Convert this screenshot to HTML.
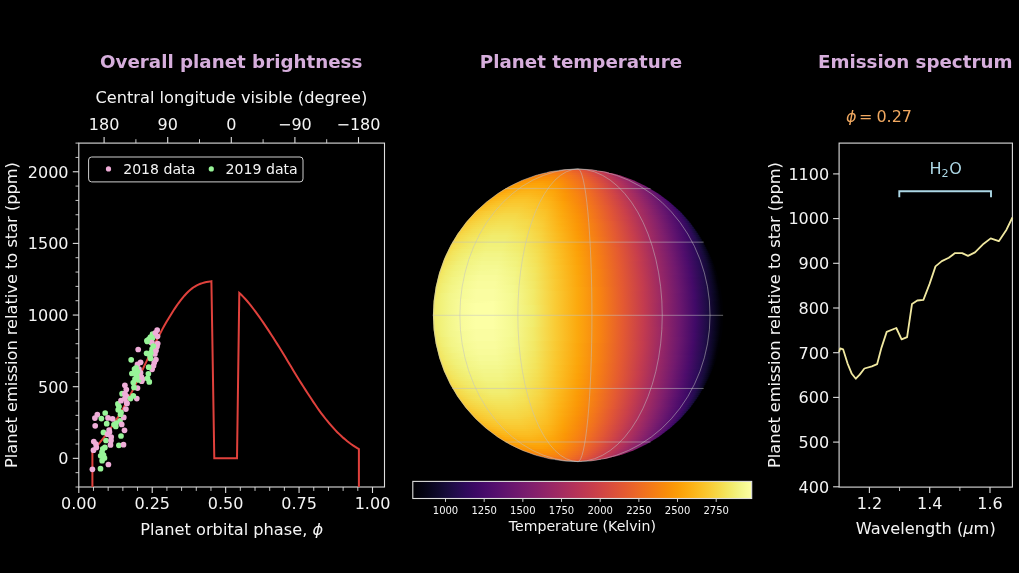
<!DOCTYPE html>
<html lang="en"><head><meta charset="utf-8"><title>Planet phase curve</title><style>html,body{margin:0;padding:0;background:#000;overflow:hidden}svg{display:block}</style></head><body><svg width="1019" height="573" viewBox="0 0 1019 573" font-family='"DejaVu Sans","Liberation Sans",sans-serif'>
<rect width="1019" height="573" fill="#000"/>
<text x="231.2" y="68.4" font-size="18.25" text-anchor="middle" fill="#d6aedc" font-weight="bold">Overall planet brightness</text>
<text x="581" y="68.4" font-size="18.25" text-anchor="middle" fill="#d6aedc" font-weight="bold">Planet temperature</text>
<text x="915.2" y="68.4" font-size="18.25" text-anchor="middle" fill="#d6aedc" font-weight="bold">Emission spectrum</text>
<rect x="78.8" y="143.1" width="305.7" height="343.9" fill="none" stroke="#dedede" stroke-width="1.1"/>
<line x1="78.8" y1="487" x2="78.8" y2="493" stroke="#dedede" stroke-width="1.1"/>
<text x="78.8" y="508.9" font-size="16.0" text-anchor="middle" fill="#f4f4f4">0.00</text>
<line x1="93.48" y1="487" x2="93.48" y2="490.9" stroke="#dedede" stroke-width="0.9"/>
<line x1="108.17" y1="487" x2="108.17" y2="490.9" stroke="#dedede" stroke-width="0.9"/>
<line x1="122.86" y1="487" x2="122.86" y2="490.9" stroke="#dedede" stroke-width="0.9"/>
<line x1="137.54" y1="487" x2="137.54" y2="490.9" stroke="#dedede" stroke-width="0.9"/>
<line x1="152.22" y1="487" x2="152.22" y2="493" stroke="#dedede" stroke-width="1.1"/>
<text x="152.22" y="508.9" font-size="16.0" text-anchor="middle" fill="#f4f4f4">0.25</text>
<line x1="166.91" y1="487" x2="166.91" y2="490.9" stroke="#dedede" stroke-width="0.9"/>
<line x1="181.59" y1="487" x2="181.59" y2="490.9" stroke="#dedede" stroke-width="0.9"/>
<line x1="196.28" y1="487" x2="196.28" y2="490.9" stroke="#dedede" stroke-width="0.9"/>
<line x1="210.96" y1="487" x2="210.96" y2="490.9" stroke="#dedede" stroke-width="0.9"/>
<line x1="225.65" y1="487" x2="225.65" y2="493" stroke="#dedede" stroke-width="1.1"/>
<text x="225.65" y="508.9" font-size="16.0" text-anchor="middle" fill="#f4f4f4">0.50</text>
<line x1="240.33" y1="487" x2="240.33" y2="490.9" stroke="#dedede" stroke-width="0.9"/>
<line x1="255.02" y1="487" x2="255.02" y2="490.9" stroke="#dedede" stroke-width="0.9"/>
<line x1="269.7" y1="487" x2="269.7" y2="490.9" stroke="#dedede" stroke-width="0.9"/>
<line x1="284.39" y1="487" x2="284.39" y2="490.9" stroke="#dedede" stroke-width="0.9"/>
<line x1="299.07" y1="487" x2="299.07" y2="493" stroke="#dedede" stroke-width="1.1"/>
<text x="299.07" y="508.9" font-size="16.0" text-anchor="middle" fill="#f4f4f4">0.75</text>
<line x1="313.76" y1="487" x2="313.76" y2="490.9" stroke="#dedede" stroke-width="0.9"/>
<line x1="328.44" y1="487" x2="328.44" y2="490.9" stroke="#dedede" stroke-width="0.9"/>
<line x1="343.13" y1="487" x2="343.13" y2="490.9" stroke="#dedede" stroke-width="0.9"/>
<line x1="357.81" y1="487" x2="357.81" y2="490.9" stroke="#dedede" stroke-width="0.9"/>
<line x1="372.5" y1="487" x2="372.5" y2="493" stroke="#dedede" stroke-width="1.1"/>
<text x="372.5" y="508.9" font-size="16.0" text-anchor="middle" fill="#f4f4f4">1.00</text>
<line x1="104.1" y1="143.1" x2="104.1" y2="137.1" stroke="#dedede" stroke-width="1.1"/>
<text x="104.1" y="130.3" font-size="16.0" text-anchor="middle" fill="#f4f4f4">180</text>
<line x1="135.9" y1="143.1" x2="135.9" y2="139.2" stroke="#dedede" stroke-width="0.9"/>
<line x1="167.7" y1="143.1" x2="167.7" y2="137.1" stroke="#dedede" stroke-width="1.1"/>
<text x="167.7" y="130.3" font-size="16.0" text-anchor="middle" fill="#f4f4f4">90</text>
<line x1="199.5" y1="143.1" x2="199.5" y2="139.2" stroke="#dedede" stroke-width="0.9"/>
<line x1="231.3" y1="143.1" x2="231.3" y2="137.1" stroke="#dedede" stroke-width="1.1"/>
<text x="231.3" y="130.3" font-size="16.0" text-anchor="middle" fill="#f4f4f4">0</text>
<line x1="263.1" y1="143.1" x2="263.1" y2="139.2" stroke="#dedede" stroke-width="0.9"/>
<line x1="294.9" y1="143.1" x2="294.9" y2="137.1" stroke="#dedede" stroke-width="1.1"/>
<text x="294.9" y="130.3" font-size="16.0" text-anchor="middle" fill="#f4f4f4">−90</text>
<line x1="326.7" y1="143.1" x2="326.7" y2="139.2" stroke="#dedede" stroke-width="0.9"/>
<line x1="358.5" y1="143.1" x2="358.5" y2="137.1" stroke="#dedede" stroke-width="1.1"/>
<text x="358.5" y="130.3" font-size="16.0" text-anchor="middle" fill="#f4f4f4">−180</text>
<line x1="78.8" y1="487" x2="75.5" y2="487" stroke="#dedede" stroke-width="0.9"/>
<line x1="78.8" y1="472.67" x2="75.5" y2="472.67" stroke="#dedede" stroke-width="0.9"/>
<line x1="78.8" y1="458.34" x2="72.8" y2="458.34" stroke="#dedede" stroke-width="1.1"/>
<text x="68.5" y="464.19" font-size="16.0" text-anchor="end" fill="#f4f4f4">0</text>
<line x1="78.8" y1="444.01" x2="75.5" y2="444.01" stroke="#dedede" stroke-width="0.9"/>
<line x1="78.8" y1="429.68" x2="75.5" y2="429.68" stroke="#dedede" stroke-width="0.9"/>
<line x1="78.8" y1="415.35" x2="75.5" y2="415.35" stroke="#dedede" stroke-width="0.9"/>
<line x1="78.8" y1="401.02" x2="75.5" y2="401.02" stroke="#dedede" stroke-width="0.9"/>
<line x1="78.8" y1="386.7" x2="72.8" y2="386.7" stroke="#dedede" stroke-width="1.1"/>
<text x="68.5" y="392.55" font-size="16.0" text-anchor="end" fill="#f4f4f4">500</text>
<line x1="78.8" y1="372.37" x2="75.5" y2="372.37" stroke="#dedede" stroke-width="0.9"/>
<line x1="78.8" y1="358.04" x2="75.5" y2="358.04" stroke="#dedede" stroke-width="0.9"/>
<line x1="78.8" y1="343.71" x2="75.5" y2="343.71" stroke="#dedede" stroke-width="0.9"/>
<line x1="78.8" y1="329.38" x2="75.5" y2="329.38" stroke="#dedede" stroke-width="0.9"/>
<line x1="78.8" y1="315.05" x2="72.8" y2="315.05" stroke="#dedede" stroke-width="1.1"/>
<text x="68.5" y="320.9" font-size="16.0" text-anchor="end" fill="#f4f4f4">1000</text>
<line x1="78.8" y1="300.72" x2="75.5" y2="300.72" stroke="#dedede" stroke-width="0.9"/>
<line x1="78.8" y1="286.39" x2="75.5" y2="286.39" stroke="#dedede" stroke-width="0.9"/>
<line x1="78.8" y1="272.06" x2="75.5" y2="272.06" stroke="#dedede" stroke-width="0.9"/>
<line x1="78.8" y1="257.73" x2="75.5" y2="257.73" stroke="#dedede" stroke-width="0.9"/>
<line x1="78.8" y1="243.4" x2="72.8" y2="243.4" stroke="#dedede" stroke-width="1.1"/>
<text x="68.5" y="249.25" font-size="16.0" text-anchor="end" fill="#f4f4f4">1500</text>
<line x1="78.8" y1="229.07" x2="75.5" y2="229.07" stroke="#dedede" stroke-width="0.9"/>
<line x1="78.8" y1="214.75" x2="75.5" y2="214.75" stroke="#dedede" stroke-width="0.9"/>
<line x1="78.8" y1="200.42" x2="75.5" y2="200.42" stroke="#dedede" stroke-width="0.9"/>
<line x1="78.8" y1="186.09" x2="75.5" y2="186.09" stroke="#dedede" stroke-width="0.9"/>
<line x1="78.8" y1="171.76" x2="72.8" y2="171.76" stroke="#dedede" stroke-width="1.1"/>
<text x="68.5" y="177.61" font-size="16.0" text-anchor="end" fill="#f4f4f4">2000</text>
<line x1="78.8" y1="157.43" x2="75.5" y2="157.43" stroke="#dedede" stroke-width="0.9"/>
<line x1="78.8" y1="143.1" x2="75.5" y2="143.1" stroke="#dedede" stroke-width="0.9"/>
<text x="231.35" y="102.8" font-size="16.2" text-anchor="middle" fill="#f4f4f4">Central longitude visible (degree)</text>
<text x="231.65" y="534.7" font-size="16.2" text-anchor="middle" fill="#f4f4f4">Planet orbital phase, <tspan font-style="italic">ϕ</tspan></text>
<text transform="translate(16.9 315.05) rotate(-90)" font-size="16.2" text-anchor="middle" fill="#f4f4f4">Planet emission relative to star (ppm)</text>
<polyline fill="none" stroke="#e0413c" stroke-width="2" stroke-linejoin="miter" points="92.4,487 92.4,452.05 94.4,449.45 96.4,446.91 98.4,444.39 100.4,441.88 102.4,439.34 104.4,436.77 106.4,434.13 108.4,431.42 110.4,428.63 112.4,425.74 114.4,422.74 116.4,419.64 118.4,416.43 120.4,413.1 122.4,409.66 124.4,406.1 126.4,402.44 128.4,398.67 130.4,394.8 132.4,390.84 134.4,386.8 136.4,382.68 138.4,378.5 140.4,374.27 142.4,370.03 144.4,365.8 146.4,361.59 148.4,357.38 150.4,353.18 152.4,349 154.4,344.87 156.4,340.81 158.4,336.82 160.4,332.93 162.4,329.14 164.4,325.52 166.4,322.06 168.4,318.71 170.4,315.44 172.4,312.2 174.4,309.07 176.4,306.1 178.4,303.28 180.4,300.64 182.4,298.13 184.4,295.72 186.4,293.48 188.4,291.46 190.4,289.69 192.4,288.14 194.4,286.77 196.4,285.6 198.4,284.6 200.4,283.77 202.4,283.08 204.4,282.52 206.4,282.06 208.4,281.68 210.4,281.37 211.4,281.22 214.3,458.3 237,458.3 239.3,292.99 241.3,294.84 243.3,296.85 245.3,298.99 247.3,301.26 249.3,303.66 251.3,306.17 253.3,308.74 255.3,311.39 257.3,314.11 259.3,316.91 261.3,319.78 263.3,322.68 265.3,325.62 267.3,328.59 269.3,331.61 271.3,334.69 273.3,337.82 275.3,340.97 277.3,344.14 279.3,347.33 281.3,350.55 283.3,353.8 285.3,357.1 287.3,360.43 289.3,363.78 291.3,367.11 293.3,370.41 295.3,373.7 297.3,376.95 299.3,380.17 301.3,383.35 303.3,386.5 305.3,389.59 307.3,392.67 309.3,395.75 311.3,398.81 313.3,401.83 315.3,404.81 317.3,407.72 319.3,410.55 321.3,413.29 323.3,415.94 325.3,418.5 327.3,420.98 329.3,423.39 331.3,425.71 333.3,427.95 335.3,430.11 337.3,432.18 339.3,434.16 341.3,436.06 343.3,437.88 345.3,439.6 347.3,441.25 349.3,442.8 351.3,444.27 353.3,445.65 355.3,446.95 357.3,448.16 358.9,449.07 358.9,487"/>
<circle cx="152.1" cy="349.1" r="2.85" fill="#98f598"/>
<circle cx="115.8" cy="426.5" r="2.85" fill="#98f598"/>
<circle cx="97.3" cy="414.7" r="2.85" fill="#efadd8"/>
<circle cx="157.7" cy="343.5" r="2.85" fill="#efadd8"/>
<circle cx="157.2" cy="330" r="2.85" fill="#efadd8"/>
<circle cx="142.5" cy="379" r="2.85" fill="#efadd8"/>
<circle cx="154.3" cy="362.5" r="2.85" fill="#efadd8"/>
<circle cx="147.5" cy="378.4" r="2.85" fill="#98f598"/>
<circle cx="122.1" cy="393.7" r="2.85" fill="#98f598"/>
<circle cx="139" cy="369" r="2.85" fill="#efadd8"/>
<circle cx="151.9" cy="342.6" r="2.85" fill="#efadd8"/>
<circle cx="118.9" cy="445.3" r="2.85" fill="#98f598"/>
<circle cx="95.9" cy="444" r="2.85" fill="#efadd8"/>
<circle cx="154.9" cy="354" r="2.85" fill="#efadd8"/>
<circle cx="93.8" cy="441.6" r="2.85" fill="#efadd8"/>
<circle cx="141.7" cy="381.2" r="2.85" fill="#efadd8"/>
<circle cx="140.6" cy="372.8" r="2.85" fill="#efadd8"/>
<circle cx="120" cy="420.9" r="2.85" fill="#98f598"/>
<circle cx="149.3" cy="381.9" r="2.85" fill="#98f598"/>
<circle cx="133.3" cy="382.6" r="2.85" fill="#98f598"/>
<circle cx="117.9" cy="403.9" r="2.85" fill="#98f598"/>
<circle cx="102" cy="452" r="2.85" fill="#98f598"/>
<circle cx="121.7" cy="424.4" r="2.85" fill="#efadd8"/>
<circle cx="124.9" cy="398.6" r="2.85" fill="#efadd8"/>
<circle cx="134.5" cy="372.6" r="2.85" fill="#98f598"/>
<circle cx="134.5" cy="369" r="2.85" fill="#98f598"/>
<circle cx="151" cy="352.5" r="2.85" fill="#98f598"/>
<circle cx="152.5" cy="338" r="2.85" fill="#98f598"/>
<circle cx="116.1" cy="423" r="2.85" fill="#98f598"/>
<circle cx="155.9" cy="359.5" r="2.85" fill="#efadd8"/>
<circle cx="152.6" cy="334.2" r="2.85" fill="#98f598"/>
<circle cx="138.2" cy="349.5" r="2.85" fill="#efadd8"/>
<circle cx="136.5" cy="375.5" r="2.85" fill="#98f598"/>
<circle cx="135" cy="379" r="2.85" fill="#98f598"/>
<circle cx="149" cy="339" r="2.85" fill="#98f598"/>
<circle cx="93.5" cy="450.2" r="2.85" fill="#efadd8"/>
<circle cx="121" cy="400.7" r="2.85" fill="#efadd8"/>
<circle cx="140.6" cy="362.3" r="2.85" fill="#efadd8"/>
<circle cx="96.3" cy="447.4" r="2.85" fill="#efadd8"/>
<circle cx="114" cy="424.5" r="2.85" fill="#98f598"/>
<circle cx="137.5" cy="388.1" r="2.85" fill="#efadd8"/>
<circle cx="126.3" cy="396" r="2.85" fill="#efadd8"/>
<circle cx="148.4" cy="373.8" r="2.85" fill="#98f598"/>
<circle cx="100.7" cy="455.8" r="2.85" fill="#98f598"/>
<circle cx="157" cy="346.5" r="2.85" fill="#efadd8"/>
<circle cx="147" cy="340.5" r="2.85" fill="#98f598"/>
<circle cx="104.5" cy="458" r="2.85" fill="#98f598"/>
<circle cx="126.6" cy="402.8" r="2.85" fill="#efadd8"/>
<circle cx="94.9" cy="418.1" r="2.85" fill="#efadd8"/>
<circle cx="153.5" cy="365.8" r="2.85" fill="#efadd8"/>
<circle cx="121" cy="412.3" r="2.85" fill="#98f598"/>
<circle cx="106.7" cy="423.7" r="2.85" fill="#98f598"/>
<circle cx="109.5" cy="432" r="2.85" fill="#efadd8"/>
<circle cx="152.1" cy="369.3" r="2.85" fill="#efadd8"/>
<circle cx="150" cy="356" r="2.85" fill="#98f598"/>
<circle cx="150.5" cy="358.5" r="2.85" fill="#98f598"/>
<circle cx="124.9" cy="385.3" r="2.85" fill="#efadd8"/>
<circle cx="124.5" cy="430.3" r="2.85" fill="#efadd8"/>
<circle cx="105.2" cy="413" r="2.85" fill="#98f598"/>
<circle cx="106" cy="440.5" r="2.85" fill="#98f598"/>
<circle cx="119" cy="406.5" r="2.85" fill="#98f598"/>
<circle cx="126.3" cy="389.5" r="2.85" fill="#efadd8"/>
<circle cx="123.8" cy="417.4" r="2.85" fill="#efadd8"/>
<circle cx="102.1" cy="460.7" r="2.85" fill="#98f598"/>
<circle cx="131.2" cy="359.8" r="2.85" fill="#98f598"/>
<circle cx="146.6" cy="353.3" r="2.85" fill="#98f598"/>
<circle cx="110.5" cy="444.9" r="2.85" fill="#efadd8"/>
<circle cx="155.4" cy="332.8" r="2.85" fill="#efadd8"/>
<circle cx="108.4" cy="464.5" r="2.85" fill="#efadd8"/>
<circle cx="150.5" cy="337" r="2.85" fill="#98f598"/>
<circle cx="125.9" cy="409.1" r="2.85" fill="#efadd8"/>
<circle cx="101.4" cy="418.6" r="2.85" fill="#98f598"/>
<circle cx="108" cy="417.9" r="2.85" fill="#efadd8"/>
<circle cx="109.1" cy="430" r="2.85" fill="#efadd8"/>
<circle cx="95.2" cy="425.8" r="2.85" fill="#efadd8"/>
<circle cx="120.5" cy="414.5" r="2.85" fill="#98f598"/>
<circle cx="151.4" cy="342.5" r="2.85" fill="#efadd8"/>
<circle cx="130.5" cy="398.6" r="2.85" fill="#98f598"/>
<circle cx="136.8" cy="398.6" r="2.85" fill="#efadd8"/>
<circle cx="111" cy="440.5" r="2.85" fill="#efadd8"/>
<circle cx="104.9" cy="447.4" r="2.85" fill="#98f598"/>
<circle cx="148.7" cy="367.2" r="2.85" fill="#98f598"/>
<circle cx="133.3" cy="395.8" r="2.85" fill="#98f598"/>
<circle cx="138.5" cy="380" r="2.85" fill="#98f598"/>
<circle cx="100.5" cy="468.7" r="2.85" fill="#98f598"/>
<circle cx="103.5" cy="432.4" r="2.85" fill="#98f598"/>
<circle cx="92.4" cy="469.3" r="2.85" fill="#efadd8"/>
<circle cx="141.4" cy="377" r="2.85" fill="#efadd8"/>
<circle cx="131.9" cy="373.5" r="2.85" fill="#98f598"/>
<circle cx="102.8" cy="448.8" r="2.85" fill="#98f598"/>
<circle cx="137.5" cy="371.5" r="2.85" fill="#98f598"/>
<circle cx="147.3" cy="341.4" r="2.85" fill="#98f598"/>
<circle cx="124.9" cy="393.7" r="2.85" fill="#efadd8"/>
<circle cx="127" cy="403.5" r="2.85" fill="#efadd8"/>
<circle cx="156" cy="350.5" r="2.85" fill="#efadd8"/>
<circle cx="123.5" cy="444.7" r="2.85" fill="#efadd8"/>
<circle cx="112.6" cy="418.8" r="2.85" fill="#efadd8"/>
<circle cx="136.8" cy="377" r="2.85" fill="#98f598"/>
<circle cx="137.5" cy="364.4" r="2.85" fill="#efadd8"/>
<circle cx="121" cy="436" r="2.85" fill="#98f598"/>
<circle cx="153.3" cy="346" r="2.85" fill="#98f598"/>
<circle cx="134" cy="387.4" r="2.85" fill="#98f598"/>
<circle cx="136.1" cy="367.9" r="2.85" fill="#98f598"/>
<circle cx="111.2" cy="437" r="2.85" fill="#efadd8"/>
<circle cx="157.5" cy="336.3" r="2.85" fill="#efadd8"/>
<circle cx="107.7" cy="434.2" r="2.85" fill="#efadd8"/>
<circle cx="103.5" cy="455.1" r="2.85" fill="#98f598"/>
<circle cx="118.2" cy="409.8" r="2.85" fill="#98f598"/>
<rect x="88.6" y="157" width="214.4" height="24.9" rx="3" fill="#000" stroke="#cfcfcf" stroke-width="1"/>
<circle cx="108.5" cy="168.9" r="2.6" fill="#efadd8"/>
<text x="123.2" y="174.3" font-size="14.1" text-anchor="start" fill="#f4f4f4">2018 data</text>
<circle cx="211.3" cy="168.9" r="2.6" fill="#98f598"/>
<text x="225.6" y="174.3" font-size="14.1" text-anchor="start" fill="#f4f4f4">2019 data</text>
<defs><clipPath id="disk"><ellipse cx="578.0" cy="315.3" rx="145.1" ry="146.3"/></clipPath></defs>
<defs><linearGradient id="g0" gradientUnits="userSpaceOnUse" x1="432.9" x2="723.1" y1="0" y2="0"><stop offset="0.4416" stop-color="#e9612b"/><stop offset="0.4424" stop-color="#e9612b"/><stop offset="0.4445" stop-color="#ea632a"/><stop offset="0.4480" stop-color="#ea632a"/><stop offset="0.4528" stop-color="#eb6429"/><stop offset="0.4587" stop-color="#eb6429"/><stop offset="0.4657" stop-color="#eb6429"/><stop offset="0.4735" stop-color="#eb6429"/><stop offset="0.4820" stop-color="#e9612b"/><stop offset="0.4909" stop-color="#e65d2f"/><stop offset="0.5000" stop-color="#e45a31"/><stop offset="0.5091" stop-color="#e05536"/><stop offset="0.5180" stop-color="#db503b"/><stop offset="0.5265" stop-color="#d84c3e"/><stop offset="0.5343" stop-color="#d34743"/><stop offset="0.5413" stop-color="#cf4446"/><stop offset="0.5472" stop-color="#cb4149"/><stop offset="0.5520" stop-color="#c73e4c"/><stop offset="0.5555" stop-color="#c43c4e"/><stop offset="0.5576" stop-color="#c13a50"/><stop offset="0.5584" stop-color="#c03a51"/></linearGradient><linearGradient id="g1" gradientUnits="userSpaceOnUse" x1="432.9" x2="723.1" y1="0" y2="0"><stop offset="0.3993" stop-color="#ef6e21"/><stop offset="0.4005" stop-color="#f06f20"/><stop offset="0.4042" stop-color="#f1711f"/><stop offset="0.4102" stop-color="#f1731d"/><stop offset="0.4185" stop-color="#f2741c"/><stop offset="0.4288" stop-color="#f2741c"/><stop offset="0.4408" stop-color="#f2741c"/><stop offset="0.4543" stop-color="#f1731d"/><stop offset="0.4689" stop-color="#f06f20"/><stop offset="0.4842" stop-color="#ec6726"/><stop offset="0.5000" stop-color="#e9612b"/><stop offset="0.5158" stop-color="#e35933"/><stop offset="0.5311" stop-color="#dd513a"/><stop offset="0.5457" stop-color="#d54a41"/><stop offset="0.5592" stop-color="#ce4347"/><stop offset="0.5712" stop-color="#c63d4d"/><stop offset="0.5815" stop-color="#bf3952"/><stop offset="0.5898" stop-color="#b93556"/><stop offset="0.5958" stop-color="#b43359"/><stop offset="0.5995" stop-color="#ae305c"/><stop offset="0.6007" stop-color="#a92e5e"/></linearGradient><linearGradient id="g2" gradientUnits="userSpaceOnUse" x1="432.9" x2="723.1" y1="0" y2="0"><stop offset="0.3704" stop-color="#f3761b"/><stop offset="0.3720" stop-color="#f37819"/><stop offset="0.3767" stop-color="#f47918"/><stop offset="0.3845" stop-color="#f57d15"/><stop offset="0.3952" stop-color="#f67e14"/><stop offset="0.4084" stop-color="#f68013"/><stop offset="0.4238" stop-color="#f68013"/><stop offset="0.4412" stop-color="#f57d15"/><stop offset="0.4600" stop-color="#f37819"/><stop offset="0.4797" stop-color="#f06f20"/><stop offset="0.5000" stop-color="#eb6628"/><stop offset="0.5203" stop-color="#e55c30"/><stop offset="0.5400" stop-color="#de5238"/><stop offset="0.5588" stop-color="#d44842"/><stop offset="0.5762" stop-color="#ca404a"/><stop offset="0.5916" stop-color="#c03a51"/><stop offset="0.6048" stop-color="#b63458"/><stop offset="0.6155" stop-color="#ae305c"/><stop offset="0.6233" stop-color="#a82e5f"/><stop offset="0.6280" stop-color="#a02a63"/><stop offset="0.6296" stop-color="#9a2865"/></linearGradient><linearGradient id="g3" gradientUnits="userSpaceOnUse" x1="432.9" x2="723.1" y1="0" y2="0"><stop offset="0.3472" stop-color="#f57d15"/><stop offset="0.3491" stop-color="#f68013"/><stop offset="0.3547" stop-color="#f78212"/><stop offset="0.3638" stop-color="#f78410"/><stop offset="0.3764" stop-color="#f8870e"/><stop offset="0.3919" stop-color="#f8890c"/><stop offset="0.4102" stop-color="#f8890c"/><stop offset="0.4306" stop-color="#f8850f"/><stop offset="0.4528" stop-color="#f67e14"/><stop offset="0.4761" stop-color="#f3761b"/><stop offset="0.5000" stop-color="#ee6a24"/><stop offset="0.5239" stop-color="#e75e2e"/><stop offset="0.5472" stop-color="#de5238"/><stop offset="0.5694" stop-color="#d34743"/><stop offset="0.5898" stop-color="#c73e4c"/><stop offset="0.6081" stop-color="#bc3754"/><stop offset="0.6236" stop-color="#b0315b"/><stop offset="0.6362" stop-color="#a62d60"/><stop offset="0.6453" stop-color="#9d2964"/><stop offset="0.6509" stop-color="#952667"/><stop offset="0.6528" stop-color="#8d2369"/></linearGradient><linearGradient id="g4" gradientUnits="userSpaceOnUse" x1="432.9" x2="723.1" y1="0" y2="0"><stop offset="0.3273" stop-color="#f78410"/><stop offset="0.3295" stop-color="#f8850f"/><stop offset="0.3358" stop-color="#f8890c"/><stop offset="0.3462" stop-color="#f98b0b"/><stop offset="0.3603" stop-color="#f98e09"/><stop offset="0.3779" stop-color="#fa9008"/><stop offset="0.3985" stop-color="#fa9008"/><stop offset="0.4216" stop-color="#f98c0a"/><stop offset="0.4466" stop-color="#f8850f"/><stop offset="0.4730" stop-color="#f47918"/><stop offset="0.5000" stop-color="#ef6e21"/><stop offset="0.5270" stop-color="#e9612b"/><stop offset="0.5534" stop-color="#df5337"/><stop offset="0.5784" stop-color="#d34743"/><stop offset="0.6015" stop-color="#c43c4e"/><stop offset="0.6221" stop-color="#b73557"/><stop offset="0.6397" stop-color="#a92e5e"/><stop offset="0.6538" stop-color="#9f2a63"/><stop offset="0.6642" stop-color="#952667"/><stop offset="0.6705" stop-color="#8c2369"/><stop offset="0.6727" stop-color="#82206c"/></linearGradient><linearGradient id="g5" gradientUnits="userSpaceOnUse" x1="432.9" x2="723.1" y1="0" y2="0"><stop offset="0.3098" stop-color="#f8890c"/><stop offset="0.3121" stop-color="#f98b0b"/><stop offset="0.3191" stop-color="#f98e09"/><stop offset="0.3305" stop-color="#fa9207"/><stop offset="0.3461" stop-color="#fa9407"/><stop offset="0.3655" stop-color="#fb9606"/><stop offset="0.3882" stop-color="#fb9606"/><stop offset="0.4136" stop-color="#fa9207"/><stop offset="0.4412" stop-color="#f98b0b"/><stop offset="0.4702" stop-color="#f67e14"/><stop offset="0.5000" stop-color="#f1711f"/><stop offset="0.5298" stop-color="#ea632a"/><stop offset="0.5588" stop-color="#df5337"/><stop offset="0.5864" stop-color="#d24644"/><stop offset="0.6118" stop-color="#c33b4f"/><stop offset="0.6345" stop-color="#b3325a"/><stop offset="0.6539" stop-color="#a32c61"/><stop offset="0.6695" stop-color="#972766"/><stop offset="0.6809" stop-color="#8d2369"/><stop offset="0.6879" stop-color="#84206b"/><stop offset="0.6902" stop-color="#781c6d"/></linearGradient><linearGradient id="g6" gradientUnits="userSpaceOnUse" x1="432.9" x2="723.1" y1="0" y2="0"><stop offset="0.2940" stop-color="#f98e09"/><stop offset="0.2965" stop-color="#fa9008"/><stop offset="0.3040" stop-color="#fa9407"/><stop offset="0.3164" stop-color="#fb9706"/><stop offset="0.3333" stop-color="#fb9906"/><stop offset="0.3543" stop-color="#fb9d07"/><stop offset="0.3789" stop-color="#fb9d07"/><stop offset="0.4065" stop-color="#fb9906"/><stop offset="0.4363" stop-color="#fa9008"/><stop offset="0.4678" stop-color="#f78212"/><stop offset="0.5000" stop-color="#f2741c"/><stop offset="0.5322" stop-color="#eb6429"/><stop offset="0.5637" stop-color="#df5337"/><stop offset="0.5935" stop-color="#d04545"/><stop offset="0.6211" stop-color="#c03a51"/><stop offset="0.6457" stop-color="#b0315b"/><stop offset="0.6667" stop-color="#9f2a63"/><stop offset="0.6836" stop-color="#922568"/><stop offset="0.6960" stop-color="#87216b"/><stop offset="0.7035" stop-color="#7c1d6d"/><stop offset="0.7060" stop-color="#71196e"/></linearGradient><linearGradient id="g7" gradientUnits="userSpaceOnUse" x1="432.9" x2="723.1" y1="0" y2="0"><stop offset="0.2795" stop-color="#fa9207"/><stop offset="0.2822" stop-color="#fb9606"/><stop offset="0.2903" stop-color="#fb9706"/><stop offset="0.3035" stop-color="#fb9b06"/><stop offset="0.3216" stop-color="#fc9f07"/><stop offset="0.3441" stop-color="#fca309"/><stop offset="0.3704" stop-color="#fca309"/><stop offset="0.3999" stop-color="#fb9d07"/><stop offset="0.4319" stop-color="#fb9606"/><stop offset="0.4655" stop-color="#f8850f"/><stop offset="0.5000" stop-color="#f3761b"/><stop offset="0.5345" stop-color="#eb6628"/><stop offset="0.5681" stop-color="#e05536"/><stop offset="0.6001" stop-color="#d04545"/><stop offset="0.6296" stop-color="#bf3952"/><stop offset="0.6559" stop-color="#ab2f5e"/><stop offset="0.6784" stop-color="#9a2865"/><stop offset="0.6965" stop-color="#8c2369"/><stop offset="0.7097" stop-color="#801f6c"/><stop offset="0.7178" stop-color="#741a6e"/><stop offset="0.7205" stop-color="#69166e"/></linearGradient><linearGradient id="g8" gradientUnits="userSpaceOnUse" x1="432.9" x2="723.1" y1="0" y2="0"><stop offset="0.2661" stop-color="#fb9606"/><stop offset="0.2689" stop-color="#fb9906"/><stop offset="0.2775" stop-color="#fb9d07"/><stop offset="0.2916" stop-color="#fca108"/><stop offset="0.3107" stop-color="#fca50a"/><stop offset="0.3346" stop-color="#fca60c"/><stop offset="0.3625" stop-color="#fca60c"/><stop offset="0.3938" stop-color="#fca309"/><stop offset="0.4277" stop-color="#fb9906"/><stop offset="0.4634" stop-color="#f8890c"/><stop offset="0.5000" stop-color="#f47918"/><stop offset="0.5366" stop-color="#ec6726"/><stop offset="0.5723" stop-color="#e05536"/><stop offset="0.6062" stop-color="#cf4446"/><stop offset="0.6375" stop-color="#bc3754"/><stop offset="0.6654" stop-color="#a82e5f"/><stop offset="0.6893" stop-color="#952667"/><stop offset="0.7084" stop-color="#87216b"/><stop offset="0.7225" stop-color="#7a1d6d"/><stop offset="0.7311" stop-color="#6d186e"/><stop offset="0.7339" stop-color="#61136e"/></linearGradient><linearGradient id="g9" gradientUnits="userSpaceOnUse" x1="432.9" x2="723.1" y1="0" y2="0"><stop offset="0.2536" stop-color="#fb9906"/><stop offset="0.2566" stop-color="#fb9d07"/><stop offset="0.2656" stop-color="#fca108"/><stop offset="0.2804" stop-color="#fca50a"/><stop offset="0.3006" stop-color="#fca80d"/><stop offset="0.3258" stop-color="#fcac11"/><stop offset="0.3552" stop-color="#fcac11"/><stop offset="0.3881" stop-color="#fca60c"/><stop offset="0.4239" stop-color="#fb9d07"/><stop offset="0.4615" stop-color="#f98c0a"/><stop offset="0.5000" stop-color="#f57b17"/><stop offset="0.5385" stop-color="#ec6726"/><stop offset="0.5761" stop-color="#e05536"/><stop offset="0.6119" stop-color="#cf4446"/><stop offset="0.6448" stop-color="#ba3655"/><stop offset="0.6742" stop-color="#a62d60"/><stop offset="0.6994" stop-color="#922568"/><stop offset="0.7196" stop-color="#82206c"/><stop offset="0.7344" stop-color="#751b6e"/><stop offset="0.7434" stop-color="#67166e"/><stop offset="0.7464" stop-color="#5a116e"/></linearGradient><linearGradient id="g10" gradientUnits="userSpaceOnUse" x1="432.9" x2="723.1" y1="0" y2="0"><stop offset="0.2419" stop-color="#fb9d07"/><stop offset="0.2451" stop-color="#fca108"/><stop offset="0.2545" stop-color="#fca50a"/><stop offset="0.2700" stop-color="#fca80d"/><stop offset="0.2912" stop-color="#fcac11"/><stop offset="0.3175" stop-color="#fcb014"/><stop offset="0.3483" stop-color="#fcb014"/><stop offset="0.3828" stop-color="#fcaa0f"/><stop offset="0.4202" stop-color="#fca108"/><stop offset="0.4596" stop-color="#fa9008"/><stop offset="0.5000" stop-color="#f57d15"/><stop offset="0.5404" stop-color="#ed6925"/><stop offset="0.5798" stop-color="#e05536"/><stop offset="0.6172" stop-color="#cf4446"/><stop offset="0.6517" stop-color="#b93556"/><stop offset="0.6825" stop-color="#a32c61"/><stop offset="0.7088" stop-color="#8f2469"/><stop offset="0.7300" stop-color="#7d1e6d"/><stop offset="0.7455" stop-color="#6f196e"/><stop offset="0.7549" stop-color="#62146e"/><stop offset="0.7581" stop-color="#540f6d"/></linearGradient><linearGradient id="g11" gradientUnits="userSpaceOnUse" x1="432.9" x2="723.1" y1="0" y2="0"><stop offset="0.2309" stop-color="#fca108"/><stop offset="0.2342" stop-color="#fca50a"/><stop offset="0.2440" stop-color="#fca80d"/><stop offset="0.2602" stop-color="#fcac11"/><stop offset="0.2823" stop-color="#fcb014"/><stop offset="0.3097" stop-color="#fcb418"/><stop offset="0.3418" stop-color="#fcb418"/><stop offset="0.3778" stop-color="#fcb014"/><stop offset="0.4168" stop-color="#fca50a"/><stop offset="0.4579" stop-color="#fa9207"/><stop offset="0.5000" stop-color="#f68013"/><stop offset="0.5421" stop-color="#ee6a24"/><stop offset="0.5832" stop-color="#e05536"/><stop offset="0.6222" stop-color="#ce4347"/><stop offset="0.6582" stop-color="#b73557"/><stop offset="0.6903" stop-color="#a02a63"/><stop offset="0.7177" stop-color="#8a226a"/><stop offset="0.7398" stop-color="#781c6d"/><stop offset="0.7560" stop-color="#6a176e"/><stop offset="0.7658" stop-color="#5c126e"/><stop offset="0.7691" stop-color="#4d0d6c"/></linearGradient><linearGradient id="g12" gradientUnits="userSpaceOnUse" x1="432.9" x2="723.1" y1="0" y2="0"><stop offset="0.2205" stop-color="#fca50a"/><stop offset="0.2239" stop-color="#fca80d"/><stop offset="0.2341" stop-color="#fcac11"/><stop offset="0.2509" stop-color="#fcb014"/><stop offset="0.2739" stop-color="#fcb418"/><stop offset="0.3023" stop-color="#fbb81d"/><stop offset="0.3357" stop-color="#fbb81d"/><stop offset="0.3731" stop-color="#fcb216"/><stop offset="0.4136" stop-color="#fca80d"/><stop offset="0.4563" stop-color="#fb9606"/><stop offset="0.5000" stop-color="#f78212"/><stop offset="0.5437" stop-color="#ef6c23"/><stop offset="0.5864" stop-color="#e15635"/><stop offset="0.6269" stop-color="#ce4347"/><stop offset="0.6643" stop-color="#b63458"/><stop offset="0.6977" stop-color="#9f2a63"/><stop offset="0.7261" stop-color="#87216b"/><stop offset="0.7491" stop-color="#751b6e"/><stop offset="0.7659" stop-color="#67166e"/><stop offset="0.7761" stop-color="#57106e"/><stop offset="0.7795" stop-color="#490b6a"/></linearGradient><linearGradient id="g13" gradientUnits="userSpaceOnUse" x1="432.9" x2="723.1" y1="0" y2="0"><stop offset="0.2106" stop-color="#fca60c"/><stop offset="0.2141" stop-color="#fcaa0f"/><stop offset="0.2247" stop-color="#fcb014"/><stop offset="0.2421" stop-color="#fcb418"/><stop offset="0.2659" stop-color="#fbb81d"/><stop offset="0.2954" stop-color="#fbbc21"/><stop offset="0.3299" stop-color="#fbbc21"/><stop offset="0.3686" stop-color="#fbb61a"/><stop offset="0.4106" stop-color="#fcaa0f"/><stop offset="0.4547" stop-color="#fb9706"/><stop offset="0.5000" stop-color="#f78410"/><stop offset="0.5453" stop-color="#ef6c23"/><stop offset="0.5894" stop-color="#e15635"/><stop offset="0.6314" stop-color="#ce4347"/><stop offset="0.6701" stop-color="#b43359"/><stop offset="0.7046" stop-color="#9b2964"/><stop offset="0.7341" stop-color="#84206b"/><stop offset="0.7579" stop-color="#71196e"/><stop offset="0.7753" stop-color="#62146e"/><stop offset="0.7859" stop-color="#520e6d"/><stop offset="0.7894" stop-color="#420a68"/></linearGradient><linearGradient id="g14" gradientUnits="userSpaceOnUse" x1="432.9" x2="723.1" y1="0" y2="0"><stop offset="0.2012" stop-color="#fcaa0f"/><stop offset="0.2049" stop-color="#fcae12"/><stop offset="0.2158" stop-color="#fcb216"/><stop offset="0.2338" stop-color="#fbb81d"/><stop offset="0.2583" stop-color="#fbbc21"/><stop offset="0.2887" stop-color="#fac026"/><stop offset="0.3244" stop-color="#fac026"/><stop offset="0.3643" stop-color="#fbba1f"/><stop offset="0.4077" stop-color="#fcae12"/><stop offset="0.4533" stop-color="#fb9906"/><stop offset="0.5000" stop-color="#f8850f"/><stop offset="0.5467" stop-color="#ef6e21"/><stop offset="0.5923" stop-color="#e15635"/><stop offset="0.6357" stop-color="#cc4248"/><stop offset="0.6756" stop-color="#b3325a"/><stop offset="0.7113" stop-color="#9a2865"/><stop offset="0.7417" stop-color="#801f6c"/><stop offset="0.7662" stop-color="#6d186e"/><stop offset="0.7842" stop-color="#5d126e"/><stop offset="0.7951" stop-color="#4d0d6c"/><stop offset="0.7988" stop-color="#3d0965"/></linearGradient><linearGradient id="g15" gradientUnits="userSpaceOnUse" x1="432.9" x2="723.1" y1="0" y2="0"><stop offset="0.1922" stop-color="#fcac11"/><stop offset="0.1960" stop-color="#fcb014"/><stop offset="0.2073" stop-color="#fbb61a"/><stop offset="0.2258" stop-color="#fbba1f"/><stop offset="0.2510" stop-color="#fac026"/><stop offset="0.2824" stop-color="#fac42a"/><stop offset="0.3191" stop-color="#fac42a"/><stop offset="0.3603" stop-color="#fbbe23"/><stop offset="0.4049" stop-color="#fcb014"/><stop offset="0.4519" stop-color="#fb9b06"/><stop offset="0.5000" stop-color="#f8870e"/><stop offset="0.5481" stop-color="#ef6e21"/><stop offset="0.5951" stop-color="#e15635"/><stop offset="0.6397" stop-color="#cc4248"/><stop offset="0.6809" stop-color="#b1325a"/><stop offset="0.7176" stop-color="#972766"/><stop offset="0.7490" stop-color="#7f1e6c"/><stop offset="0.7742" stop-color="#6a176e"/><stop offset="0.7927" stop-color="#5a116e"/><stop offset="0.8040" stop-color="#490b6a"/><stop offset="0.8078" stop-color="#380962"/></linearGradient><linearGradient id="g16" gradientUnits="userSpaceOnUse" x1="432.9" x2="723.1" y1="0" y2="0"><stop offset="0.1837" stop-color="#fcb014"/><stop offset="0.1876" stop-color="#fcb418"/><stop offset="0.1992" stop-color="#fbb81d"/><stop offset="0.2182" stop-color="#fbbe23"/><stop offset="0.2441" stop-color="#fac228"/><stop offset="0.2763" stop-color="#fac62d"/><stop offset="0.3141" stop-color="#fac62d"/><stop offset="0.3564" stop-color="#fac026"/><stop offset="0.4022" stop-color="#fcb418"/><stop offset="0.4505" stop-color="#fc9f07"/><stop offset="0.5000" stop-color="#f8870e"/><stop offset="0.5495" stop-color="#f06f20"/><stop offset="0.5978" stop-color="#e15635"/><stop offset="0.6436" stop-color="#cc4248"/><stop offset="0.6859" stop-color="#b1325a"/><stop offset="0.7237" stop-color="#952667"/><stop offset="0.7559" stop-color="#7c1d6d"/><stop offset="0.7818" stop-color="#67166e"/><stop offset="0.8008" stop-color="#550f6d"/><stop offset="0.8124" stop-color="#450a69"/><stop offset="0.8163" stop-color="#320a5e"/></linearGradient><linearGradient id="g17" gradientUnits="userSpaceOnUse" x1="432.9" x2="723.1" y1="0" y2="0"><stop offset="0.1755" stop-color="#fcb216"/><stop offset="0.1795" stop-color="#fbb61a"/><stop offset="0.1914" stop-color="#fbbc21"/><stop offset="0.2109" stop-color="#fac026"/><stop offset="0.2375" stop-color="#fac62d"/><stop offset="0.2705" stop-color="#f9c932"/><stop offset="0.3093" stop-color="#f9c932"/><stop offset="0.3527" stop-color="#fac42a"/><stop offset="0.3997" stop-color="#fbb61a"/><stop offset="0.4492" stop-color="#fca108"/><stop offset="0.5000" stop-color="#f8890c"/><stop offset="0.5508" stop-color="#f06f20"/><stop offset="0.6003" stop-color="#e15635"/><stop offset="0.6473" stop-color="#cb4149"/><stop offset="0.6907" stop-color="#b0315b"/><stop offset="0.7295" stop-color="#932667"/><stop offset="0.7625" stop-color="#781c6d"/><stop offset="0.7891" stop-color="#64156e"/><stop offset="0.8086" stop-color="#520e6d"/><stop offset="0.8205" stop-color="#400a67"/><stop offset="0.8245" stop-color="#2d0b59"/></linearGradient><linearGradient id="g18" gradientUnits="userSpaceOnUse" x1="432.9" x2="723.1" y1="0" y2="0"><stop offset="0.1676" stop-color="#fcb418"/><stop offset="0.1717" stop-color="#fbb81d"/><stop offset="0.1839" stop-color="#fbbe23"/><stop offset="0.2039" stop-color="#fac42a"/><stop offset="0.2311" stop-color="#f9c72f"/><stop offset="0.2650" stop-color="#f9cb35"/><stop offset="0.3046" stop-color="#f9cb35"/><stop offset="0.3491" stop-color="#fac62d"/><stop offset="0.3973" stop-color="#fbb81d"/><stop offset="0.4480" stop-color="#fca309"/><stop offset="0.5000" stop-color="#f98b0b"/><stop offset="0.5520" stop-color="#f1711f"/><stop offset="0.6027" stop-color="#e25734"/><stop offset="0.6509" stop-color="#cb4149"/><stop offset="0.6954" stop-color="#ae305c"/><stop offset="0.7350" stop-color="#922568"/><stop offset="0.7689" stop-color="#771c6d"/><stop offset="0.7961" stop-color="#61136e"/><stop offset="0.8161" stop-color="#4f0d6c"/><stop offset="0.8283" stop-color="#3d0965"/><stop offset="0.8324" stop-color="#290b55"/></linearGradient><linearGradient id="g19" gradientUnits="userSpaceOnUse" x1="432.9" x2="723.1" y1="0" y2="0"><stop offset="0.1601" stop-color="#fbb61a"/><stop offset="0.1643" stop-color="#fbbc21"/><stop offset="0.1767" stop-color="#fac026"/><stop offset="0.1972" stop-color="#fac62d"/><stop offset="0.2250" stop-color="#f9cb35"/><stop offset="0.2597" stop-color="#f8cf3a"/><stop offset="0.3002" stop-color="#f8cf3a"/><stop offset="0.3457" stop-color="#f9c72f"/><stop offset="0.3950" stop-color="#fbba1f"/><stop offset="0.4468" stop-color="#fca50a"/><stop offset="0.5000" stop-color="#f98c0a"/><stop offset="0.5532" stop-color="#f1711f"/><stop offset="0.6050" stop-color="#e25734"/><stop offset="0.6543" stop-color="#cb4149"/><stop offset="0.6998" stop-color="#ad305d"/><stop offset="0.7403" stop-color="#902568"/><stop offset="0.7750" stop-color="#741a6e"/><stop offset="0.8028" stop-color="#5d126e"/><stop offset="0.8233" stop-color="#4c0c6b"/><stop offset="0.8357" stop-color="#380962"/><stop offset="0.8399" stop-color="#240c4f"/></linearGradient><linearGradient id="g20" gradientUnits="userSpaceOnUse" x1="432.9" x2="723.1" y1="0" y2="0"><stop offset="0.1529" stop-color="#fbb81d"/><stop offset="0.1572" stop-color="#fbbe23"/><stop offset="0.1699" stop-color="#fac228"/><stop offset="0.1907" stop-color="#f9c72f"/><stop offset="0.2192" stop-color="#f8cd37"/><stop offset="0.2546" stop-color="#f7d13d"/><stop offset="0.2960" stop-color="#f7d13d"/><stop offset="0.3424" stop-color="#f9cb35"/><stop offset="0.3927" stop-color="#fbbe23"/><stop offset="0.4457" stop-color="#fca60c"/><stop offset="0.5000" stop-color="#f98e09"/><stop offset="0.5543" stop-color="#f1731d"/><stop offset="0.6073" stop-color="#e25734"/><stop offset="0.6576" stop-color="#cb4149"/><stop offset="0.7040" stop-color="#ad305d"/><stop offset="0.7454" stop-color="#8f2469"/><stop offset="0.7808" stop-color="#721a6e"/><stop offset="0.8093" stop-color="#5a116e"/><stop offset="0.8301" stop-color="#490b6a"/><stop offset="0.8428" stop-color="#340a5f"/><stop offset="0.8471" stop-color="#1f0c48"/></linearGradient><linearGradient id="g21" gradientUnits="userSpaceOnUse" x1="432.9" x2="723.1" y1="0" y2="0"><stop offset="0.1459" stop-color="#fbba1f"/><stop offset="0.1503" stop-color="#fac026"/><stop offset="0.1633" stop-color="#fac62d"/><stop offset="0.1845" stop-color="#f9cb35"/><stop offset="0.2136" stop-color="#f8cf3a"/><stop offset="0.2496" stop-color="#f7d340"/><stop offset="0.2919" stop-color="#f7d340"/><stop offset="0.3393" stop-color="#f8cd37"/><stop offset="0.3906" stop-color="#fac026"/><stop offset="0.4446" stop-color="#fca80d"/><stop offset="0.5000" stop-color="#f98e09"/><stop offset="0.5554" stop-color="#f1731d"/><stop offset="0.6094" stop-color="#e25734"/><stop offset="0.6607" stop-color="#ca404a"/><stop offset="0.7081" stop-color="#ab2f5e"/><stop offset="0.7504" stop-color="#8c2369"/><stop offset="0.7864" stop-color="#6f196e"/><stop offset="0.8155" stop-color="#59106e"/><stop offset="0.8367" stop-color="#450a69"/><stop offset="0.8497" stop-color="#310a5c"/><stop offset="0.8541" stop-color="#1c0c43"/></linearGradient><linearGradient id="g22" gradientUnits="userSpaceOnUse" x1="432.9" x2="723.1" y1="0" y2="0"><stop offset="0.1392" stop-color="#fbbc21"/><stop offset="0.1437" stop-color="#fac228"/><stop offset="0.1569" stop-color="#f9c72f"/><stop offset="0.1786" stop-color="#f8cd37"/><stop offset="0.2081" stop-color="#f7d13d"/><stop offset="0.2449" stop-color="#f6d746"/><stop offset="0.2880" stop-color="#f6d746"/><stop offset="0.3362" stop-color="#f8cf3a"/><stop offset="0.3885" stop-color="#fac228"/><stop offset="0.4436" stop-color="#fcaa0f"/><stop offset="0.5000" stop-color="#fa9008"/><stop offset="0.5564" stop-color="#f2741c"/><stop offset="0.6115" stop-color="#e25734"/><stop offset="0.6638" stop-color="#ca404a"/><stop offset="0.7120" stop-color="#a92e5e"/><stop offset="0.7551" stop-color="#8a226a"/><stop offset="0.7919" stop-color="#6d186e"/><stop offset="0.8214" stop-color="#550f6d"/><stop offset="0.8431" stop-color="#420a68"/><stop offset="0.8563" stop-color="#2d0b59"/><stop offset="0.8608" stop-color="#190c3e"/></linearGradient><linearGradient id="g23" gradientUnits="userSpaceOnUse" x1="432.9" x2="723.1" y1="0" y2="0"><stop offset="0.1328" stop-color="#fbbe23"/><stop offset="0.1373" stop-color="#fac42a"/><stop offset="0.1508" stop-color="#f9c932"/><stop offset="0.1728" stop-color="#f8cf3a"/><stop offset="0.2029" stop-color="#f6d543"/><stop offset="0.2404" stop-color="#f5d949"/><stop offset="0.2842" stop-color="#f5d949"/><stop offset="0.3333" stop-color="#f7d13d"/><stop offset="0.3865" stop-color="#fac42a"/><stop offset="0.4426" stop-color="#fcaa0f"/><stop offset="0.5000" stop-color="#fa9207"/><stop offset="0.5574" stop-color="#f2741c"/><stop offset="0.6135" stop-color="#e25734"/><stop offset="0.6667" stop-color="#ca404a"/><stop offset="0.7158" stop-color="#a92e5e"/><stop offset="0.7596" stop-color="#8a226a"/><stop offset="0.7971" stop-color="#6c186e"/><stop offset="0.8272" stop-color="#540f6d"/><stop offset="0.8492" stop-color="#3e0966"/><stop offset="0.8627" stop-color="#290b55"/><stop offset="0.8672" stop-color="#160b39"/></linearGradient><linearGradient id="g24" gradientUnits="userSpaceOnUse" x1="432.9" x2="723.1" y1="0" y2="0"><stop offset="0.1266" stop-color="#fac026"/><stop offset="0.1312" stop-color="#fac62d"/><stop offset="0.1449" stop-color="#f9cb35"/><stop offset="0.1673" stop-color="#f7d13d"/><stop offset="0.1979" stop-color="#f6d746"/><stop offset="0.2360" stop-color="#f5db4c"/><stop offset="0.2805" stop-color="#f5db4c"/><stop offset="0.3305" stop-color="#f7d340"/><stop offset="0.3846" stop-color="#fac62d"/><stop offset="0.4416" stop-color="#fcac11"/><stop offset="0.5000" stop-color="#fa9207"/><stop offset="0.5584" stop-color="#f2741c"/><stop offset="0.6154" stop-color="#e25734"/><stop offset="0.6695" stop-color="#ca404a"/><stop offset="0.7195" stop-color="#a82e5f"/><stop offset="0.7640" stop-color="#88226a"/><stop offset="0.8021" stop-color="#69166e"/><stop offset="0.8327" stop-color="#510e6c"/><stop offset="0.8551" stop-color="#3d0965"/><stop offset="0.8688" stop-color="#260c51"/><stop offset="0.8734" stop-color="#120a32"/></linearGradient><linearGradient id="g25" gradientUnits="userSpaceOnUse" x1="432.9" x2="723.1" y1="0" y2="0"><stop offset="0.1206" stop-color="#fac228"/><stop offset="0.1253" stop-color="#f9c72f"/><stop offset="0.1392" stop-color="#f8cd37"/><stop offset="0.1620" stop-color="#f7d340"/><stop offset="0.1931" stop-color="#f5d949"/><stop offset="0.2317" stop-color="#f4dd4f"/><stop offset="0.2770" stop-color="#f4dd4f"/><stop offset="0.3278" stop-color="#f6d746"/><stop offset="0.3828" stop-color="#f9c72f"/><stop offset="0.4407" stop-color="#fcae12"/><stop offset="0.5000" stop-color="#fa9407"/><stop offset="0.5593" stop-color="#f3761b"/><stop offset="0.6172" stop-color="#e25734"/><stop offset="0.6722" stop-color="#c83f4b"/><stop offset="0.7230" stop-color="#a82e5f"/><stop offset="0.7683" stop-color="#87216b"/><stop offset="0.8069" stop-color="#67166e"/><stop offset="0.8380" stop-color="#4f0d6c"/><stop offset="0.8608" stop-color="#390963"/><stop offset="0.8747" stop-color="#230c4c"/><stop offset="0.8794" stop-color="#10092d"/></linearGradient><linearGradient id="g26" gradientUnits="userSpaceOnUse" x1="432.9" x2="723.1" y1="0" y2="0"><stop offset="0.1149" stop-color="#fac42a"/><stop offset="0.1196" stop-color="#f9c932"/><stop offset="0.1337" stop-color="#f8cf3a"/><stop offset="0.1568" stop-color="#f6d543"/><stop offset="0.1884" stop-color="#f5db4c"/><stop offset="0.2277" stop-color="#f4df53"/><stop offset="0.2736" stop-color="#f4df53"/><stop offset="0.3252" stop-color="#f5d949"/><stop offset="0.3810" stop-color="#f9c932"/><stop offset="0.4398" stop-color="#fcb014"/><stop offset="0.5000" stop-color="#fa9407"/><stop offset="0.5602" stop-color="#f3761b"/><stop offset="0.6190" stop-color="#e35933"/><stop offset="0.6748" stop-color="#c83f4b"/><stop offset="0.7264" stop-color="#a62d60"/><stop offset="0.7723" stop-color="#85216b"/><stop offset="0.8116" stop-color="#65156e"/><stop offset="0.8432" stop-color="#4c0c6b"/><stop offset="0.8663" stop-color="#360961"/><stop offset="0.8804" stop-color="#1f0c48"/><stop offset="0.8851" stop-color="#0d0829"/></linearGradient><linearGradient id="g27" gradientUnits="userSpaceOnUse" x1="432.9" x2="723.1" y1="0" y2="0"><stop offset="0.1093" stop-color="#fac62d"/><stop offset="0.1141" stop-color="#f9cb35"/><stop offset="0.1284" stop-color="#f7d13d"/><stop offset="0.1519" stop-color="#f6d746"/><stop offset="0.1839" stop-color="#f4dd4f"/><stop offset="0.2237" stop-color="#f4e156"/><stop offset="0.2704" stop-color="#f4e156"/><stop offset="0.3226" stop-color="#f5db4c"/><stop offset="0.3793" stop-color="#f9cb35"/><stop offset="0.4389" stop-color="#fcb014"/><stop offset="0.5000" stop-color="#fb9606"/><stop offset="0.5611" stop-color="#f37819"/><stop offset="0.6207" stop-color="#e35933"/><stop offset="0.6774" stop-color="#c83f4b"/><stop offset="0.7296" stop-color="#a62d60"/><stop offset="0.7763" stop-color="#84206b"/><stop offset="0.8161" stop-color="#64156e"/><stop offset="0.8481" stop-color="#4a0c6b"/><stop offset="0.8716" stop-color="#340a5f"/><stop offset="0.8859" stop-color="#1e0c45"/><stop offset="0.8907" stop-color="#0c0826"/></linearGradient><linearGradient id="g28" gradientUnits="userSpaceOnUse" x1="432.9" x2="723.1" y1="0" y2="0"><stop offset="0.1039" stop-color="#f9c72f"/><stop offset="0.1088" stop-color="#f8cd37"/><stop offset="0.1233" stop-color="#f7d340"/><stop offset="0.1471" stop-color="#f5d949"/><stop offset="0.1796" stop-color="#f4df53"/><stop offset="0.2199" stop-color="#f3e35a"/><stop offset="0.2672" stop-color="#f3e35a"/><stop offset="0.3202" stop-color="#f5db4c"/><stop offset="0.3776" stop-color="#f8cd37"/><stop offset="0.4380" stop-color="#fcb216"/><stop offset="0.5000" stop-color="#fb9606"/><stop offset="0.5620" stop-color="#f37819"/><stop offset="0.6224" stop-color="#e35933"/><stop offset="0.6798" stop-color="#c83f4b"/><stop offset="0.7328" stop-color="#a52c60"/><stop offset="0.7801" stop-color="#82206c"/><stop offset="0.8204" stop-color="#62146e"/><stop offset="0.8529" stop-color="#490b6a"/><stop offset="0.8767" stop-color="#310a5c"/><stop offset="0.8912" stop-color="#1b0c41"/><stop offset="0.8961" stop-color="#0a0722"/></linearGradient><linearGradient id="g29" gradientUnits="userSpaceOnUse" x1="432.9" x2="723.1" y1="0" y2="0"><stop offset="0.0988" stop-color="#f9c932"/><stop offset="0.1037" stop-color="#f8cf3a"/><stop offset="0.1184" stop-color="#f7d340"/><stop offset="0.1425" stop-color="#f5db4c"/><stop offset="0.1754" stop-color="#f4e156"/><stop offset="0.2163" stop-color="#f3e55d"/><stop offset="0.2642" stop-color="#f3e55d"/><stop offset="0.3178" stop-color="#f4dd4f"/><stop offset="0.3760" stop-color="#f8cd37"/><stop offset="0.4372" stop-color="#fcb418"/><stop offset="0.5000" stop-color="#fb9706"/><stop offset="0.5628" stop-color="#f37819"/><stop offset="0.6240" stop-color="#e35933"/><stop offset="0.6822" stop-color="#c83f4b"/><stop offset="0.7358" stop-color="#a52c60"/><stop offset="0.7837" stop-color="#801f6c"/><stop offset="0.8246" stop-color="#61136e"/><stop offset="0.8575" stop-color="#450a69"/><stop offset="0.8816" stop-color="#2f0a5b"/><stop offset="0.8963" stop-color="#180c3c"/><stop offset="0.9012" stop-color="#08051d"/></linearGradient><linearGradient id="g30" gradientUnits="userSpaceOnUse" x1="432.9" x2="723.1" y1="0" y2="0"><stop offset="0.0938" stop-color="#f9c932"/><stop offset="0.0988" stop-color="#f8cf3a"/><stop offset="0.1137" stop-color="#f6d543"/><stop offset="0.1381" stop-color="#f4dd4f"/><stop offset="0.1714" stop-color="#f3e35a"/><stop offset="0.2128" stop-color="#f2e661"/><stop offset="0.2612" stop-color="#f2e661"/><stop offset="0.3156" stop-color="#f4df53"/><stop offset="0.3745" stop-color="#f8cf3a"/><stop offset="0.4365" stop-color="#fcb418"/><stop offset="0.5000" stop-color="#fb9706"/><stop offset="0.5635" stop-color="#f37819"/><stop offset="0.6255" stop-color="#e35933"/><stop offset="0.6844" stop-color="#c73e4c"/><stop offset="0.7388" stop-color="#a32c61"/><stop offset="0.7872" stop-color="#801f6c"/><stop offset="0.8286" stop-color="#5f136e"/><stop offset="0.8619" stop-color="#440a68"/><stop offset="0.8863" stop-color="#2d0b59"/><stop offset="0.9012" stop-color="#160b39"/><stop offset="0.9062" stop-color="#060419"/></linearGradient><linearGradient id="g31" gradientUnits="userSpaceOnUse" x1="432.9" x2="723.1" y1="0" y2="0"><stop offset="0.0890" stop-color="#f9cb35"/><stop offset="0.0940" stop-color="#f7d13d"/><stop offset="0.1091" stop-color="#f6d746"/><stop offset="0.1338" stop-color="#f4dd4f"/><stop offset="0.1675" stop-color="#f3e35a"/><stop offset="0.2094" stop-color="#f2e865"/><stop offset="0.2584" stop-color="#f2e865"/><stop offset="0.3134" stop-color="#f4e156"/><stop offset="0.3730" stop-color="#f7d13d"/><stop offset="0.4357" stop-color="#fbb61a"/><stop offset="0.5000" stop-color="#fb9906"/><stop offset="0.5643" stop-color="#f47918"/><stop offset="0.6270" stop-color="#e35933"/><stop offset="0.6866" stop-color="#c73e4c"/><stop offset="0.7416" stop-color="#a32c61"/><stop offset="0.7906" stop-color="#7f1e6c"/><stop offset="0.8325" stop-color="#5d126e"/><stop offset="0.8662" stop-color="#420a68"/><stop offset="0.8909" stop-color="#290b55"/><stop offset="0.9060" stop-color="#140b34"/><stop offset="0.9110" stop-color="#050417"/></linearGradient><linearGradient id="g32" gradientUnits="userSpaceOnUse" x1="432.9" x2="723.1" y1="0" y2="0"><stop offset="0.0843" stop-color="#f8cd37"/><stop offset="0.0894" stop-color="#f7d340"/><stop offset="0.1047" stop-color="#f5d949"/><stop offset="0.1296" stop-color="#f4df53"/><stop offset="0.1637" stop-color="#f3e55d"/><stop offset="0.2061" stop-color="#f2ea69"/><stop offset="0.2557" stop-color="#f2ea69"/><stop offset="0.3113" stop-color="#f3e35a"/><stop offset="0.3715" stop-color="#f7d340"/><stop offset="0.4350" stop-color="#fbb81d"/><stop offset="0.5000" stop-color="#fb9906"/><stop offset="0.5650" stop-color="#f47918"/><stop offset="0.6285" stop-color="#e35933"/><stop offset="0.6887" stop-color="#c73e4c"/><stop offset="0.7443" stop-color="#a22b62"/><stop offset="0.7939" stop-color="#7d1e6d"/><stop offset="0.8363" stop-color="#5c126e"/><stop offset="0.8704" stop-color="#400a67"/><stop offset="0.8953" stop-color="#280b53"/><stop offset="0.9106" stop-color="#120a32"/><stop offset="0.9157" stop-color="#040312"/></linearGradient><linearGradient id="g33" gradientUnits="userSpaceOnUse" x1="432.9" x2="723.1" y1="0" y2="0"><stop offset="0.0798" stop-color="#f8cf3a"/><stop offset="0.0850" stop-color="#f6d543"/><stop offset="0.1004" stop-color="#f5db4c"/><stop offset="0.1256" stop-color="#f4e156"/><stop offset="0.1601" stop-color="#f2e661"/><stop offset="0.2029" stop-color="#f1ec6d"/><stop offset="0.2530" stop-color="#f1ec6d"/><stop offset="0.3092" stop-color="#f3e55d"/><stop offset="0.3702" stop-color="#f7d340"/><stop offset="0.4343" stop-color="#fbb81d"/><stop offset="0.5000" stop-color="#fb9b06"/><stop offset="0.5657" stop-color="#f47918"/><stop offset="0.6298" stop-color="#e35933"/><stop offset="0.6908" stop-color="#c73e4c"/><stop offset="0.7470" stop-color="#a22b62"/><stop offset="0.7971" stop-color="#7d1e6d"/><stop offset="0.8399" stop-color="#5a116e"/><stop offset="0.8744" stop-color="#3e0966"/><stop offset="0.8996" stop-color="#260c51"/><stop offset="0.9150" stop-color="#110a30"/><stop offset="0.9202" stop-color="#02020e"/></linearGradient><linearGradient id="g34" gradientUnits="userSpaceOnUse" x1="432.9" x2="723.1" y1="0" y2="0"><stop offset="0.0755" stop-color="#f8cf3a"/><stop offset="0.0807" stop-color="#f6d543"/><stop offset="0.0963" stop-color="#f5db4c"/><stop offset="0.1218" stop-color="#f3e35a"/><stop offset="0.1566" stop-color="#f2e865"/><stop offset="0.1998" stop-color="#f1ec6d"/><stop offset="0.2505" stop-color="#f1ec6d"/><stop offset="0.3073" stop-color="#f3e55d"/><stop offset="0.3688" stop-color="#f6d543"/><stop offset="0.4336" stop-color="#fbba1f"/><stop offset="0.5000" stop-color="#fb9b06"/><stop offset="0.5664" stop-color="#f57b17"/><stop offset="0.6312" stop-color="#e35933"/><stop offset="0.6927" stop-color="#c73e4c"/><stop offset="0.7495" stop-color="#a02a63"/><stop offset="0.8002" stop-color="#7c1d6d"/><stop offset="0.8434" stop-color="#59106e"/><stop offset="0.8782" stop-color="#3d0965"/><stop offset="0.9037" stop-color="#240c4f"/><stop offset="0.9193" stop-color="#0e092b"/><stop offset="0.9245" stop-color="#02020c"/></linearGradient><linearGradient id="g35" gradientUnits="userSpaceOnUse" x1="432.9" x2="723.1" y1="0" y2="0"><stop offset="0.0713" stop-color="#f7d13d"/><stop offset="0.0766" stop-color="#f6d746"/><stop offset="0.0923" stop-color="#f4dd4f"/><stop offset="0.1180" stop-color="#f3e35a"/><stop offset="0.1532" stop-color="#f2ea69"/><stop offset="0.1969" stop-color="#f1ed71"/><stop offset="0.2480" stop-color="#f1ed71"/><stop offset="0.3054" stop-color="#f2e661"/><stop offset="0.3675" stop-color="#f6d746"/><stop offset="0.4329" stop-color="#fbba1f"/><stop offset="0.5000" stop-color="#fb9d07"/><stop offset="0.5671" stop-color="#f57b17"/><stop offset="0.6325" stop-color="#e35933"/><stop offset="0.6946" stop-color="#c73e4c"/><stop offset="0.7520" stop-color="#a02a63"/><stop offset="0.8031" stop-color="#7a1d6d"/><stop offset="0.8468" stop-color="#57106e"/><stop offset="0.8820" stop-color="#3b0964"/><stop offset="0.9077" stop-color="#210c4a"/><stop offset="0.9234" stop-color="#0d0829"/><stop offset="0.9287" stop-color="#010108"/></linearGradient><linearGradient id="g36" gradientUnits="userSpaceOnUse" x1="432.9" x2="723.1" y1="0" y2="0"><stop offset="0.0673" stop-color="#f7d340"/><stop offset="0.0726" stop-color="#f6d746"/><stop offset="0.0885" stop-color="#f4df53"/><stop offset="0.1144" stop-color="#f3e55d"/><stop offset="0.1499" stop-color="#f2ea69"/><stop offset="0.1940" stop-color="#f1ef75"/><stop offset="0.2457" stop-color="#f1ef75"/><stop offset="0.3036" stop-color="#f2e865"/><stop offset="0.3663" stop-color="#f6d746"/><stop offset="0.4323" stop-color="#fbbc21"/><stop offset="0.5000" stop-color="#fb9d07"/><stop offset="0.5677" stop-color="#f57b17"/><stop offset="0.6337" stop-color="#e35933"/><stop offset="0.6964" stop-color="#c73e4c"/><stop offset="0.7543" stop-color="#a02a63"/><stop offset="0.8060" stop-color="#7a1d6d"/><stop offset="0.8501" stop-color="#550f6d"/><stop offset="0.8856" stop-color="#390963"/><stop offset="0.9115" stop-color="#1f0c48"/><stop offset="0.9274" stop-color="#0c0826"/><stop offset="0.9327" stop-color="#010106"/></linearGradient><linearGradient id="g37" gradientUnits="userSpaceOnUse" x1="432.9" x2="723.1" y1="0" y2="0"><stop offset="0.0634" stop-color="#f7d340"/><stop offset="0.0688" stop-color="#f5d949"/><stop offset="0.0848" stop-color="#f4df53"/><stop offset="0.1110" stop-color="#f2e661"/><stop offset="0.1468" stop-color="#f1ec6d"/><stop offset="0.1913" stop-color="#f1f179"/><stop offset="0.2434" stop-color="#f1f179"/><stop offset="0.3018" stop-color="#f2ea69"/><stop offset="0.3651" stop-color="#f5d949"/><stop offset="0.4317" stop-color="#fbbc21"/><stop offset="0.5000" stop-color="#fb9d07"/><stop offset="0.5683" stop-color="#f57b17"/><stop offset="0.6349" stop-color="#e35933"/><stop offset="0.6982" stop-color="#c63d4d"/><stop offset="0.7566" stop-color="#9f2a63"/><stop offset="0.8087" stop-color="#781c6d"/><stop offset="0.8532" stop-color="#550f6d"/><stop offset="0.8890" stop-color="#380962"/><stop offset="0.9152" stop-color="#1e0c45"/><stop offset="0.9312" stop-color="#0a0722"/><stop offset="0.9366" stop-color="#010005"/></linearGradient><linearGradient id="g38" gradientUnits="userSpaceOnUse" x1="432.9" x2="723.1" y1="0" y2="0"><stop offset="0.0597" stop-color="#f6d543"/><stop offset="0.0651" stop-color="#f5db4c"/><stop offset="0.0812" stop-color="#f4e156"/><stop offset="0.1076" stop-color="#f2e661"/><stop offset="0.1438" stop-color="#f1ed71"/><stop offset="0.1886" stop-color="#f1f179"/><stop offset="0.2412" stop-color="#f1f179"/><stop offset="0.3001" stop-color="#f2ea69"/><stop offset="0.3639" stop-color="#f5d949"/><stop offset="0.4311" stop-color="#fbbe23"/><stop offset="0.5000" stop-color="#fc9f07"/><stop offset="0.5689" stop-color="#f57d15"/><stop offset="0.6361" stop-color="#e35933"/><stop offset="0.6999" stop-color="#c63d4d"/><stop offset="0.7588" stop-color="#9f2a63"/><stop offset="0.8114" stop-color="#781c6d"/><stop offset="0.8562" stop-color="#540f6d"/><stop offset="0.8924" stop-color="#360961"/><stop offset="0.9188" stop-color="#1c0c43"/><stop offset="0.9349" stop-color="#09061f"/><stop offset="0.9403" stop-color="#000004"/></linearGradient><linearGradient id="g39" gradientUnits="userSpaceOnUse" x1="432.9" x2="723.1" y1="0" y2="0"><stop offset="0.0560" stop-color="#f6d543"/><stop offset="0.0615" stop-color="#f5db4c"/><stop offset="0.0778" stop-color="#f4e156"/><stop offset="0.1044" stop-color="#f2e865"/><stop offset="0.1408" stop-color="#f1ed71"/><stop offset="0.1861" stop-color="#f2f27d"/><stop offset="0.2390" stop-color="#f2f27d"/><stop offset="0.2984" stop-color="#f1ec6d"/><stop offset="0.3628" stop-color="#f5db4c"/><stop offset="0.4305" stop-color="#fbbe23"/><stop offset="0.5000" stop-color="#fc9f07"/><stop offset="0.5695" stop-color="#f57d15"/><stop offset="0.6372" stop-color="#e45a31"/><stop offset="0.7016" stop-color="#c63d4d"/><stop offset="0.7610" stop-color="#9f2a63"/><stop offset="0.8139" stop-color="#771c6d"/><stop offset="0.8592" stop-color="#520e6d"/><stop offset="0.8956" stop-color="#340a5f"/><stop offset="0.9222" stop-color="#1b0c41"/><stop offset="0.9385" stop-color="#08051d"/><stop offset="0.9440" stop-color="#000004"/></linearGradient><linearGradient id="g40" gradientUnits="userSpaceOnUse" x1="432.9" x2="723.1" y1="0" y2="0"><stop offset="0.0526" stop-color="#f6d746"/><stop offset="0.0581" stop-color="#f4dd4f"/><stop offset="0.0745" stop-color="#f3e35a"/><stop offset="0.1013" stop-color="#f2ea69"/><stop offset="0.1380" stop-color="#f1ef75"/><stop offset="0.1836" stop-color="#f2f27d"/><stop offset="0.2370" stop-color="#f2f27d"/><stop offset="0.2969" stop-color="#f1ec6d"/><stop offset="0.3617" stop-color="#f4dd4f"/><stop offset="0.4300" stop-color="#fac026"/><stop offset="0.5000" stop-color="#fc9f07"/><stop offset="0.5700" stop-color="#f57d15"/><stop offset="0.6383" stop-color="#e45a31"/><stop offset="0.7031" stop-color="#c63d4d"/><stop offset="0.7630" stop-color="#9d2964"/><stop offset="0.8164" stop-color="#751b6e"/><stop offset="0.8620" stop-color="#510e6c"/><stop offset="0.8987" stop-color="#320a5e"/><stop offset="0.9255" stop-color="#190c3e"/><stop offset="0.9419" stop-color="#07051b"/><stop offset="0.9474" stop-color="#000004"/></linearGradient><linearGradient id="g41" gradientUnits="userSpaceOnUse" x1="432.9" x2="723.1" y1="0" y2="0"><stop offset="0.0492" stop-color="#f6d746"/><stop offset="0.0548" stop-color="#f4dd4f"/><stop offset="0.0713" stop-color="#f3e55d"/><stop offset="0.0984" stop-color="#f2ea69"/><stop offset="0.1353" stop-color="#f1ef75"/><stop offset="0.1813" stop-color="#f2f482"/><stop offset="0.2350" stop-color="#f2f482"/><stop offset="0.2954" stop-color="#f1ed71"/><stop offset="0.3607" stop-color="#f4dd4f"/><stop offset="0.4295" stop-color="#fac026"/><stop offset="0.5000" stop-color="#fca108"/><stop offset="0.5705" stop-color="#f57d15"/><stop offset="0.6393" stop-color="#e45a31"/><stop offset="0.7046" stop-color="#c63d4d"/><stop offset="0.7650" stop-color="#9d2964"/><stop offset="0.8187" stop-color="#751b6e"/><stop offset="0.8647" stop-color="#510e6c"/><stop offset="0.9016" stop-color="#310a5c"/><stop offset="0.9287" stop-color="#180c3c"/><stop offset="0.9452" stop-color="#060419"/><stop offset="0.9508" stop-color="#000004"/></linearGradient><linearGradient id="g42" gradientUnits="userSpaceOnUse" x1="432.9" x2="723.1" y1="0" y2="0"><stop offset="0.0460" stop-color="#f5d949"/><stop offset="0.0516" stop-color="#f4df53"/><stop offset="0.0682" stop-color="#f3e55d"/><stop offset="0.0955" stop-color="#f1ec6d"/><stop offset="0.1327" stop-color="#f1f179"/><stop offset="0.1790" stop-color="#f3f586"/><stop offset="0.2331" stop-color="#f3f586"/><stop offset="0.2939" stop-color="#f1ef75"/><stop offset="0.3597" stop-color="#f4df53"/><stop offset="0.4290" stop-color="#fac228"/><stop offset="0.5000" stop-color="#fca108"/><stop offset="0.5710" stop-color="#f57d15"/><stop offset="0.6403" stop-color="#e45a31"/><stop offset="0.7061" stop-color="#c63d4d"/><stop offset="0.7669" stop-color="#9d2964"/><stop offset="0.8210" stop-color="#751b6e"/><stop offset="0.8673" stop-color="#4f0d6c"/><stop offset="0.9045" stop-color="#310a5c"/><stop offset="0.9318" stop-color="#160b39"/><stop offset="0.9484" stop-color="#050417"/><stop offset="0.9540" stop-color="#000004"/></linearGradient><linearGradient id="g43" gradientUnits="userSpaceOnUse" x1="432.9" x2="723.1" y1="0" y2="0"><stop offset="0.0429" stop-color="#f5d949"/><stop offset="0.0485" stop-color="#f4df53"/><stop offset="0.0653" stop-color="#f2e661"/><stop offset="0.0927" stop-color="#f1ec6d"/><stop offset="0.1302" stop-color="#f2f27d"/><stop offset="0.1768" stop-color="#f3f586"/><stop offset="0.2313" stop-color="#f3f586"/><stop offset="0.2925" stop-color="#f1ef75"/><stop offset="0.3588" stop-color="#f4df53"/><stop offset="0.4285" stop-color="#fac228"/><stop offset="0.5000" stop-color="#fca108"/><stop offset="0.5715" stop-color="#f67e14"/><stop offset="0.6412" stop-color="#e45a31"/><stop offset="0.7075" stop-color="#c63d4d"/><stop offset="0.7687" stop-color="#9b2964"/><stop offset="0.8232" stop-color="#741a6e"/><stop offset="0.8698" stop-color="#4d0d6c"/><stop offset="0.9073" stop-color="#2f0a5b"/><stop offset="0.9347" stop-color="#160b39"/><stop offset="0.9515" stop-color="#040314"/><stop offset="0.9571" stop-color="#000004"/></linearGradient><linearGradient id="g44" gradientUnits="userSpaceOnUse" x1="432.9" x2="723.1" y1="0" y2="0"><stop offset="0.0399" stop-color="#f5db4c"/><stop offset="0.0456" stop-color="#f4e156"/><stop offset="0.0625" stop-color="#f2e661"/><stop offset="0.0901" stop-color="#f1ed71"/><stop offset="0.1278" stop-color="#f2f27d"/><stop offset="0.1747" stop-color="#f3f68a"/><stop offset="0.2296" stop-color="#f3f68a"/><stop offset="0.2911" stop-color="#f1f179"/><stop offset="0.3578" stop-color="#f4e156"/><stop offset="0.4280" stop-color="#fac228"/><stop offset="0.5000" stop-color="#fca309"/><stop offset="0.5720" stop-color="#f67e14"/><stop offset="0.6422" stop-color="#e45a31"/><stop offset="0.7089" stop-color="#c63d4d"/><stop offset="0.7704" stop-color="#9b2964"/><stop offset="0.8253" stop-color="#741a6e"/><stop offset="0.8722" stop-color="#4d0d6c"/><stop offset="0.9099" stop-color="#2d0b59"/><stop offset="0.9375" stop-color="#150b37"/><stop offset="0.9544" stop-color="#040312"/><stop offset="0.9601" stop-color="#000004"/></linearGradient><linearGradient id="g45" gradientUnits="userSpaceOnUse" x1="432.9" x2="723.1" y1="0" y2="0"><stop offset="0.0371" stop-color="#f5db4c"/><stop offset="0.0428" stop-color="#f4e156"/><stop offset="0.0598" stop-color="#f2e661"/><stop offset="0.0875" stop-color="#f1ed71"/><stop offset="0.1255" stop-color="#f2f482"/><stop offset="0.1727" stop-color="#f3f68a"/><stop offset="0.2279" stop-color="#f3f68a"/><stop offset="0.2898" stop-color="#f1f179"/><stop offset="0.3570" stop-color="#f4e156"/><stop offset="0.4276" stop-color="#fac42a"/><stop offset="0.5000" stop-color="#fca309"/><stop offset="0.5724" stop-color="#f67e14"/><stop offset="0.6430" stop-color="#e45a31"/><stop offset="0.7102" stop-color="#c63d4d"/><stop offset="0.7721" stop-color="#9b2964"/><stop offset="0.8273" stop-color="#721a6e"/><stop offset="0.8745" stop-color="#4c0c6b"/><stop offset="0.9125" stop-color="#2b0b57"/><stop offset="0.9402" stop-color="#140b34"/><stop offset="0.9572" stop-color="#030210"/><stop offset="0.9629" stop-color="#000004"/></linearGradient><linearGradient id="g46" gradientUnits="userSpaceOnUse" x1="432.9" x2="723.1" y1="0" y2="0"><stop offset="0.0344" stop-color="#f5db4c"/><stop offset="0.0401" stop-color="#f3e35a"/><stop offset="0.0572" stop-color="#f2e865"/><stop offset="0.0851" stop-color="#f1ef75"/><stop offset="0.1233" stop-color="#f2f482"/><stop offset="0.1707" stop-color="#f4f88e"/><stop offset="0.2263" stop-color="#f4f88e"/><stop offset="0.2886" stop-color="#f2f27d"/><stop offset="0.3561" stop-color="#f4e156"/><stop offset="0.4272" stop-color="#fac42a"/><stop offset="0.5000" stop-color="#fca309"/><stop offset="0.5728" stop-color="#f67e14"/><stop offset="0.6439" stop-color="#e45a31"/><stop offset="0.7114" stop-color="#c43c4e"/><stop offset="0.7737" stop-color="#9b2964"/><stop offset="0.8293" stop-color="#721a6e"/><stop offset="0.8767" stop-color="#4c0c6b"/><stop offset="0.9149" stop-color="#2b0b57"/><stop offset="0.9428" stop-color="#120a32"/><stop offset="0.9599" stop-color="#02020e"/><stop offset="0.9656" stop-color="#000004"/></linearGradient><linearGradient id="g47" gradientUnits="userSpaceOnUse" x1="432.9" x2="723.1" y1="0" y2="0"><stop offset="0.0317" stop-color="#f4dd4f"/><stop offset="0.0375" stop-color="#f3e35a"/><stop offset="0.0547" stop-color="#f2e865"/><stop offset="0.0828" stop-color="#f1ef75"/><stop offset="0.1212" stop-color="#f2f482"/><stop offset="0.1689" stop-color="#f4f88e"/><stop offset="0.2248" stop-color="#f4f88e"/><stop offset="0.2874" stop-color="#f2f27d"/><stop offset="0.3553" stop-color="#f3e35a"/><stop offset="0.4267" stop-color="#fac42a"/><stop offset="0.5000" stop-color="#fca309"/><stop offset="0.5733" stop-color="#f67e14"/><stop offset="0.6447" stop-color="#e45a31"/><stop offset="0.7126" stop-color="#c43c4e"/><stop offset="0.7752" stop-color="#9a2865"/><stop offset="0.8311" stop-color="#71196e"/><stop offset="0.8788" stop-color="#4a0c6b"/><stop offset="0.9172" stop-color="#290b55"/><stop offset="0.9453" stop-color="#120a32"/><stop offset="0.9625" stop-color="#02020e"/><stop offset="0.9683" stop-color="#000004"/></linearGradient><linearGradient id="g48" gradientUnits="userSpaceOnUse" x1="432.9" x2="723.1" y1="0" y2="0"><stop offset="0.0292" stop-color="#f4dd4f"/><stop offset="0.0350" stop-color="#f3e35a"/><stop offset="0.0523" stop-color="#f2ea69"/><stop offset="0.0806" stop-color="#f1f179"/><stop offset="0.1192" stop-color="#f3f586"/><stop offset="0.1671" stop-color="#f5f992"/><stop offset="0.2233" stop-color="#f5f992"/><stop offset="0.2863" stop-color="#f2f27d"/><stop offset="0.3545" stop-color="#f3e35a"/><stop offset="0.4264" stop-color="#fac62d"/><stop offset="0.5000" stop-color="#fca50a"/><stop offset="0.5736" stop-color="#f67e14"/><stop offset="0.6455" stop-color="#e45a31"/><stop offset="0.7137" stop-color="#c43c4e"/><stop offset="0.7767" stop-color="#9a2865"/><stop offset="0.8329" stop-color="#71196e"/><stop offset="0.8808" stop-color="#4a0c6b"/><stop offset="0.9194" stop-color="#290b55"/><stop offset="0.9477" stop-color="#110a30"/><stop offset="0.9650" stop-color="#02020c"/><stop offset="0.9708" stop-color="#000004"/></linearGradient><linearGradient id="g49" gradientUnits="userSpaceOnUse" x1="432.9" x2="723.1" y1="0" y2="0"><stop offset="0.0269" stop-color="#f4df53"/><stop offset="0.0327" stop-color="#f3e55d"/><stop offset="0.0500" stop-color="#f2ea69"/><stop offset="0.0784" stop-color="#f1f179"/><stop offset="0.1172" stop-color="#f3f586"/><stop offset="0.1654" stop-color="#f5f992"/><stop offset="0.2219" stop-color="#f5f992"/><stop offset="0.2852" stop-color="#f2f482"/><stop offset="0.3538" stop-color="#f3e55d"/><stop offset="0.4260" stop-color="#fac62d"/><stop offset="0.5000" stop-color="#fca50a"/><stop offset="0.5740" stop-color="#f67e14"/><stop offset="0.6462" stop-color="#e45a31"/><stop offset="0.7148" stop-color="#c43c4e"/><stop offset="0.7781" stop-color="#9a2865"/><stop offset="0.8346" stop-color="#71196e"/><stop offset="0.8828" stop-color="#490b6a"/><stop offset="0.9216" stop-color="#280b53"/><stop offset="0.9500" stop-color="#10092d"/><stop offset="0.9673" stop-color="#02010a"/><stop offset="0.9731" stop-color="#000004"/></linearGradient><linearGradient id="g50" gradientUnits="userSpaceOnUse" x1="432.9" x2="723.1" y1="0" y2="0"><stop offset="0.0246" stop-color="#f4df53"/><stop offset="0.0304" stop-color="#f3e55d"/><stop offset="0.0478" stop-color="#f1ec6d"/><stop offset="0.0764" stop-color="#f1f179"/><stop offset="0.1154" stop-color="#f3f68a"/><stop offset="0.1638" stop-color="#f5f992"/><stop offset="0.2206" stop-color="#f6fa96"/><stop offset="0.2842" stop-color="#f2f482"/><stop offset="0.3531" stop-color="#f3e55d"/><stop offset="0.4256" stop-color="#fac62d"/><stop offset="0.5000" stop-color="#fca50a"/><stop offset="0.5744" stop-color="#f68013"/><stop offset="0.6469" stop-color="#e45a31"/><stop offset="0.7158" stop-color="#c43c4e"/><stop offset="0.7794" stop-color="#9a2865"/><stop offset="0.8362" stop-color="#6f196e"/><stop offset="0.8846" stop-color="#490b6a"/><stop offset="0.9236" stop-color="#260c51"/><stop offset="0.9522" stop-color="#10092d"/><stop offset="0.9696" stop-color="#010108"/><stop offset="0.9754" stop-color="#000004"/></linearGradient><linearGradient id="g51" gradientUnits="userSpaceOnUse" x1="432.9" x2="723.1" y1="0" y2="0"><stop offset="0.0224" stop-color="#f4df53"/><stop offset="0.0283" stop-color="#f3e55d"/><stop offset="0.0458" stop-color="#f1ec6d"/><stop offset="0.0745" stop-color="#f2f27d"/><stop offset="0.1136" stop-color="#f3f68a"/><stop offset="0.1623" stop-color="#f6fa96"/><stop offset="0.2193" stop-color="#f6fa96"/><stop offset="0.2832" stop-color="#f3f586"/><stop offset="0.3524" stop-color="#f3e55d"/><stop offset="0.4253" stop-color="#f9c72f"/><stop offset="0.5000" stop-color="#fca50a"/><stop offset="0.5747" stop-color="#f68013"/><stop offset="0.6476" stop-color="#e45a31"/><stop offset="0.7168" stop-color="#c43c4e"/><stop offset="0.7807" stop-color="#982766"/><stop offset="0.8377" stop-color="#6f196e"/><stop offset="0.8864" stop-color="#470b6a"/><stop offset="0.9255" stop-color="#260c51"/><stop offset="0.9542" stop-color="#0e092b"/><stop offset="0.9717" stop-color="#010108"/><stop offset="0.9776" stop-color="#000004"/></linearGradient><linearGradient id="g52" gradientUnits="userSpaceOnUse" x1="432.9" x2="723.1" y1="0" y2="0"><stop offset="0.0203" stop-color="#f4e156"/><stop offset="0.0262" stop-color="#f2e661"/><stop offset="0.0438" stop-color="#f1ec6d"/><stop offset="0.0726" stop-color="#f2f27d"/><stop offset="0.1119" stop-color="#f3f68a"/><stop offset="0.1608" stop-color="#f6fa96"/><stop offset="0.2181" stop-color="#f6fa96"/><stop offset="0.2822" stop-color="#f3f586"/><stop offset="0.3518" stop-color="#f2e661"/><stop offset="0.4250" stop-color="#f9c72f"/><stop offset="0.5000" stop-color="#fca50a"/><stop offset="0.5750" stop-color="#f68013"/><stop offset="0.6482" stop-color="#e45a31"/><stop offset="0.7178" stop-color="#c43c4e"/><stop offset="0.7819" stop-color="#982766"/><stop offset="0.8392" stop-color="#6f196e"/><stop offset="0.8881" stop-color="#470b6a"/><stop offset="0.9274" stop-color="#240c4f"/><stop offset="0.9562" stop-color="#0d0829"/><stop offset="0.9738" stop-color="#010106"/><stop offset="0.9797" stop-color="#000004"/></linearGradient><linearGradient id="g53" gradientUnits="userSpaceOnUse" x1="432.9" x2="723.1" y1="0" y2="0"><stop offset="0.0184" stop-color="#f4e156"/><stop offset="0.0243" stop-color="#f2e661"/><stop offset="0.0420" stop-color="#f1ed71"/><stop offset="0.0709" stop-color="#f2f27d"/><stop offset="0.1104" stop-color="#f4f88e"/><stop offset="0.1594" stop-color="#f8fb9a"/><stop offset="0.2169" stop-color="#f8fb9a"/><stop offset="0.2813" stop-color="#f3f586"/><stop offset="0.3512" stop-color="#f2e661"/><stop offset="0.4247" stop-color="#f9c72f"/><stop offset="0.5000" stop-color="#fca60c"/><stop offset="0.5753" stop-color="#f68013"/><stop offset="0.6488" stop-color="#e45a31"/><stop offset="0.7187" stop-color="#c43c4e"/><stop offset="0.7831" stop-color="#982766"/><stop offset="0.8406" stop-color="#6d186e"/><stop offset="0.8896" stop-color="#470b6a"/><stop offset="0.9291" stop-color="#240c4f"/><stop offset="0.9580" stop-color="#0d0829"/><stop offset="0.9757" stop-color="#010106"/><stop offset="0.9816" stop-color="#000004"/></linearGradient><linearGradient id="g54" gradientUnits="userSpaceOnUse" x1="432.9" x2="723.1" y1="0" y2="0"><stop offset="0.0165" stop-color="#f4e156"/><stop offset="0.0225" stop-color="#f2e661"/><stop offset="0.0402" stop-color="#f1ed71"/><stop offset="0.0692" stop-color="#f2f482"/><stop offset="0.1089" stop-color="#f4f88e"/><stop offset="0.1581" stop-color="#f8fb9a"/><stop offset="0.2158" stop-color="#f8fb9a"/><stop offset="0.2805" stop-color="#f3f68a"/><stop offset="0.3506" stop-color="#f2e661"/><stop offset="0.4244" stop-color="#f9c72f"/><stop offset="0.5000" stop-color="#fca60c"/><stop offset="0.5756" stop-color="#f68013"/><stop offset="0.6494" stop-color="#e45a31"/><stop offset="0.7195" stop-color="#c43c4e"/><stop offset="0.7842" stop-color="#982766"/><stop offset="0.8419" stop-color="#6d186e"/><stop offset="0.8911" stop-color="#450a69"/><stop offset="0.9308" stop-color="#230c4c"/><stop offset="0.9598" stop-color="#0c0826"/><stop offset="0.9775" stop-color="#010005"/><stop offset="0.9835" stop-color="#000004"/></linearGradient><linearGradient id="g55" gradientUnits="userSpaceOnUse" x1="432.9" x2="723.1" y1="0" y2="0"><stop offset="0.0148" stop-color="#f4e156"/><stop offset="0.0207" stop-color="#f2e865"/><stop offset="0.0385" stop-color="#f1ed71"/><stop offset="0.0677" stop-color="#f2f482"/><stop offset="0.1074" stop-color="#f4f88e"/><stop offset="0.1569" stop-color="#f8fb9a"/><stop offset="0.2148" stop-color="#f8fb9a"/><stop offset="0.2797" stop-color="#f3f68a"/><stop offset="0.3501" stop-color="#f2e661"/><stop offset="0.4241" stop-color="#f9c932"/><stop offset="0.5000" stop-color="#fca60c"/><stop offset="0.5759" stop-color="#f68013"/><stop offset="0.6499" stop-color="#e45a31"/><stop offset="0.7203" stop-color="#c43c4e"/><stop offset="0.7852" stop-color="#982766"/><stop offset="0.8431" stop-color="#6d186e"/><stop offset="0.8926" stop-color="#450a69"/><stop offset="0.9323" stop-color="#230c4c"/><stop offset="0.9615" stop-color="#0c0826"/><stop offset="0.9793" stop-color="#000004"/><stop offset="0.9852" stop-color="#000004"/></linearGradient><linearGradient id="g56" gradientUnits="userSpaceOnUse" x1="432.9" x2="723.1" y1="0" y2="0"><stop offset="0.0131" stop-color="#f3e35a"/><stop offset="0.0191" stop-color="#f2e865"/><stop offset="0.0370" stop-color="#f1ed71"/><stop offset="0.0662" stop-color="#f2f482"/><stop offset="0.1061" stop-color="#f5f992"/><stop offset="0.1557" stop-color="#f9fc9d"/><stop offset="0.2138" stop-color="#f9fc9d"/><stop offset="0.2790" stop-color="#f3f68a"/><stop offset="0.3495" stop-color="#f2e865"/><stop offset="0.4238" stop-color="#f9c932"/><stop offset="0.5000" stop-color="#fca60c"/><stop offset="0.5762" stop-color="#f68013"/><stop offset="0.6505" stop-color="#e45a31"/><stop offset="0.7210" stop-color="#c43c4e"/><stop offset="0.7862" stop-color="#982766"/><stop offset="0.8443" stop-color="#6d186e"/><stop offset="0.8939" stop-color="#440a68"/><stop offset="0.9338" stop-color="#230c4c"/><stop offset="0.9630" stop-color="#0b0724"/><stop offset="0.9809" stop-color="#000004"/><stop offset="0.9869" stop-color="#000004"/></linearGradient><linearGradient id="g57" gradientUnits="userSpaceOnUse" x1="432.9" x2="723.1" y1="0" y2="0"><stop offset="0.0116" stop-color="#f3e35a"/><stop offset="0.0176" stop-color="#f2e865"/><stop offset="0.0355" stop-color="#f1ef75"/><stop offset="0.0648" stop-color="#f2f482"/><stop offset="0.1049" stop-color="#f5f992"/><stop offset="0.1546" stop-color="#f9fc9d"/><stop offset="0.2129" stop-color="#f9fc9d"/><stop offset="0.2783" stop-color="#f3f68a"/><stop offset="0.3491" stop-color="#f2e865"/><stop offset="0.4236" stop-color="#f9c932"/><stop offset="0.5000" stop-color="#fca60c"/><stop offset="0.5764" stop-color="#f68013"/><stop offset="0.6509" stop-color="#e45a31"/><stop offset="0.7217" stop-color="#c43c4e"/><stop offset="0.7871" stop-color="#972766"/><stop offset="0.8454" stop-color="#6c186e"/><stop offset="0.8951" stop-color="#440a68"/><stop offset="0.9352" stop-color="#210c4a"/><stop offset="0.9645" stop-color="#0b0724"/><stop offset="0.9824" stop-color="#000004"/><stop offset="0.9884" stop-color="#000004"/></linearGradient><linearGradient id="g58" gradientUnits="userSpaceOnUse" x1="432.9" x2="723.1" y1="0" y2="0"><stop offset="0.0101" stop-color="#f3e35a"/><stop offset="0.0162" stop-color="#f2e865"/><stop offset="0.0341" stop-color="#f1ef75"/><stop offset="0.0635" stop-color="#f3f586"/><stop offset="0.1037" stop-color="#f5f992"/><stop offset="0.1536" stop-color="#f9fc9d"/><stop offset="0.2121" stop-color="#f9fc9d"/><stop offset="0.2776" stop-color="#f4f88e"/><stop offset="0.3486" stop-color="#f2e865"/><stop offset="0.4234" stop-color="#f9c932"/><stop offset="0.5000" stop-color="#fca60c"/><stop offset="0.5766" stop-color="#f68013"/><stop offset="0.6514" stop-color="#e45a31"/><stop offset="0.7224" stop-color="#c43c4e"/><stop offset="0.7879" stop-color="#972766"/><stop offset="0.8464" stop-color="#6c186e"/><stop offset="0.8963" stop-color="#440a68"/><stop offset="0.9365" stop-color="#210c4a"/><stop offset="0.9659" stop-color="#0b0724"/><stop offset="0.9838" stop-color="#000004"/><stop offset="0.9899" stop-color="#000004"/></linearGradient><linearGradient id="g59" gradientUnits="userSpaceOnUse" x1="432.9" x2="723.1" y1="0" y2="0"><stop offset="0.0088" stop-color="#f3e35a"/><stop offset="0.0148" stop-color="#f2ea69"/><stop offset="0.0328" stop-color="#f1ef75"/><stop offset="0.0623" stop-color="#f3f586"/><stop offset="0.1026" stop-color="#f5f992"/><stop offset="0.1527" stop-color="#f9fc9d"/><stop offset="0.2113" stop-color="#f9fc9d"/><stop offset="0.2770" stop-color="#f4f88e"/><stop offset="0.3482" stop-color="#f2e865"/><stop offset="0.4232" stop-color="#f9c932"/><stop offset="0.5000" stop-color="#fca80d"/><stop offset="0.5768" stop-color="#f78212"/><stop offset="0.6518" stop-color="#e45a31"/><stop offset="0.7230" stop-color="#c43c4e"/><stop offset="0.7887" stop-color="#972766"/><stop offset="0.8473" stop-color="#6c186e"/><stop offset="0.8974" stop-color="#440a68"/><stop offset="0.9377" stop-color="#210c4a"/><stop offset="0.9672" stop-color="#0a0722"/><stop offset="0.9852" stop-color="#000004"/><stop offset="0.9912" stop-color="#000004"/></linearGradient><linearGradient id="g60" gradientUnits="userSpaceOnUse" x1="432.9" x2="723.1" y1="0" y2="0"><stop offset="0.0075" stop-color="#f3e35a"/><stop offset="0.0136" stop-color="#f2ea69"/><stop offset="0.0316" stop-color="#f1ef75"/><stop offset="0.0612" stop-color="#f3f586"/><stop offset="0.1016" stop-color="#f6fa96"/><stop offset="0.1518" stop-color="#fafda1"/><stop offset="0.2105" stop-color="#fafda1"/><stop offset="0.2764" stop-color="#f4f88e"/><stop offset="0.3478" stop-color="#f2ea69"/><stop offset="0.4230" stop-color="#f9c932"/><stop offset="0.5000" stop-color="#fca80d"/><stop offset="0.5770" stop-color="#f78212"/><stop offset="0.6522" stop-color="#e45a31"/><stop offset="0.7236" stop-color="#c43c4e"/><stop offset="0.7895" stop-color="#972766"/><stop offset="0.8482" stop-color="#6c186e"/><stop offset="0.8984" stop-color="#420a68"/><stop offset="0.9388" stop-color="#1f0c48"/><stop offset="0.9684" stop-color="#0a0722"/><stop offset="0.9864" stop-color="#000004"/><stop offset="0.9925" stop-color="#000004"/></linearGradient><linearGradient id="g61" gradientUnits="userSpaceOnUse" x1="432.9" x2="723.1" y1="0" y2="0"><stop offset="0.0064" stop-color="#f3e55d"/><stop offset="0.0125" stop-color="#f2ea69"/><stop offset="0.0305" stop-color="#f1ef75"/><stop offset="0.0602" stop-color="#f3f586"/><stop offset="0.1007" stop-color="#f6fa96"/><stop offset="0.1510" stop-color="#fafda1"/><stop offset="0.2099" stop-color="#fafda1"/><stop offset="0.2759" stop-color="#f4f88e"/><stop offset="0.3475" stop-color="#f2ea69"/><stop offset="0.4228" stop-color="#f9cb35"/><stop offset="0.5000" stop-color="#fca80d"/><stop offset="0.5772" stop-color="#f78212"/><stop offset="0.6525" stop-color="#e45a31"/><stop offset="0.7241" stop-color="#c33b4f"/><stop offset="0.7901" stop-color="#972766"/><stop offset="0.8490" stop-color="#6c186e"/><stop offset="0.8993" stop-color="#420a68"/><stop offset="0.9398" stop-color="#1f0c48"/><stop offset="0.9695" stop-color="#0a0722"/><stop offset="0.9875" stop-color="#000004"/><stop offset="0.9936" stop-color="#000004"/></linearGradient><linearGradient id="g62" gradientUnits="userSpaceOnUse" x1="432.9" x2="723.1" y1="0" y2="0"><stop offset="0.0053" stop-color="#f3e55d"/><stop offset="0.0114" stop-color="#f2ea69"/><stop offset="0.0295" stop-color="#f1f179"/><stop offset="0.0592" stop-color="#f3f68a"/><stop offset="0.0998" stop-color="#f6fa96"/><stop offset="0.1502" stop-color="#fafda1"/><stop offset="0.2092" stop-color="#fafda1"/><stop offset="0.2754" stop-color="#f5f992"/><stop offset="0.3471" stop-color="#f2ea69"/><stop offset="0.4226" stop-color="#f9cb35"/><stop offset="0.5000" stop-color="#fca80d"/><stop offset="0.5774" stop-color="#f78212"/><stop offset="0.6529" stop-color="#e45a31"/><stop offset="0.7246" stop-color="#c33b4f"/><stop offset="0.7908" stop-color="#972766"/><stop offset="0.8498" stop-color="#6a176e"/><stop offset="0.9002" stop-color="#420a68"/><stop offset="0.9408" stop-color="#1f0c48"/><stop offset="0.9705" stop-color="#09061f"/><stop offset="0.9886" stop-color="#000004"/><stop offset="0.9947" stop-color="#000004"/></linearGradient><linearGradient id="g63" gradientUnits="userSpaceOnUse" x1="432.9" x2="723.1" y1="0" y2="0"><stop offset="0.0044" stop-color="#f3e55d"/><stop offset="0.0105" stop-color="#f2ea69"/><stop offset="0.0286" stop-color="#f1f179"/><stop offset="0.0584" stop-color="#f3f68a"/><stop offset="0.0990" stop-color="#f6fa96"/><stop offset="0.1495" stop-color="#fafda1"/><stop offset="0.2087" stop-color="#fafda1"/><stop offset="0.2750" stop-color="#f5f992"/><stop offset="0.3468" stop-color="#f2ea69"/><stop offset="0.4225" stop-color="#f9cb35"/><stop offset="0.5000" stop-color="#fca80d"/><stop offset="0.5775" stop-color="#f78212"/><stop offset="0.6532" stop-color="#e45a31"/><stop offset="0.7250" stop-color="#c33b4f"/><stop offset="0.7913" stop-color="#972766"/><stop offset="0.8505" stop-color="#6a176e"/><stop offset="0.9010" stop-color="#420a68"/><stop offset="0.9416" stop-color="#1f0c48"/><stop offset="0.9714" stop-color="#09061f"/><stop offset="0.9895" stop-color="#000004"/><stop offset="0.9956" stop-color="#000004"/></linearGradient><linearGradient id="g64" gradientUnits="userSpaceOnUse" x1="432.9" x2="723.1" y1="0" y2="0"><stop offset="0.0035" stop-color="#f3e55d"/><stop offset="0.0096" stop-color="#f2ea69"/><stop offset="0.0278" stop-color="#f1f179"/><stop offset="0.0576" stop-color="#f3f68a"/><stop offset="0.0983" stop-color="#f6fa96"/><stop offset="0.1489" stop-color="#fafda1"/><stop offset="0.2082" stop-color="#fafda1"/><stop offset="0.2746" stop-color="#f5f992"/><stop offset="0.3466" stop-color="#f2ea69"/><stop offset="0.4223" stop-color="#f9cb35"/><stop offset="0.5000" stop-color="#fca80d"/><stop offset="0.5777" stop-color="#f78212"/><stop offset="0.6534" stop-color="#e45a31"/><stop offset="0.7254" stop-color="#c33b4f"/><stop offset="0.7918" stop-color="#972766"/><stop offset="0.8511" stop-color="#6a176e"/><stop offset="0.9017" stop-color="#420a68"/><stop offset="0.9424" stop-color="#1e0c45"/><stop offset="0.9722" stop-color="#09061f"/><stop offset="0.9904" stop-color="#000004"/><stop offset="0.9965" stop-color="#000004"/></linearGradient><linearGradient id="g65" gradientUnits="userSpaceOnUse" x1="432.9" x2="723.1" y1="0" y2="0"><stop offset="0.0027" stop-color="#f3e55d"/><stop offset="0.0089" stop-color="#f1ec6d"/><stop offset="0.0271" stop-color="#f1f179"/><stop offset="0.0569" stop-color="#f3f68a"/><stop offset="0.0977" stop-color="#f8fb9a"/><stop offset="0.1484" stop-color="#fafda1"/><stop offset="0.2077" stop-color="#fafda1"/><stop offset="0.2742" stop-color="#f5f992"/><stop offset="0.3463" stop-color="#f2ea69"/><stop offset="0.4222" stop-color="#f9cb35"/><stop offset="0.5000" stop-color="#fca80d"/><stop offset="0.5778" stop-color="#f78212"/><stop offset="0.6537" stop-color="#e45a31"/><stop offset="0.7258" stop-color="#c33b4f"/><stop offset="0.7923" stop-color="#972766"/><stop offset="0.8516" stop-color="#6a176e"/><stop offset="0.9023" stop-color="#400a67"/><stop offset="0.9431" stop-color="#1e0c45"/><stop offset="0.9729" stop-color="#09061f"/><stop offset="0.9911" stop-color="#000004"/><stop offset="0.9973" stop-color="#000004"/></linearGradient><linearGradient id="g66" gradientUnits="userSpaceOnUse" x1="432.9" x2="723.1" y1="0" y2="0"><stop offset="0.0021" stop-color="#f3e55d"/><stop offset="0.0082" stop-color="#f1ec6d"/><stop offset="0.0264" stop-color="#f1f179"/><stop offset="0.0563" stop-color="#f3f68a"/><stop offset="0.0972" stop-color="#f8fb9a"/><stop offset="0.1479" stop-color="#fafda1"/><stop offset="0.2073" stop-color="#fcffa4"/><stop offset="0.2739" stop-color="#f5f992"/><stop offset="0.3461" stop-color="#f2ea69"/><stop offset="0.4221" stop-color="#f9cb35"/><stop offset="0.5000" stop-color="#fca80d"/><stop offset="0.5779" stop-color="#f78212"/><stop offset="0.6539" stop-color="#e45a31"/><stop offset="0.7261" stop-color="#c33b4f"/><stop offset="0.7927" stop-color="#972766"/><stop offset="0.8521" stop-color="#6a176e"/><stop offset="0.9028" stop-color="#400a67"/><stop offset="0.9437" stop-color="#1e0c45"/><stop offset="0.9736" stop-color="#08051d"/><stop offset="0.9918" stop-color="#000004"/><stop offset="0.9979" stop-color="#000004"/></linearGradient><linearGradient id="g67" gradientUnits="userSpaceOnUse" x1="432.9" x2="723.1" y1="0" y2="0"><stop offset="0.0015" stop-color="#f3e55d"/><stop offset="0.0076" stop-color="#f1ec6d"/><stop offset="0.0259" stop-color="#f1f179"/><stop offset="0.0558" stop-color="#f3f68a"/><stop offset="0.0967" stop-color="#f8fb9a"/><stop offset="0.1475" stop-color="#fcffa4"/><stop offset="0.2070" stop-color="#fcffa4"/><stop offset="0.2737" stop-color="#f5f992"/><stop offset="0.3460" stop-color="#f2ea69"/><stop offset="0.4220" stop-color="#f9cb35"/><stop offset="0.5000" stop-color="#fca80d"/><stop offset="0.5780" stop-color="#f78212"/><stop offset="0.6540" stop-color="#e45a31"/><stop offset="0.7263" stop-color="#c33b4f"/><stop offset="0.7930" stop-color="#952667"/><stop offset="0.8525" stop-color="#6a176e"/><stop offset="0.9033" stop-color="#400a67"/><stop offset="0.9442" stop-color="#1e0c45"/><stop offset="0.9741" stop-color="#08051d"/><stop offset="0.9924" stop-color="#000004"/><stop offset="0.9985" stop-color="#000004"/></linearGradient><linearGradient id="g68" gradientUnits="userSpaceOnUse" x1="432.9" x2="723.1" y1="0" y2="0"><stop offset="0.0010" stop-color="#f3e55d"/><stop offset="0.0072" stop-color="#f1ec6d"/><stop offset="0.0254" stop-color="#f1f179"/><stop offset="0.0554" stop-color="#f3f68a"/><stop offset="0.0963" stop-color="#f8fb9a"/><stop offset="0.1472" stop-color="#fcffa4"/><stop offset="0.2067" stop-color="#fcffa4"/><stop offset="0.2735" stop-color="#f5f992"/><stop offset="0.3458" stop-color="#f1ec6d"/><stop offset="0.4219" stop-color="#f9cb35"/><stop offset="0.5000" stop-color="#fca80d"/><stop offset="0.5781" stop-color="#f78212"/><stop offset="0.6542" stop-color="#e45a31"/><stop offset="0.7265" stop-color="#c33b4f"/><stop offset="0.7933" stop-color="#952667"/><stop offset="0.8528" stop-color="#6a176e"/><stop offset="0.9037" stop-color="#400a67"/><stop offset="0.9446" stop-color="#1e0c45"/><stop offset="0.9746" stop-color="#08051d"/><stop offset="0.9928" stop-color="#000004"/><stop offset="0.9990" stop-color="#000004"/></linearGradient><linearGradient id="g69" gradientUnits="userSpaceOnUse" x1="432.9" x2="723.1" y1="0" y2="0"><stop offset="0.0006" stop-color="#f3e55d"/><stop offset="0.0068" stop-color="#f1ec6d"/><stop offset="0.0251" stop-color="#f1f179"/><stop offset="0.0551" stop-color="#f3f68a"/><stop offset="0.0960" stop-color="#f8fb9a"/><stop offset="0.1469" stop-color="#fcffa4"/><stop offset="0.2065" stop-color="#fcffa4"/><stop offset="0.2733" stop-color="#f5f992"/><stop offset="0.3457" stop-color="#f1ec6d"/><stop offset="0.4219" stop-color="#f9cb35"/><stop offset="0.5000" stop-color="#fca80d"/><stop offset="0.5781" stop-color="#f78212"/><stop offset="0.6543" stop-color="#e45a31"/><stop offset="0.7267" stop-color="#c33b4f"/><stop offset="0.7935" stop-color="#952667"/><stop offset="0.8531" stop-color="#6a176e"/><stop offset="0.9040" stop-color="#400a67"/><stop offset="0.9449" stop-color="#1e0c45"/><stop offset="0.9749" stop-color="#08051d"/><stop offset="0.9932" stop-color="#000004"/><stop offset="0.9994" stop-color="#000004"/></linearGradient><linearGradient id="g70" gradientUnits="userSpaceOnUse" x1="432.9" x2="723.1" y1="0" y2="0"><stop offset="0.0003" stop-color="#f2e661"/><stop offset="0.0065" stop-color="#f1ec6d"/><stop offset="0.0248" stop-color="#f1f179"/><stop offset="0.0548" stop-color="#f3f68a"/><stop offset="0.0958" stop-color="#f8fb9a"/><stop offset="0.1467" stop-color="#fcffa4"/><stop offset="0.2063" stop-color="#fcffa4"/><stop offset="0.2732" stop-color="#f5f992"/><stop offset="0.3456" stop-color="#f1ec6d"/><stop offset="0.4218" stop-color="#f9cb35"/><stop offset="0.5000" stop-color="#fca80d"/><stop offset="0.5782" stop-color="#f78212"/><stop offset="0.6544" stop-color="#e45a31"/><stop offset="0.7268" stop-color="#c33b4f"/><stop offset="0.7937" stop-color="#952667"/><stop offset="0.8533" stop-color="#6a176e"/><stop offset="0.9042" stop-color="#400a67"/><stop offset="0.9452" stop-color="#1e0c45"/><stop offset="0.9752" stop-color="#08051d"/><stop offset="0.9935" stop-color="#000004"/><stop offset="0.9997" stop-color="#000004"/></linearGradient><linearGradient id="g71" gradientUnits="userSpaceOnUse" x1="432.9" x2="723.1" y1="0" y2="0"><stop offset="0.0001" stop-color="#f2e661"/><stop offset="0.0063" stop-color="#f1ec6d"/><stop offset="0.0246" stop-color="#f1f179"/><stop offset="0.0546" stop-color="#f3f68a"/><stop offset="0.0956" stop-color="#f8fb9a"/><stop offset="0.1465" stop-color="#fcffa4"/><stop offset="0.2062" stop-color="#fcffa4"/><stop offset="0.2731" stop-color="#f5f992"/><stop offset="0.3455" stop-color="#f1ec6d"/><stop offset="0.4218" stop-color="#f9cb35"/><stop offset="0.5000" stop-color="#fca80d"/><stop offset="0.5782" stop-color="#f78212"/><stop offset="0.6545" stop-color="#e45a31"/><stop offset="0.7269" stop-color="#c33b4f"/><stop offset="0.7938" stop-color="#952667"/><stop offset="0.8535" stop-color="#6a176e"/><stop offset="0.9044" stop-color="#400a67"/><stop offset="0.9454" stop-color="#1c0c43"/><stop offset="0.9754" stop-color="#08051d"/><stop offset="0.9937" stop-color="#000004"/><stop offset="0.9999" stop-color="#000004"/></linearGradient><linearGradient id="g72" gradientUnits="userSpaceOnUse" x1="432.9" x2="723.1" y1="0" y2="0"><stop offset="0.0000" stop-color="#f2e661"/><stop offset="0.0062" stop-color="#f1ec6d"/><stop offset="0.0245" stop-color="#f1f179"/><stop offset="0.0545" stop-color="#f3f68a"/><stop offset="0.0955" stop-color="#f8fb9a"/><stop offset="0.1465" stop-color="#fcffa4"/><stop offset="0.2061" stop-color="#fcffa4"/><stop offset="0.2730" stop-color="#f5f992"/><stop offset="0.3455" stop-color="#f1ec6d"/><stop offset="0.4218" stop-color="#f9cb35"/><stop offset="0.5000" stop-color="#fca80d"/><stop offset="0.5782" stop-color="#f78212"/><stop offset="0.6545" stop-color="#e45a31"/><stop offset="0.7270" stop-color="#c33b4f"/><stop offset="0.7939" stop-color="#952667"/><stop offset="0.8535" stop-color="#6a176e"/><stop offset="0.9045" stop-color="#400a67"/><stop offset="0.9455" stop-color="#1c0c43"/><stop offset="0.9755" stop-color="#08051d"/><stop offset="0.9938" stop-color="#000004"/><stop offset="1.0000" stop-color="#000004"/></linearGradient><linearGradient id="g73" gradientUnits="userSpaceOnUse" x1="432.9" x2="723.1" y1="0" y2="0"><stop offset="0.0000" stop-color="#f2e661"/><stop offset="0.0062" stop-color="#f1ec6d"/><stop offset="0.0245" stop-color="#f1f179"/><stop offset="0.0545" stop-color="#f3f68a"/><stop offset="0.0955" stop-color="#f8fb9a"/><stop offset="0.1465" stop-color="#fcffa4"/><stop offset="0.2061" stop-color="#fcffa4"/><stop offset="0.2730" stop-color="#f5f992"/><stop offset="0.3455" stop-color="#f1ec6d"/><stop offset="0.4218" stop-color="#f9cb35"/><stop offset="0.5000" stop-color="#fca80d"/><stop offset="0.5782" stop-color="#f78212"/><stop offset="0.6545" stop-color="#e45a31"/><stop offset="0.7270" stop-color="#c33b4f"/><stop offset="0.7939" stop-color="#952667"/><stop offset="0.8535" stop-color="#6a176e"/><stop offset="0.9045" stop-color="#400a67"/><stop offset="0.9455" stop-color="#1c0c43"/><stop offset="0.9755" stop-color="#08051d"/><stop offset="0.9938" stop-color="#000004"/><stop offset="1.0000" stop-color="#000004"/></linearGradient><linearGradient id="g74" gradientUnits="userSpaceOnUse" x1="432.9" x2="723.1" y1="0" y2="0"><stop offset="0.0001" stop-color="#f2e661"/><stop offset="0.0062" stop-color="#f1ec6d"/><stop offset="0.0246" stop-color="#f1f179"/><stop offset="0.0546" stop-color="#f3f68a"/><stop offset="0.0956" stop-color="#f8fb9a"/><stop offset="0.1465" stop-color="#fcffa4"/><stop offset="0.2062" stop-color="#fcffa4"/><stop offset="0.2730" stop-color="#f5f992"/><stop offset="0.3455" stop-color="#f1ec6d"/><stop offset="0.4218" stop-color="#f9cb35"/><stop offset="0.5000" stop-color="#fca80d"/><stop offset="0.5782" stop-color="#f78212"/><stop offset="0.6545" stop-color="#e45a31"/><stop offset="0.7270" stop-color="#c33b4f"/><stop offset="0.7938" stop-color="#952667"/><stop offset="0.8535" stop-color="#6a176e"/><stop offset="0.9044" stop-color="#400a67"/><stop offset="0.9454" stop-color="#1c0c43"/><stop offset="0.9754" stop-color="#08051d"/><stop offset="0.9938" stop-color="#000004"/><stop offset="0.9999" stop-color="#000004"/></linearGradient><linearGradient id="g75" gradientUnits="userSpaceOnUse" x1="432.9" x2="723.1" y1="0" y2="0"><stop offset="0.0003" stop-color="#f2e661"/><stop offset="0.0064" stop-color="#f1ec6d"/><stop offset="0.0247" stop-color="#f1f179"/><stop offset="0.0547" stop-color="#f3f68a"/><stop offset="0.0957" stop-color="#f8fb9a"/><stop offset="0.1466" stop-color="#fcffa4"/><stop offset="0.2063" stop-color="#fcffa4"/><stop offset="0.2731" stop-color="#f5f992"/><stop offset="0.3456" stop-color="#f1ec6d"/><stop offset="0.4218" stop-color="#f9cb35"/><stop offset="0.5000" stop-color="#fca80d"/><stop offset="0.5782" stop-color="#f78212"/><stop offset="0.6544" stop-color="#e45a31"/><stop offset="0.7269" stop-color="#c33b4f"/><stop offset="0.7937" stop-color="#952667"/><stop offset="0.8534" stop-color="#6a176e"/><stop offset="0.9043" stop-color="#400a67"/><stop offset="0.9453" stop-color="#1e0c45"/><stop offset="0.9753" stop-color="#08051d"/><stop offset="0.9936" stop-color="#000004"/><stop offset="0.9997" stop-color="#000004"/></linearGradient><linearGradient id="g76" gradientUnits="userSpaceOnUse" x1="432.9" x2="723.1" y1="0" y2="0"><stop offset="0.0005" stop-color="#f2e661"/><stop offset="0.0067" stop-color="#f1ec6d"/><stop offset="0.0250" stop-color="#f1f179"/><stop offset="0.0550" stop-color="#f3f68a"/><stop offset="0.0959" stop-color="#f8fb9a"/><stop offset="0.1468" stop-color="#fcffa4"/><stop offset="0.2064" stop-color="#fcffa4"/><stop offset="0.2732" stop-color="#f5f992"/><stop offset="0.3457" stop-color="#f1ec6d"/><stop offset="0.4219" stop-color="#f9cb35"/><stop offset="0.5000" stop-color="#fca80d"/><stop offset="0.5781" stop-color="#f78212"/><stop offset="0.6543" stop-color="#e45a31"/><stop offset="0.7268" stop-color="#c33b4f"/><stop offset="0.7936" stop-color="#952667"/><stop offset="0.8532" stop-color="#6a176e"/><stop offset="0.9041" stop-color="#400a67"/><stop offset="0.9450" stop-color="#1e0c45"/><stop offset="0.9750" stop-color="#08051d"/><stop offset="0.9933" stop-color="#000004"/><stop offset="0.9995" stop-color="#000004"/></linearGradient><linearGradient id="g77" gradientUnits="userSpaceOnUse" x1="432.9" x2="723.1" y1="0" y2="0"><stop offset="0.0009" stop-color="#f3e55d"/><stop offset="0.0070" stop-color="#f1ec6d"/><stop offset="0.0253" stop-color="#f1f179"/><stop offset="0.0553" stop-color="#f3f68a"/><stop offset="0.0962" stop-color="#f8fb9a"/><stop offset="0.1471" stop-color="#fcffa4"/><stop offset="0.2066" stop-color="#fcffa4"/><stop offset="0.2734" stop-color="#f5f992"/><stop offset="0.3458" stop-color="#f1ec6d"/><stop offset="0.4219" stop-color="#f9cb35"/><stop offset="0.5000" stop-color="#fca80d"/><stop offset="0.5781" stop-color="#f78212"/><stop offset="0.6542" stop-color="#e45a31"/><stop offset="0.7266" stop-color="#c33b4f"/><stop offset="0.7934" stop-color="#952667"/><stop offset="0.8529" stop-color="#6a176e"/><stop offset="0.9038" stop-color="#400a67"/><stop offset="0.9447" stop-color="#1e0c45"/><stop offset="0.9747" stop-color="#08051d"/><stop offset="0.9930" stop-color="#000004"/><stop offset="0.9991" stop-color="#000004"/></linearGradient><linearGradient id="g78" gradientUnits="userSpaceOnUse" x1="432.9" x2="723.1" y1="0" y2="0"><stop offset="0.0013" stop-color="#f3e55d"/><stop offset="0.0075" stop-color="#f1ec6d"/><stop offset="0.0257" stop-color="#f1f179"/><stop offset="0.0557" stop-color="#f3f68a"/><stop offset="0.0966" stop-color="#f8fb9a"/><stop offset="0.1474" stop-color="#fcffa4"/><stop offset="0.2069" stop-color="#fcffa4"/><stop offset="0.2736" stop-color="#f5f992"/><stop offset="0.3459" stop-color="#f1ec6d"/><stop offset="0.4220" stop-color="#f9cb35"/><stop offset="0.5000" stop-color="#fca80d"/><stop offset="0.5780" stop-color="#f78212"/><stop offset="0.6541" stop-color="#e45a31"/><stop offset="0.7264" stop-color="#c33b4f"/><stop offset="0.7931" stop-color="#952667"/><stop offset="0.8526" stop-color="#6a176e"/><stop offset="0.9034" stop-color="#400a67"/><stop offset="0.9443" stop-color="#1e0c45"/><stop offset="0.9743" stop-color="#08051d"/><stop offset="0.9925" stop-color="#000004"/><stop offset="0.9987" stop-color="#000004"/></linearGradient><linearGradient id="g79" gradientUnits="userSpaceOnUse" x1="432.9" x2="723.1" y1="0" y2="0"><stop offset="0.0019" stop-color="#f3e55d"/><stop offset="0.0080" stop-color="#f1ec6d"/><stop offset="0.0263" stop-color="#f1f179"/><stop offset="0.0562" stop-color="#f3f68a"/><stop offset="0.0970" stop-color="#f8fb9a"/><stop offset="0.1478" stop-color="#fcffa4"/><stop offset="0.2072" stop-color="#fcffa4"/><stop offset="0.2739" stop-color="#f5f992"/><stop offset="0.3461" stop-color="#f2ea69"/><stop offset="0.4221" stop-color="#f9cb35"/><stop offset="0.5000" stop-color="#fca80d"/><stop offset="0.5779" stop-color="#f78212"/><stop offset="0.6539" stop-color="#e45a31"/><stop offset="0.7261" stop-color="#c33b4f"/><stop offset="0.7928" stop-color="#972766"/><stop offset="0.8522" stop-color="#6a176e"/><stop offset="0.9030" stop-color="#400a67"/><stop offset="0.9438" stop-color="#1e0c45"/><stop offset="0.9737" stop-color="#08051d"/><stop offset="0.9920" stop-color="#000004"/><stop offset="0.9981" stop-color="#000004"/></linearGradient><linearGradient id="g80" gradientUnits="userSpaceOnUse" x1="432.9" x2="723.1" y1="0" y2="0"><stop offset="0.0025" stop-color="#f3e55d"/><stop offset="0.0087" stop-color="#f1ec6d"/><stop offset="0.0269" stop-color="#f1f179"/><stop offset="0.0568" stop-color="#f3f68a"/><stop offset="0.0975" stop-color="#f8fb9a"/><stop offset="0.1482" stop-color="#fafda1"/><stop offset="0.2076" stop-color="#fafda1"/><stop offset="0.2742" stop-color="#f5f992"/><stop offset="0.3463" stop-color="#f2ea69"/><stop offset="0.4222" stop-color="#f9cb35"/><stop offset="0.5000" stop-color="#fca80d"/><stop offset="0.5778" stop-color="#f78212"/><stop offset="0.6537" stop-color="#e45a31"/><stop offset="0.7258" stop-color="#c33b4f"/><stop offset="0.7924" stop-color="#972766"/><stop offset="0.8518" stop-color="#6a176e"/><stop offset="0.9025" stop-color="#400a67"/><stop offset="0.9432" stop-color="#1e0c45"/><stop offset="0.9731" stop-color="#08051d"/><stop offset="0.9913" stop-color="#000004"/><stop offset="0.9975" stop-color="#000004"/></linearGradient><linearGradient id="g81" gradientUnits="userSpaceOnUse" x1="432.9" x2="723.1" y1="0" y2="0"><stop offset="0.0033" stop-color="#f3e55d"/><stop offset="0.0094" stop-color="#f2ea69"/><stop offset="0.0276" stop-color="#f1f179"/><stop offset="0.0574" stop-color="#f3f68a"/><stop offset="0.0981" stop-color="#f6fa96"/><stop offset="0.1488" stop-color="#fafda1"/><stop offset="0.2080" stop-color="#fafda1"/><stop offset="0.2745" stop-color="#f5f992"/><stop offset="0.3465" stop-color="#f2ea69"/><stop offset="0.4223" stop-color="#f9cb35"/><stop offset="0.5000" stop-color="#fca80d"/><stop offset="0.5777" stop-color="#f78212"/><stop offset="0.6535" stop-color="#e45a31"/><stop offset="0.7255" stop-color="#c33b4f"/><stop offset="0.7920" stop-color="#972766"/><stop offset="0.8512" stop-color="#6a176e"/><stop offset="0.9019" stop-color="#400a67"/><stop offset="0.9426" stop-color="#1e0c45"/><stop offset="0.9724" stop-color="#09061f"/><stop offset="0.9906" stop-color="#000004"/><stop offset="0.9967" stop-color="#000004"/></linearGradient><linearGradient id="g82" gradientUnits="userSpaceOnUse" x1="432.9" x2="723.1" y1="0" y2="0"><stop offset="0.0041" stop-color="#f3e55d"/><stop offset="0.0102" stop-color="#f2ea69"/><stop offset="0.0284" stop-color="#f1f179"/><stop offset="0.0582" stop-color="#f3f68a"/><stop offset="0.0988" stop-color="#f6fa96"/><stop offset="0.1493" stop-color="#fafda1"/><stop offset="0.2085" stop-color="#fafda1"/><stop offset="0.2749" stop-color="#f5f992"/><stop offset="0.3468" stop-color="#f2ea69"/><stop offset="0.4224" stop-color="#f9cb35"/><stop offset="0.5000" stop-color="#fca80d"/><stop offset="0.5776" stop-color="#f78212"/><stop offset="0.6532" stop-color="#e45a31"/><stop offset="0.7251" stop-color="#c33b4f"/><stop offset="0.7915" stop-color="#972766"/><stop offset="0.8507" stop-color="#6a176e"/><stop offset="0.9012" stop-color="#420a68"/><stop offset="0.9418" stop-color="#1e0c45"/><stop offset="0.9716" stop-color="#09061f"/><stop offset="0.9898" stop-color="#000004"/><stop offset="0.9959" stop-color="#000004"/></linearGradient><linearGradient id="g83" gradientUnits="userSpaceOnUse" x1="432.9" x2="723.1" y1="0" y2="0"><stop offset="0.0050" stop-color="#f3e55d"/><stop offset="0.0111" stop-color="#f2ea69"/><stop offset="0.0293" stop-color="#f1f179"/><stop offset="0.0590" stop-color="#f3f68a"/><stop offset="0.0996" stop-color="#f6fa96"/><stop offset="0.1500" stop-color="#fafda1"/><stop offset="0.2091" stop-color="#fafda1"/><stop offset="0.2753" stop-color="#f5f992"/><stop offset="0.3470" stop-color="#f2ea69"/><stop offset="0.4226" stop-color="#f9cb35"/><stop offset="0.5000" stop-color="#fca80d"/><stop offset="0.5774" stop-color="#f78212"/><stop offset="0.6530" stop-color="#e45a31"/><stop offset="0.7247" stop-color="#c33b4f"/><stop offset="0.7909" stop-color="#972766"/><stop offset="0.8500" stop-color="#6a176e"/><stop offset="0.9004" stop-color="#420a68"/><stop offset="0.9410" stop-color="#1f0c48"/><stop offset="0.9707" stop-color="#09061f"/><stop offset="0.9889" stop-color="#000004"/><stop offset="0.9950" stop-color="#000004"/></linearGradient><linearGradient id="g84" gradientUnits="userSpaceOnUse" x1="432.9" x2="723.1" y1="0" y2="0"><stop offset="0.0061" stop-color="#f3e55d"/><stop offset="0.0121" stop-color="#f2ea69"/><stop offset="0.0302" stop-color="#f1ef75"/><stop offset="0.0599" stop-color="#f3f586"/><stop offset="0.1004" stop-color="#f6fa96"/><stop offset="0.1507" stop-color="#fafda1"/><stop offset="0.2097" stop-color="#fafda1"/><stop offset="0.2758" stop-color="#f4f88e"/><stop offset="0.3474" stop-color="#f2ea69"/><stop offset="0.4227" stop-color="#f9cb35"/><stop offset="0.5000" stop-color="#fca80d"/><stop offset="0.5773" stop-color="#f78212"/><stop offset="0.6526" stop-color="#e45a31"/><stop offset="0.7242" stop-color="#c33b4f"/><stop offset="0.7903" stop-color="#972766"/><stop offset="0.8493" stop-color="#6c186e"/><stop offset="0.8996" stop-color="#420a68"/><stop offset="0.9401" stop-color="#1f0c48"/><stop offset="0.9698" stop-color="#09061f"/><stop offset="0.9879" stop-color="#000004"/><stop offset="0.9939" stop-color="#000004"/></linearGradient><linearGradient id="g85" gradientUnits="userSpaceOnUse" x1="432.9" x2="723.1" y1="0" y2="0"><stop offset="0.0072" stop-color="#f3e55d"/><stop offset="0.0132" stop-color="#f2ea69"/><stop offset="0.0313" stop-color="#f1ef75"/><stop offset="0.0609" stop-color="#f3f586"/><stop offset="0.1013" stop-color="#f6fa96"/><stop offset="0.1515" stop-color="#fafda1"/><stop offset="0.2103" stop-color="#fafda1"/><stop offset="0.2763" stop-color="#f4f88e"/><stop offset="0.3477" stop-color="#f2ea69"/><stop offset="0.4229" stop-color="#f9cb35"/><stop offset="0.5000" stop-color="#fca80d"/><stop offset="0.5771" stop-color="#f78212"/><stop offset="0.6523" stop-color="#e45a31"/><stop offset="0.7237" stop-color="#c33b4f"/><stop offset="0.7897" stop-color="#972766"/><stop offset="0.8485" stop-color="#6c186e"/><stop offset="0.8987" stop-color="#420a68"/><stop offset="0.9391" stop-color="#1f0c48"/><stop offset="0.9687" stop-color="#0a0722"/><stop offset="0.9868" stop-color="#000004"/><stop offset="0.9928" stop-color="#000004"/></linearGradient><linearGradient id="g86" gradientUnits="userSpaceOnUse" x1="432.9" x2="723.1" y1="0" y2="0"><stop offset="0.0084" stop-color="#f3e35a"/><stop offset="0.0144" stop-color="#f2ea69"/><stop offset="0.0325" stop-color="#f1ef75"/><stop offset="0.0620" stop-color="#f3f586"/><stop offset="0.1023" stop-color="#f6fa96"/><stop offset="0.1524" stop-color="#f9fc9d"/><stop offset="0.2110" stop-color="#f9fc9d"/><stop offset="0.2768" stop-color="#f4f88e"/><stop offset="0.3481" stop-color="#f2e865"/><stop offset="0.4231" stop-color="#f9c932"/><stop offset="0.5000" stop-color="#fca80d"/><stop offset="0.5769" stop-color="#f78212"/><stop offset="0.6519" stop-color="#e45a31"/><stop offset="0.7232" stop-color="#c43c4e"/><stop offset="0.7890" stop-color="#972766"/><stop offset="0.8476" stop-color="#6c186e"/><stop offset="0.8977" stop-color="#440a68"/><stop offset="0.9380" stop-color="#1f0c48"/><stop offset="0.9675" stop-color="#0a0722"/><stop offset="0.9856" stop-color="#000004"/><stop offset="0.9916" stop-color="#000004"/></linearGradient><linearGradient id="g87" gradientUnits="userSpaceOnUse" x1="432.9" x2="723.1" y1="0" y2="0"><stop offset="0.0097" stop-color="#f3e35a"/><stop offset="0.0158" stop-color="#f2e865"/><stop offset="0.0337" stop-color="#f1ef75"/><stop offset="0.0632" stop-color="#f3f586"/><stop offset="0.1034" stop-color="#f5f992"/><stop offset="0.1533" stop-color="#f9fc9d"/><stop offset="0.2118" stop-color="#f9fc9d"/><stop offset="0.2774" stop-color="#f4f88e"/><stop offset="0.3485" stop-color="#f2e865"/><stop offset="0.4233" stop-color="#f9c932"/><stop offset="0.5000" stop-color="#fca60c"/><stop offset="0.5767" stop-color="#f68013"/><stop offset="0.6515" stop-color="#e45a31"/><stop offset="0.7226" stop-color="#c43c4e"/><stop offset="0.7882" stop-color="#972766"/><stop offset="0.8467" stop-color="#6c186e"/><stop offset="0.8966" stop-color="#440a68"/><stop offset="0.9368" stop-color="#210c4a"/><stop offset="0.9663" stop-color="#0a0722"/><stop offset="0.9842" stop-color="#000004"/><stop offset="0.9903" stop-color="#000004"/></linearGradient><linearGradient id="g88" gradientUnits="userSpaceOnUse" x1="432.9" x2="723.1" y1="0" y2="0"><stop offset="0.0111" stop-color="#f3e35a"/><stop offset="0.0172" stop-color="#f2e865"/><stop offset="0.0351" stop-color="#f1ef75"/><stop offset="0.0644" stop-color="#f3f586"/><stop offset="0.1045" stop-color="#f5f992"/><stop offset="0.1543" stop-color="#f9fc9d"/><stop offset="0.2127" stop-color="#f9fc9d"/><stop offset="0.2781" stop-color="#f4f88e"/><stop offset="0.3489" stop-color="#f2e865"/><stop offset="0.4235" stop-color="#f9c932"/><stop offset="0.5000" stop-color="#fca60c"/><stop offset="0.5765" stop-color="#f68013"/><stop offset="0.6511" stop-color="#e45a31"/><stop offset="0.7219" stop-color="#c43c4e"/><stop offset="0.7873" stop-color="#972766"/><stop offset="0.8457" stop-color="#6c186e"/><stop offset="0.8955" stop-color="#440a68"/><stop offset="0.9356" stop-color="#210c4a"/><stop offset="0.9649" stop-color="#0b0724"/><stop offset="0.9828" stop-color="#000004"/><stop offset="0.9889" stop-color="#000004"/></linearGradient><linearGradient id="g89" gradientUnits="userSpaceOnUse" x1="432.9" x2="723.1" y1="0" y2="0"><stop offset="0.0126" stop-color="#f3e35a"/><stop offset="0.0186" stop-color="#f2e865"/><stop offset="0.0365" stop-color="#f1ed71"/><stop offset="0.0658" stop-color="#f2f482"/><stop offset="0.1057" stop-color="#f5f992"/><stop offset="0.1554" stop-color="#f9fc9d"/><stop offset="0.2135" stop-color="#f9fc9d"/><stop offset="0.2787" stop-color="#f3f68a"/><stop offset="0.3494" stop-color="#f2e865"/><stop offset="0.4238" stop-color="#f9c932"/><stop offset="0.5000" stop-color="#fca60c"/><stop offset="0.5762" stop-color="#f68013"/><stop offset="0.6506" stop-color="#e45a31"/><stop offset="0.7213" stop-color="#c43c4e"/><stop offset="0.7865" stop-color="#982766"/><stop offset="0.8446" stop-color="#6d186e"/><stop offset="0.8943" stop-color="#440a68"/><stop offset="0.9342" stop-color="#230c4c"/><stop offset="0.9635" stop-color="#0b0724"/><stop offset="0.9814" stop-color="#000004"/><stop offset="0.9874" stop-color="#000004"/></linearGradient><linearGradient id="g90" gradientUnits="userSpaceOnUse" x1="432.9" x2="723.1" y1="0" y2="0"><stop offset="0.0143" stop-color="#f4e156"/><stop offset="0.0202" stop-color="#f2e865"/><stop offset="0.0380" stop-color="#f1ed71"/><stop offset="0.0672" stop-color="#f2f482"/><stop offset="0.1070" stop-color="#f5f992"/><stop offset="0.1565" stop-color="#f8fb9a"/><stop offset="0.2145" stop-color="#f8fb9a"/><stop offset="0.2795" stop-color="#f3f68a"/><stop offset="0.3499" stop-color="#f2e865"/><stop offset="0.4240" stop-color="#f9c932"/><stop offset="0.5000" stop-color="#fca60c"/><stop offset="0.5760" stop-color="#f68013"/><stop offset="0.6501" stop-color="#e45a31"/><stop offset="0.7205" stop-color="#c43c4e"/><stop offset="0.7855" stop-color="#982766"/><stop offset="0.8435" stop-color="#6d186e"/><stop offset="0.8930" stop-color="#450a69"/><stop offset="0.9328" stop-color="#230c4c"/><stop offset="0.9620" stop-color="#0c0826"/><stop offset="0.9798" stop-color="#000004"/><stop offset="0.9857" stop-color="#000004"/></linearGradient><linearGradient id="g91" gradientUnits="userSpaceOnUse" x1="432.9" x2="723.1" y1="0" y2="0"><stop offset="0.0160" stop-color="#f4e156"/><stop offset="0.0219" stop-color="#f2e661"/><stop offset="0.0397" stop-color="#f1ed71"/><stop offset="0.0687" stop-color="#f2f482"/><stop offset="0.1084" stop-color="#f4f88e"/><stop offset="0.1578" stop-color="#f8fb9a"/><stop offset="0.2155" stop-color="#f8fb9a"/><stop offset="0.2803" stop-color="#f3f68a"/><stop offset="0.3504" stop-color="#f2e661"/><stop offset="0.4243" stop-color="#f9c72f"/><stop offset="0.5000" stop-color="#fca60c"/><stop offset="0.5757" stop-color="#f68013"/><stop offset="0.6496" stop-color="#e45a31"/><stop offset="0.7197" stop-color="#c43c4e"/><stop offset="0.7845" stop-color="#982766"/><stop offset="0.8422" stop-color="#6d186e"/><stop offset="0.8916" stop-color="#450a69"/><stop offset="0.9313" stop-color="#230c4c"/><stop offset="0.9603" stop-color="#0c0826"/><stop offset="0.9781" stop-color="#010005"/><stop offset="0.9840" stop-color="#000004"/></linearGradient><linearGradient id="g92" gradientUnits="userSpaceOnUse" x1="432.9" x2="723.1" y1="0" y2="0"><stop offset="0.0178" stop-color="#f4e156"/><stop offset="0.0237" stop-color="#f2e661"/><stop offset="0.0414" stop-color="#f1ed71"/><stop offset="0.0704" stop-color="#f2f27d"/><stop offset="0.1099" stop-color="#f4f88e"/><stop offset="0.1590" stop-color="#f8fb9a"/><stop offset="0.2166" stop-color="#f8fb9a"/><stop offset="0.2811" stop-color="#f3f586"/><stop offset="0.3510" stop-color="#f2e661"/><stop offset="0.4246" stop-color="#f9c72f"/><stop offset="0.5000" stop-color="#fca60c"/><stop offset="0.5754" stop-color="#f68013"/><stop offset="0.6490" stop-color="#e45a31"/><stop offset="0.7189" stop-color="#c43c4e"/><stop offset="0.7834" stop-color="#982766"/><stop offset="0.8410" stop-color="#6d186e"/><stop offset="0.8901" stop-color="#450a69"/><stop offset="0.9296" stop-color="#240c4f"/><stop offset="0.9586" stop-color="#0d0829"/><stop offset="0.9763" stop-color="#010005"/><stop offset="0.9822" stop-color="#000004"/></linearGradient><linearGradient id="g93" gradientUnits="userSpaceOnUse" x1="432.9" x2="723.1" y1="0" y2="0"><stop offset="0.0197" stop-color="#f4e156"/><stop offset="0.0257" stop-color="#f2e661"/><stop offset="0.0432" stop-color="#f1ec6d"/><stop offset="0.0721" stop-color="#f2f27d"/><stop offset="0.1115" stop-color="#f4f88e"/><stop offset="0.1604" stop-color="#f6fa96"/><stop offset="0.2177" stop-color="#f6fa96"/><stop offset="0.2820" stop-color="#f3f586"/><stop offset="0.3516" stop-color="#f2e661"/><stop offset="0.4249" stop-color="#f9c72f"/><stop offset="0.5000" stop-color="#fca60c"/><stop offset="0.5751" stop-color="#f68013"/><stop offset="0.6484" stop-color="#e45a31"/><stop offset="0.7180" stop-color="#c43c4e"/><stop offset="0.7823" stop-color="#982766"/><stop offset="0.8396" stop-color="#6f196e"/><stop offset="0.8885" stop-color="#470b6a"/><stop offset="0.9279" stop-color="#240c4f"/><stop offset="0.9568" stop-color="#0d0829"/><stop offset="0.9743" stop-color="#010106"/><stop offset="0.9803" stop-color="#000004"/></linearGradient><linearGradient id="g94" gradientUnits="userSpaceOnUse" x1="432.9" x2="723.1" y1="0" y2="0"><stop offset="0.0218" stop-color="#f4df53"/><stop offset="0.0277" stop-color="#f2e661"/><stop offset="0.0452" stop-color="#f1ec6d"/><stop offset="0.0739" stop-color="#f2f27d"/><stop offset="0.1131" stop-color="#f3f68a"/><stop offset="0.1618" stop-color="#f6fa96"/><stop offset="0.2189" stop-color="#f6fa96"/><stop offset="0.2829" stop-color="#f3f586"/><stop offset="0.3522" stop-color="#f3e55d"/><stop offset="0.4252" stop-color="#f9c72f"/><stop offset="0.5000" stop-color="#fca50a"/><stop offset="0.5748" stop-color="#f68013"/><stop offset="0.6478" stop-color="#e45a31"/><stop offset="0.7171" stop-color="#c43c4e"/><stop offset="0.7811" stop-color="#982766"/><stop offset="0.8382" stop-color="#6f196e"/><stop offset="0.8869" stop-color="#470b6a"/><stop offset="0.9261" stop-color="#260c51"/><stop offset="0.9548" stop-color="#0e092b"/><stop offset="0.9723" stop-color="#010108"/><stop offset="0.9782" stop-color="#000004"/></linearGradient><linearGradient id="g95" gradientUnits="userSpaceOnUse" x1="432.9" x2="723.1" y1="0" y2="0"><stop offset="0.0239" stop-color="#f4df53"/><stop offset="0.0298" stop-color="#f3e55d"/><stop offset="0.0472" stop-color="#f1ec6d"/><stop offset="0.0758" stop-color="#f1f179"/><stop offset="0.1148" stop-color="#f3f68a"/><stop offset="0.1634" stop-color="#f6fa96"/><stop offset="0.2202" stop-color="#f6fa96"/><stop offset="0.2839" stop-color="#f2f482"/><stop offset="0.3529" stop-color="#f3e55d"/><stop offset="0.4255" stop-color="#fac62d"/><stop offset="0.5000" stop-color="#fca50a"/><stop offset="0.5745" stop-color="#f68013"/><stop offset="0.6471" stop-color="#e45a31"/><stop offset="0.7161" stop-color="#c43c4e"/><stop offset="0.7798" stop-color="#9a2865"/><stop offset="0.8366" stop-color="#6f196e"/><stop offset="0.8852" stop-color="#490b6a"/><stop offset="0.9242" stop-color="#260c51"/><stop offset="0.9528" stop-color="#0e092b"/><stop offset="0.9702" stop-color="#010108"/><stop offset="0.9761" stop-color="#000004"/></linearGradient><linearGradient id="g96" gradientUnits="userSpaceOnUse" x1="432.9" x2="723.1" y1="0" y2="0"><stop offset="0.0262" stop-color="#f4df53"/><stop offset="0.0320" stop-color="#f3e55d"/><stop offset="0.0493" stop-color="#f2ea69"/><stop offset="0.0778" stop-color="#f1f179"/><stop offset="0.1167" stop-color="#f3f586"/><stop offset="0.1649" stop-color="#f5f992"/><stop offset="0.2215" stop-color="#f5f992"/><stop offset="0.2849" stop-color="#f2f482"/><stop offset="0.3536" stop-color="#f3e55d"/><stop offset="0.4259" stop-color="#fac62d"/><stop offset="0.5000" stop-color="#fca50a"/><stop offset="0.5741" stop-color="#f68013"/><stop offset="0.6464" stop-color="#e45a31"/><stop offset="0.7151" stop-color="#c43c4e"/><stop offset="0.7785" stop-color="#9a2865"/><stop offset="0.8351" stop-color="#71196e"/><stop offset="0.8833" stop-color="#490b6a"/><stop offset="0.9222" stop-color="#280b53"/><stop offset="0.9507" stop-color="#10092d"/><stop offset="0.9680" stop-color="#02010a"/><stop offset="0.9738" stop-color="#000004"/></linearGradient><linearGradient id="g97" gradientUnits="userSpaceOnUse" x1="432.9" x2="723.1" y1="0" y2="0"><stop offset="0.0285" stop-color="#f4dd4f"/><stop offset="0.0343" stop-color="#f3e55d"/><stop offset="0.0516" stop-color="#f2ea69"/><stop offset="0.0799" stop-color="#f1f179"/><stop offset="0.1186" stop-color="#f3f586"/><stop offset="0.1666" stop-color="#f5f992"/><stop offset="0.2229" stop-color="#f5f992"/><stop offset="0.2860" stop-color="#f2f482"/><stop offset="0.3543" stop-color="#f3e35a"/><stop offset="0.4262" stop-color="#fac62d"/><stop offset="0.5000" stop-color="#fca50a"/><stop offset="0.5738" stop-color="#f67e14"/><stop offset="0.6457" stop-color="#e45a31"/><stop offset="0.7140" stop-color="#c43c4e"/><stop offset="0.7771" stop-color="#9a2865"/><stop offset="0.8334" stop-color="#71196e"/><stop offset="0.8814" stop-color="#4a0c6b"/><stop offset="0.9201" stop-color="#280b53"/><stop offset="0.9484" stop-color="#110a30"/><stop offset="0.9657" stop-color="#02020c"/><stop offset="0.9715" stop-color="#000004"/></linearGradient><linearGradient id="g98" gradientUnits="userSpaceOnUse" x1="432.9" x2="723.1" y1="0" y2="0"><stop offset="0.0310" stop-color="#f4dd4f"/><stop offset="0.0368" stop-color="#f3e35a"/><stop offset="0.0539" stop-color="#f2e865"/><stop offset="0.0821" stop-color="#f1ef75"/><stop offset="0.1206" stop-color="#f3f586"/><stop offset="0.1684" stop-color="#f4f88e"/><stop offset="0.2243" stop-color="#f4f88e"/><stop offset="0.2871" stop-color="#f2f27d"/><stop offset="0.3551" stop-color="#f3e35a"/><stop offset="0.4266" stop-color="#fac42a"/><stop offset="0.5000" stop-color="#fca309"/><stop offset="0.5734" stop-color="#f67e14"/><stop offset="0.6449" stop-color="#e45a31"/><stop offset="0.7129" stop-color="#c43c4e"/><stop offset="0.7757" stop-color="#9a2865"/><stop offset="0.8316" stop-color="#71196e"/><stop offset="0.8794" stop-color="#4a0c6b"/><stop offset="0.9179" stop-color="#290b55"/><stop offset="0.9461" stop-color="#110a30"/><stop offset="0.9632" stop-color="#02020c"/><stop offset="0.9690" stop-color="#000004"/></linearGradient><linearGradient id="g99" gradientUnits="userSpaceOnUse" x1="432.9" x2="723.1" y1="0" y2="0"><stop offset="0.0336" stop-color="#f4dd4f"/><stop offset="0.0393" stop-color="#f3e35a"/><stop offset="0.0564" stop-color="#f2e865"/><stop offset="0.0844" stop-color="#f1ef75"/><stop offset="0.1226" stop-color="#f2f482"/><stop offset="0.1702" stop-color="#f4f88e"/><stop offset="0.2258" stop-color="#f4f88e"/><stop offset="0.2882" stop-color="#f2f27d"/><stop offset="0.3559" stop-color="#f3e35a"/><stop offset="0.4270" stop-color="#fac42a"/><stop offset="0.5000" stop-color="#fca309"/><stop offset="0.5730" stop-color="#f67e14"/><stop offset="0.6441" stop-color="#e45a31"/><stop offset="0.7118" stop-color="#c43c4e"/><stop offset="0.7742" stop-color="#9b2964"/><stop offset="0.8298" stop-color="#721a6e"/><stop offset="0.8774" stop-color="#4c0c6b"/><stop offset="0.9156" stop-color="#2b0b57"/><stop offset="0.9436" stop-color="#120a32"/><stop offset="0.9607" stop-color="#02020e"/><stop offset="0.9664" stop-color="#000004"/></linearGradient><linearGradient id="g100" gradientUnits="userSpaceOnUse" x1="432.9" x2="723.1" y1="0" y2="0"><stop offset="0.0363" stop-color="#f5db4c"/><stop offset="0.0420" stop-color="#f4e156"/><stop offset="0.0590" stop-color="#f2e865"/><stop offset="0.0868" stop-color="#f1ed71"/><stop offset="0.1248" stop-color="#f2f482"/><stop offset="0.1721" stop-color="#f3f68a"/><stop offset="0.2274" stop-color="#f3f68a"/><stop offset="0.2895" stop-color="#f1f179"/><stop offset="0.3567" stop-color="#f4e156"/><stop offset="0.4275" stop-color="#fac42a"/><stop offset="0.5000" stop-color="#fca309"/><stop offset="0.5725" stop-color="#f67e14"/><stop offset="0.6433" stop-color="#e45a31"/><stop offset="0.7105" stop-color="#c43c4e"/><stop offset="0.7726" stop-color="#9b2964"/><stop offset="0.8279" stop-color="#721a6e"/><stop offset="0.8752" stop-color="#4c0c6b"/><stop offset="0.9132" stop-color="#2b0b57"/><stop offset="0.9410" stop-color="#140b34"/><stop offset="0.9580" stop-color="#030210"/><stop offset="0.9637" stop-color="#000004"/></linearGradient><linearGradient id="g101" gradientUnits="userSpaceOnUse" x1="432.9" x2="723.1" y1="0" y2="0"><stop offset="0.0391" stop-color="#f5db4c"/><stop offset="0.0448" stop-color="#f4e156"/><stop offset="0.0616" stop-color="#f2e661"/><stop offset="0.0893" stop-color="#f1ed71"/><stop offset="0.1271" stop-color="#f2f27d"/><stop offset="0.1741" stop-color="#f3f68a"/><stop offset="0.2291" stop-color="#f3f68a"/><stop offset="0.2907" stop-color="#f1f179"/><stop offset="0.3576" stop-color="#f4e156"/><stop offset="0.4279" stop-color="#fac228"/><stop offset="0.5000" stop-color="#fca309"/><stop offset="0.5721" stop-color="#f67e14"/><stop offset="0.6424" stop-color="#e45a31"/><stop offset="0.7093" stop-color="#c63d4d"/><stop offset="0.7709" stop-color="#9b2964"/><stop offset="0.8259" stop-color="#721a6e"/><stop offset="0.8729" stop-color="#4d0d6c"/><stop offset="0.9107" stop-color="#2d0b59"/><stop offset="0.9384" stop-color="#150b37"/><stop offset="0.9552" stop-color="#040312"/><stop offset="0.9609" stop-color="#000004"/></linearGradient><linearGradient id="g102" gradientUnits="userSpaceOnUse" x1="432.9" x2="723.1" y1="0" y2="0"><stop offset="0.0420" stop-color="#f5d949"/><stop offset="0.0477" stop-color="#f4df53"/><stop offset="0.0644" stop-color="#f2e661"/><stop offset="0.0919" stop-color="#f1ec6d"/><stop offset="0.1295" stop-color="#f2f27d"/><stop offset="0.1762" stop-color="#f3f586"/><stop offset="0.2308" stop-color="#f3f586"/><stop offset="0.2921" stop-color="#f1ef75"/><stop offset="0.3585" stop-color="#f4df53"/><stop offset="0.4284" stop-color="#fac228"/><stop offset="0.5000" stop-color="#fca108"/><stop offset="0.5716" stop-color="#f67e14"/><stop offset="0.6415" stop-color="#e45a31"/><stop offset="0.7079" stop-color="#c63d4d"/><stop offset="0.7692" stop-color="#9b2964"/><stop offset="0.8238" stop-color="#741a6e"/><stop offset="0.8705" stop-color="#4d0d6c"/><stop offset="0.9081" stop-color="#2f0a5b"/><stop offset="0.9356" stop-color="#150b37"/><stop offset="0.9523" stop-color="#040314"/><stop offset="0.9580" stop-color="#000004"/></linearGradient><linearGradient id="g103" gradientUnits="userSpaceOnUse" x1="432.9" x2="723.1" y1="0" y2="0"><stop offset="0.0451" stop-color="#f5d949"/><stop offset="0.0507" stop-color="#f4df53"/><stop offset="0.0673" stop-color="#f3e55d"/><stop offset="0.0947" stop-color="#f1ec6d"/><stop offset="0.1320" stop-color="#f1f179"/><stop offset="0.1783" stop-color="#f3f586"/><stop offset="0.2326" stop-color="#f3f586"/><stop offset="0.2935" stop-color="#f1ef75"/><stop offset="0.3594" stop-color="#f4df53"/><stop offset="0.4288" stop-color="#fac228"/><stop offset="0.5000" stop-color="#fca108"/><stop offset="0.5712" stop-color="#f57d15"/><stop offset="0.6406" stop-color="#e45a31"/><stop offset="0.7065" stop-color="#c63d4d"/><stop offset="0.7674" stop-color="#9d2964"/><stop offset="0.8217" stop-color="#741a6e"/><stop offset="0.8680" stop-color="#4f0d6c"/><stop offset="0.9053" stop-color="#2f0a5b"/><stop offset="0.9327" stop-color="#160b39"/><stop offset="0.9493" stop-color="#050417"/><stop offset="0.9549" stop-color="#000004"/></linearGradient><linearGradient id="g104" gradientUnits="userSpaceOnUse" x1="432.9" x2="723.1" y1="0" y2="0"><stop offset="0.0482" stop-color="#f6d746"/><stop offset="0.0538" stop-color="#f4dd4f"/><stop offset="0.0704" stop-color="#f3e55d"/><stop offset="0.0975" stop-color="#f2ea69"/><stop offset="0.1345" stop-color="#f1f179"/><stop offset="0.1806" stop-color="#f2f482"/><stop offset="0.2345" stop-color="#f2f482"/><stop offset="0.2949" stop-color="#f1ed71"/><stop offset="0.3604" stop-color="#f4dd4f"/><stop offset="0.4293" stop-color="#fac026"/><stop offset="0.5000" stop-color="#fca108"/><stop offset="0.5707" stop-color="#f57d15"/><stop offset="0.6396" stop-color="#e45a31"/><stop offset="0.7051" stop-color="#c63d4d"/><stop offset="0.7655" stop-color="#9d2964"/><stop offset="0.8194" stop-color="#751b6e"/><stop offset="0.8655" stop-color="#510e6c"/><stop offset="0.9025" stop-color="#310a5c"/><stop offset="0.9296" stop-color="#180c3c"/><stop offset="0.9462" stop-color="#060419"/><stop offset="0.9518" stop-color="#000004"/></linearGradient><linearGradient id="g105" gradientUnits="userSpaceOnUse" x1="432.9" x2="723.1" y1="0" y2="0"><stop offset="0.0516" stop-color="#f6d746"/><stop offset="0.0571" stop-color="#f4dd4f"/><stop offset="0.0735" stop-color="#f3e35a"/><stop offset="0.1004" stop-color="#f2ea69"/><stop offset="0.1372" stop-color="#f1ef75"/><stop offset="0.1829" stop-color="#f2f482"/><stop offset="0.2364" stop-color="#f2f482"/><stop offset="0.2964" stop-color="#f1ed71"/><stop offset="0.3614" stop-color="#f4dd4f"/><stop offset="0.4298" stop-color="#fac026"/><stop offset="0.5000" stop-color="#fc9f07"/><stop offset="0.5702" stop-color="#f57d15"/><stop offset="0.6386" stop-color="#e45a31"/><stop offset="0.7036" stop-color="#c63d4d"/><stop offset="0.7636" stop-color="#9d2964"/><stop offset="0.8171" stop-color="#751b6e"/><stop offset="0.8628" stop-color="#510e6c"/><stop offset="0.8996" stop-color="#320a5e"/><stop offset="0.9265" stop-color="#190c3e"/><stop offset="0.9429" stop-color="#07051b"/><stop offset="0.9484" stop-color="#000004"/></linearGradient><linearGradient id="g106" gradientUnits="userSpaceOnUse" x1="432.9" x2="723.1" y1="0" y2="0"><stop offset="0.0550" stop-color="#f6d543"/><stop offset="0.0605" stop-color="#f5db4c"/><stop offset="0.0768" stop-color="#f3e35a"/><stop offset="0.1035" stop-color="#f2e865"/><stop offset="0.1400" stop-color="#f1ed71"/><stop offset="0.1853" stop-color="#f2f27d"/><stop offset="0.2384" stop-color="#f2f27d"/><stop offset="0.2980" stop-color="#f1ec6d"/><stop offset="0.3625" stop-color="#f5db4c"/><stop offset="0.4304" stop-color="#fbbe23"/><stop offset="0.5000" stop-color="#fc9f07"/><stop offset="0.5696" stop-color="#f57d15"/><stop offset="0.6375" stop-color="#e45a31"/><stop offset="0.7020" stop-color="#c63d4d"/><stop offset="0.7616" stop-color="#9f2a63"/><stop offset="0.8147" stop-color="#771c6d"/><stop offset="0.8600" stop-color="#520e6d"/><stop offset="0.8965" stop-color="#340a5f"/><stop offset="0.9232" stop-color="#1b0c41"/><stop offset="0.9395" stop-color="#08051d"/><stop offset="0.9450" stop-color="#000004"/></linearGradient><linearGradient id="g107" gradientUnits="userSpaceOnUse" x1="432.9" x2="723.1" y1="0" y2="0"><stop offset="0.0586" stop-color="#f6d543"/><stop offset="0.0640" stop-color="#f5db4c"/><stop offset="0.0802" stop-color="#f4e156"/><stop offset="0.1067" stop-color="#f2e865"/><stop offset="0.1429" stop-color="#f1ed71"/><stop offset="0.1879" stop-color="#f1f179"/><stop offset="0.2405" stop-color="#f1f179"/><stop offset="0.2996" stop-color="#f2ea69"/><stop offset="0.3636" stop-color="#f5db4c"/><stop offset="0.4309" stop-color="#fbbe23"/><stop offset="0.5000" stop-color="#fc9f07"/><stop offset="0.5691" stop-color="#f57d15"/><stop offset="0.6364" stop-color="#e35933"/><stop offset="0.7004" stop-color="#c63d4d"/><stop offset="0.7595" stop-color="#9f2a63"/><stop offset="0.8121" stop-color="#771c6d"/><stop offset="0.8571" stop-color="#540f6d"/><stop offset="0.8933" stop-color="#360961"/><stop offset="0.9198" stop-color="#1c0c43"/><stop offset="0.9360" stop-color="#09061f"/><stop offset="0.9414" stop-color="#000004"/></linearGradient><linearGradient id="g108" gradientUnits="userSpaceOnUse" x1="432.9" x2="723.1" y1="0" y2="0"><stop offset="0.0623" stop-color="#f7d340"/><stop offset="0.0676" stop-color="#f5d949"/><stop offset="0.0837" stop-color="#f4df53"/><stop offset="0.1100" stop-color="#f2e661"/><stop offset="0.1459" stop-color="#f1ec6d"/><stop offset="0.1905" stop-color="#f1f179"/><stop offset="0.2427" stop-color="#f1f179"/><stop offset="0.3013" stop-color="#f2ea69"/><stop offset="0.3647" stop-color="#f5d949"/><stop offset="0.4315" stop-color="#fbbe23"/><stop offset="0.5000" stop-color="#fb9d07"/><stop offset="0.5685" stop-color="#f57b17"/><stop offset="0.6353" stop-color="#e35933"/><stop offset="0.6987" stop-color="#c63d4d"/><stop offset="0.7573" stop-color="#9f2a63"/><stop offset="0.8095" stop-color="#781c6d"/><stop offset="0.8541" stop-color="#540f6d"/><stop offset="0.8900" stop-color="#380962"/><stop offset="0.9163" stop-color="#1e0c45"/><stop offset="0.9324" stop-color="#0a0722"/><stop offset="0.9377" stop-color="#000004"/></linearGradient><linearGradient id="g109" gradientUnits="userSpaceOnUse" x1="432.9" x2="723.1" y1="0" y2="0"><stop offset="0.0661" stop-color="#f7d340"/><stop offset="0.0714" stop-color="#f5d949"/><stop offset="0.0873" stop-color="#f4df53"/><stop offset="0.1134" stop-color="#f3e55d"/><stop offset="0.1490" stop-color="#f2ea69"/><stop offset="0.1932" stop-color="#f1ef75"/><stop offset="0.2450" stop-color="#f1ef75"/><stop offset="0.3030" stop-color="#f2e865"/><stop offset="0.3659" stop-color="#f6d746"/><stop offset="0.4321" stop-color="#fbbc21"/><stop offset="0.5000" stop-color="#fb9d07"/><stop offset="0.5679" stop-color="#f57b17"/><stop offset="0.6341" stop-color="#e35933"/><stop offset="0.6970" stop-color="#c73e4c"/><stop offset="0.7550" stop-color="#a02a63"/><stop offset="0.8068" stop-color="#7a1d6d"/><stop offset="0.8510" stop-color="#550f6d"/><stop offset="0.8866" stop-color="#380962"/><stop offset="0.9127" stop-color="#1f0c48"/><stop offset="0.9286" stop-color="#0b0724"/><stop offset="0.9339" stop-color="#010106"/></linearGradient><linearGradient id="g110" gradientUnits="userSpaceOnUse" x1="432.9" x2="723.1" y1="0" y2="0"><stop offset="0.0701" stop-color="#f7d13d"/><stop offset="0.0754" stop-color="#f6d746"/><stop offset="0.0911" stop-color="#f4dd4f"/><stop offset="0.1169" stop-color="#f3e55d"/><stop offset="0.1522" stop-color="#f2ea69"/><stop offset="0.1960" stop-color="#f1ed71"/><stop offset="0.2473" stop-color="#f1ed71"/><stop offset="0.3048" stop-color="#f2e661"/><stop offset="0.3672" stop-color="#f6d746"/><stop offset="0.4327" stop-color="#fbbc21"/><stop offset="0.5000" stop-color="#fb9d07"/><stop offset="0.5673" stop-color="#f57b17"/><stop offset="0.6328" stop-color="#e35933"/><stop offset="0.6952" stop-color="#c73e4c"/><stop offset="0.7527" stop-color="#a02a63"/><stop offset="0.8040" stop-color="#7a1d6d"/><stop offset="0.8478" stop-color="#57106e"/><stop offset="0.8831" stop-color="#390963"/><stop offset="0.9089" stop-color="#210c4a"/><stop offset="0.9246" stop-color="#0d0829"/><stop offset="0.9299" stop-color="#010108"/></linearGradient><linearGradient id="g111" gradientUnits="userSpaceOnUse" x1="432.9" x2="723.1" y1="0" y2="0"><stop offset="0.0742" stop-color="#f8cf3a"/><stop offset="0.0795" stop-color="#f6d543"/><stop offset="0.0951" stop-color="#f5db4c"/><stop offset="0.1206" stop-color="#f3e35a"/><stop offset="0.1555" stop-color="#f2e865"/><stop offset="0.1989" stop-color="#f1ed71"/><stop offset="0.2497" stop-color="#f1ed71"/><stop offset="0.3067" stop-color="#f2e661"/><stop offset="0.3684" stop-color="#f6d543"/><stop offset="0.4334" stop-color="#fbba1f"/><stop offset="0.5000" stop-color="#fb9b06"/><stop offset="0.5666" stop-color="#f57b17"/><stop offset="0.6316" stop-color="#e35933"/><stop offset="0.6933" stop-color="#c73e4c"/><stop offset="0.7503" stop-color="#a02a63"/><stop offset="0.8011" stop-color="#7c1d6d"/><stop offset="0.8445" stop-color="#59106e"/><stop offset="0.8794" stop-color="#3b0964"/><stop offset="0.9049" stop-color="#230c4c"/><stop offset="0.9205" stop-color="#0e092b"/><stop offset="0.9258" stop-color="#02010a"/></linearGradient><linearGradient id="g112" gradientUnits="userSpaceOnUse" x1="432.9" x2="723.1" y1="0" y2="0"><stop offset="0.0785" stop-color="#f8cf3a"/><stop offset="0.0837" stop-color="#f6d543"/><stop offset="0.0991" stop-color="#f5db4c"/><stop offset="0.1244" stop-color="#f4e156"/><stop offset="0.1590" stop-color="#f2e661"/><stop offset="0.2020" stop-color="#f1ec6d"/><stop offset="0.2523" stop-color="#f1ec6d"/><stop offset="0.3086" stop-color="#f3e55d"/><stop offset="0.3698" stop-color="#f6d543"/><stop offset="0.4341" stop-color="#fbb81d"/><stop offset="0.5000" stop-color="#fb9b06"/><stop offset="0.5659" stop-color="#f47918"/><stop offset="0.6302" stop-color="#e35933"/><stop offset="0.6914" stop-color="#c73e4c"/><stop offset="0.7477" stop-color="#a22b62"/><stop offset="0.7980" stop-color="#7c1d6d"/><stop offset="0.8410" stop-color="#5a116e"/><stop offset="0.8756" stop-color="#3d0965"/><stop offset="0.9009" stop-color="#240c4f"/><stop offset="0.9163" stop-color="#10092d"/><stop offset="0.9215" stop-color="#02020e"/></linearGradient><linearGradient id="g113" gradientUnits="userSpaceOnUse" x1="432.9" x2="723.1" y1="0" y2="0"><stop offset="0.0829" stop-color="#f8cd37"/><stop offset="0.0881" stop-color="#f7d340"/><stop offset="0.1034" stop-color="#f5d949"/><stop offset="0.1284" stop-color="#f4df53"/><stop offset="0.1626" stop-color="#f3e55d"/><stop offset="0.2051" stop-color="#f2ea69"/><stop offset="0.2549" stop-color="#f2ea69"/><stop offset="0.3107" stop-color="#f3e35a"/><stop offset="0.3711" stop-color="#f7d340"/><stop offset="0.4348" stop-color="#fbb81d"/><stop offset="0.5000" stop-color="#fb9906"/><stop offset="0.5652" stop-color="#f47918"/><stop offset="0.6289" stop-color="#e35933"/><stop offset="0.6893" stop-color="#c73e4c"/><stop offset="0.7451" stop-color="#a22b62"/><stop offset="0.7949" stop-color="#7d1e6d"/><stop offset="0.8374" stop-color="#5c126e"/><stop offset="0.8716" stop-color="#400a67"/><stop offset="0.8966" stop-color="#280b53"/><stop offset="0.9119" stop-color="#110a30"/><stop offset="0.9171" stop-color="#030210"/></linearGradient><linearGradient id="g114" gradientUnits="userSpaceOnUse" x1="432.9" x2="723.1" y1="0" y2="0"><stop offset="0.0875" stop-color="#f9cb35"/><stop offset="0.0926" stop-color="#f7d13d"/><stop offset="0.1077" stop-color="#f6d746"/><stop offset="0.1325" stop-color="#f4df53"/><stop offset="0.1663" stop-color="#f3e55d"/><stop offset="0.2084" stop-color="#f2e865"/><stop offset="0.2576" stop-color="#f2e865"/><stop offset="0.3128" stop-color="#f4e156"/><stop offset="0.3725" stop-color="#f7d13d"/><stop offset="0.4355" stop-color="#fbb61a"/><stop offset="0.5000" stop-color="#fb9906"/><stop offset="0.5645" stop-color="#f47918"/><stop offset="0.6275" stop-color="#e35933"/><stop offset="0.6872" stop-color="#c73e4c"/><stop offset="0.7424" stop-color="#a32c61"/><stop offset="0.7916" stop-color="#7f1e6c"/><stop offset="0.8337" stop-color="#5c126e"/><stop offset="0.8675" stop-color="#420a68"/><stop offset="0.8923" stop-color="#290b55"/><stop offset="0.9074" stop-color="#140b34"/><stop offset="0.9125" stop-color="#040314"/></linearGradient><linearGradient id="g115" gradientUnits="userSpaceOnUse" x1="432.9" x2="723.1" y1="0" y2="0"><stop offset="0.0923" stop-color="#f9cb35"/><stop offset="0.0973" stop-color="#f7d13d"/><stop offset="0.1123" stop-color="#f6d543"/><stop offset="0.1368" stop-color="#f4dd4f"/><stop offset="0.1702" stop-color="#f3e35a"/><stop offset="0.2117" stop-color="#f2e661"/><stop offset="0.2604" stop-color="#f2e661"/><stop offset="0.3149" stop-color="#f4e156"/><stop offset="0.3740" stop-color="#f8cf3a"/><stop offset="0.4362" stop-color="#fbb61a"/><stop offset="0.5000" stop-color="#fb9906"/><stop offset="0.5638" stop-color="#f47918"/><stop offset="0.6260" stop-color="#e35933"/><stop offset="0.6851" stop-color="#c73e4c"/><stop offset="0.7396" stop-color="#a32c61"/><stop offset="0.7883" stop-color="#7f1e6c"/><stop offset="0.8298" stop-color="#5d126e"/><stop offset="0.8632" stop-color="#440a68"/><stop offset="0.8877" stop-color="#2b0b57"/><stop offset="0.9027" stop-color="#150b37"/><stop offset="0.9077" stop-color="#060419"/></linearGradient><linearGradient id="g116" gradientUnits="userSpaceOnUse" x1="432.9" x2="723.1" y1="0" y2="0"><stop offset="0.0973" stop-color="#f9c932"/><stop offset="0.1022" stop-color="#f8cf3a"/><stop offset="0.1170" stop-color="#f6d543"/><stop offset="0.1412" stop-color="#f5db4c"/><stop offset="0.1742" stop-color="#f4e156"/><stop offset="0.2152" stop-color="#f3e55d"/><stop offset="0.2633" stop-color="#f3e55d"/><stop offset="0.3172" stop-color="#f4df53"/><stop offset="0.3755" stop-color="#f8cf3a"/><stop offset="0.4370" stop-color="#fcb418"/><stop offset="0.5000" stop-color="#fb9706"/><stop offset="0.5630" stop-color="#f37819"/><stop offset="0.6245" stop-color="#e35933"/><stop offset="0.6828" stop-color="#c83f4b"/><stop offset="0.7367" stop-color="#a52c60"/><stop offset="0.7848" stop-color="#801f6c"/><stop offset="0.8258" stop-color="#5f136e"/><stop offset="0.8588" stop-color="#450a69"/><stop offset="0.8830" stop-color="#2f0a5b"/><stop offset="0.8978" stop-color="#180c3c"/><stop offset="0.9027" stop-color="#07051b"/></linearGradient><linearGradient id="g117" gradientUnits="userSpaceOnUse" x1="432.9" x2="723.1" y1="0" y2="0"><stop offset="0.1024" stop-color="#f9c72f"/><stop offset="0.1073" stop-color="#f8cd37"/><stop offset="0.1218" stop-color="#f7d340"/><stop offset="0.1457" stop-color="#f5d949"/><stop offset="0.1783" stop-color="#f4df53"/><stop offset="0.2188" stop-color="#f3e35a"/><stop offset="0.2663" stop-color="#f3e35a"/><stop offset="0.3195" stop-color="#f4dd4f"/><stop offset="0.3771" stop-color="#f8cd37"/><stop offset="0.4378" stop-color="#fcb216"/><stop offset="0.5000" stop-color="#fb9706"/><stop offset="0.5622" stop-color="#f37819"/><stop offset="0.6229" stop-color="#e35933"/><stop offset="0.6805" stop-color="#c83f4b"/><stop offset="0.7337" stop-color="#a52c60"/><stop offset="0.7812" stop-color="#82206c"/><stop offset="0.8217" stop-color="#61136e"/><stop offset="0.8543" stop-color="#470b6a"/><stop offset="0.8782" stop-color="#310a5c"/><stop offset="0.8927" stop-color="#190c3e"/><stop offset="0.8976" stop-color="#09061f"/></linearGradient><linearGradient id="g118" gradientUnits="userSpaceOnUse" x1="432.9" x2="723.1" y1="0" y2="0"><stop offset="0.1077" stop-color="#fac62d"/><stop offset="0.1125" stop-color="#f9cb35"/><stop offset="0.1269" stop-color="#f7d13d"/><stop offset="0.1504" stop-color="#f6d746"/><stop offset="0.1826" stop-color="#f4dd4f"/><stop offset="0.2226" stop-color="#f4e156"/><stop offset="0.2694" stop-color="#f4e156"/><stop offset="0.3219" stop-color="#f5db4c"/><stop offset="0.3788" stop-color="#f9cb35"/><stop offset="0.4386" stop-color="#fcb216"/><stop offset="0.5000" stop-color="#fb9606"/><stop offset="0.5614" stop-color="#f37819"/><stop offset="0.6212" stop-color="#e35933"/><stop offset="0.6781" stop-color="#c83f4b"/><stop offset="0.7306" stop-color="#a62d60"/><stop offset="0.7774" stop-color="#84206b"/><stop offset="0.8174" stop-color="#64156e"/><stop offset="0.8496" stop-color="#4a0c6b"/><stop offset="0.8731" stop-color="#320a5e"/><stop offset="0.8875" stop-color="#1c0c43"/><stop offset="0.8923" stop-color="#0b0724"/></linearGradient><linearGradient id="g119" gradientUnits="userSpaceOnUse" x1="432.9" x2="723.1" y1="0" y2="0"><stop offset="0.1132" stop-color="#fac62d"/><stop offset="0.1179" stop-color="#f9c932"/><stop offset="0.1321" stop-color="#f8cf3a"/><stop offset="0.1553" stop-color="#f6d543"/><stop offset="0.1871" stop-color="#f5db4c"/><stop offset="0.2265" stop-color="#f4df53"/><stop offset="0.2726" stop-color="#f4df53"/><stop offset="0.3244" stop-color="#f5d949"/><stop offset="0.3805" stop-color="#f9c932"/><stop offset="0.4395" stop-color="#fcb014"/><stop offset="0.5000" stop-color="#fa9407"/><stop offset="0.5605" stop-color="#f3761b"/><stop offset="0.6195" stop-color="#e35933"/><stop offset="0.6756" stop-color="#c83f4b"/><stop offset="0.7274" stop-color="#a62d60"/><stop offset="0.7735" stop-color="#85216b"/><stop offset="0.8129" stop-color="#65156e"/><stop offset="0.8447" stop-color="#4c0c6b"/><stop offset="0.8679" stop-color="#360961"/><stop offset="0.8821" stop-color="#1f0c48"/><stop offset="0.8868" stop-color="#0d0829"/></linearGradient><linearGradient id="g120" gradientUnits="userSpaceOnUse" x1="432.9" x2="723.1" y1="0" y2="0"><stop offset="0.1189" stop-color="#fac42a"/><stop offset="0.1236" stop-color="#f9c72f"/><stop offset="0.1375" stop-color="#f8cd37"/><stop offset="0.1604" stop-color="#f7d340"/><stop offset="0.1917" stop-color="#f5d949"/><stop offset="0.2305" stop-color="#f4dd4f"/><stop offset="0.2760" stop-color="#f4dd4f"/><stop offset="0.3270" stop-color="#f6d746"/><stop offset="0.3822" stop-color="#f9c72f"/><stop offset="0.4404" stop-color="#fcae12"/><stop offset="0.5000" stop-color="#fa9407"/><stop offset="0.5596" stop-color="#f3761b"/><stop offset="0.6178" stop-color="#e25734"/><stop offset="0.6730" stop-color="#c83f4b"/><stop offset="0.7240" stop-color="#a82e5f"/><stop offset="0.7695" stop-color="#85216b"/><stop offset="0.8083" stop-color="#67166e"/><stop offset="0.8396" stop-color="#4d0d6c"/><stop offset="0.8625" stop-color="#390963"/><stop offset="0.8764" stop-color="#230c4c"/><stop offset="0.8811" stop-color="#10092d"/></linearGradient><linearGradient id="g121" gradientUnits="userSpaceOnUse" x1="432.9" x2="723.1" y1="0" y2="0"><stop offset="0.1248" stop-color="#fac228"/><stop offset="0.1294" stop-color="#fac62d"/><stop offset="0.1432" stop-color="#f9cb35"/><stop offset="0.1657" stop-color="#f7d13d"/><stop offset="0.1965" stop-color="#f6d746"/><stop offset="0.2347" stop-color="#f5db4c"/><stop offset="0.2795" stop-color="#f5db4c"/><stop offset="0.3297" stop-color="#f6d543"/><stop offset="0.3841" stop-color="#fac62d"/><stop offset="0.4413" stop-color="#fcac11"/><stop offset="0.5000" stop-color="#fa9207"/><stop offset="0.5587" stop-color="#f3761b"/><stop offset="0.6159" stop-color="#e25734"/><stop offset="0.6703" stop-color="#ca404a"/><stop offset="0.7205" stop-color="#a82e5f"/><stop offset="0.7653" stop-color="#87216b"/><stop offset="0.8035" stop-color="#69166e"/><stop offset="0.8343" stop-color="#510e6c"/><stop offset="0.8568" stop-color="#3b0964"/><stop offset="0.8706" stop-color="#240c4f"/><stop offset="0.8752" stop-color="#120a32"/></linearGradient><linearGradient id="g122" gradientUnits="userSpaceOnUse" x1="432.9" x2="723.1" y1="0" y2="0"><stop offset="0.1309" stop-color="#fac026"/><stop offset="0.1355" stop-color="#fac42a"/><stop offset="0.1490" stop-color="#f9c932"/><stop offset="0.1712" stop-color="#f8cf3a"/><stop offset="0.2014" stop-color="#f6d543"/><stop offset="0.2390" stop-color="#f5d949"/><stop offset="0.2831" stop-color="#f5d949"/><stop offset="0.3324" stop-color="#f7d340"/><stop offset="0.3860" stop-color="#fac42a"/><stop offset="0.4423" stop-color="#fcac11"/><stop offset="0.5000" stop-color="#fa9207"/><stop offset="0.5577" stop-color="#f2741c"/><stop offset="0.6140" stop-color="#e25734"/><stop offset="0.6676" stop-color="#ca404a"/><stop offset="0.7169" stop-color="#a92e5e"/><stop offset="0.7610" stop-color="#88226a"/><stop offset="0.7986" stop-color="#6a176e"/><stop offset="0.8288" stop-color="#520e6d"/><stop offset="0.8510" stop-color="#3e0966"/><stop offset="0.8645" stop-color="#280b53"/><stop offset="0.8691" stop-color="#150b37"/></linearGradient><linearGradient id="g123" gradientUnits="userSpaceOnUse" x1="432.9" x2="723.1" y1="0" y2="0"><stop offset="0.1373" stop-color="#fbbe23"/><stop offset="0.1418" stop-color="#fac228"/><stop offset="0.1550" stop-color="#f9c72f"/><stop offset="0.1768" stop-color="#f8cd37"/><stop offset="0.2066" stop-color="#f7d340"/><stop offset="0.2435" stop-color="#f6d746"/><stop offset="0.2868" stop-color="#f6d746"/><stop offset="0.3353" stop-color="#f7d13d"/><stop offset="0.3879" stop-color="#fac228"/><stop offset="0.4433" stop-color="#fcaa0f"/><stop offset="0.5000" stop-color="#fa9008"/><stop offset="0.5567" stop-color="#f2741c"/><stop offset="0.6121" stop-color="#e25734"/><stop offset="0.6647" stop-color="#ca404a"/><stop offset="0.7132" stop-color="#a92e5e"/><stop offset="0.7565" stop-color="#8a226a"/><stop offset="0.7934" stop-color="#6c186e"/><stop offset="0.8232" stop-color="#550f6d"/><stop offset="0.8450" stop-color="#420a68"/><stop offset="0.8582" stop-color="#2b0b57"/><stop offset="0.8627" stop-color="#180c3c"/></linearGradient><linearGradient id="g124" gradientUnits="userSpaceOnUse" x1="432.9" x2="723.1" y1="0" y2="0"><stop offset="0.1439" stop-color="#fbbc21"/><stop offset="0.1483" stop-color="#fac026"/><stop offset="0.1613" stop-color="#fac62d"/><stop offset="0.1827" stop-color="#f9cb35"/><stop offset="0.2119" stop-color="#f7d13d"/><stop offset="0.2482" stop-color="#f6d543"/><stop offset="0.2907" stop-color="#f6d543"/><stop offset="0.3383" stop-color="#f8cd37"/><stop offset="0.3900" stop-color="#fac026"/><stop offset="0.4443" stop-color="#fca80d"/><stop offset="0.5000" stop-color="#f98e09"/><stop offset="0.5557" stop-color="#f1731d"/><stop offset="0.6100" stop-color="#e25734"/><stop offset="0.6617" stop-color="#ca404a"/><stop offset="0.7093" stop-color="#ab2f5e"/><stop offset="0.7518" stop-color="#8c2369"/><stop offset="0.7881" stop-color="#6f196e"/><stop offset="0.8173" stop-color="#57106e"/><stop offset="0.8387" stop-color="#440a68"/><stop offset="0.8517" stop-color="#2f0a5b"/><stop offset="0.8561" stop-color="#1b0c41"/></linearGradient><linearGradient id="g125" gradientUnits="userSpaceOnUse" x1="432.9" x2="723.1" y1="0" y2="0"><stop offset="0.1508" stop-color="#fbba1f"/><stop offset="0.1551" stop-color="#fbbe23"/><stop offset="0.1679" stop-color="#fac42a"/><stop offset="0.1888" stop-color="#f9c932"/><stop offset="0.2175" stop-color="#f8cd37"/><stop offset="0.2531" stop-color="#f7d13d"/><stop offset="0.2947" stop-color="#f7d13d"/><stop offset="0.3415" stop-color="#f9cb35"/><stop offset="0.3921" stop-color="#fbbe23"/><stop offset="0.4454" stop-color="#fca60c"/><stop offset="0.5000" stop-color="#f98e09"/><stop offset="0.5546" stop-color="#f1731d"/><stop offset="0.6079" stop-color="#e25734"/><stop offset="0.6585" stop-color="#ca404a"/><stop offset="0.7053" stop-color="#ad305d"/><stop offset="0.7469" stop-color="#8d2369"/><stop offset="0.7825" stop-color="#71196e"/><stop offset="0.8112" stop-color="#5a116e"/><stop offset="0.8321" stop-color="#470b6a"/><stop offset="0.8449" stop-color="#320a5e"/><stop offset="0.8492" stop-color="#1f0c48"/></linearGradient><linearGradient id="g126" gradientUnits="userSpaceOnUse" x1="432.9" x2="723.1" y1="0" y2="0"><stop offset="0.1579" stop-color="#fbb81d"/><stop offset="0.1621" stop-color="#fbbc21"/><stop offset="0.1747" stop-color="#fac228"/><stop offset="0.1952" stop-color="#fac62d"/><stop offset="0.2232" stop-color="#f9cb35"/><stop offset="0.2581" stop-color="#f8cf3a"/><stop offset="0.2989" stop-color="#f8cf3a"/><stop offset="0.3447" stop-color="#f9c932"/><stop offset="0.3943" stop-color="#fbbc21"/><stop offset="0.4465" stop-color="#fca50a"/><stop offset="0.5000" stop-color="#f98c0a"/><stop offset="0.5535" stop-color="#f1731d"/><stop offset="0.6057" stop-color="#e25734"/><stop offset="0.6553" stop-color="#cb4149"/><stop offset="0.7011" stop-color="#ad305d"/><stop offset="0.7419" stop-color="#8f2469"/><stop offset="0.7768" stop-color="#741a6e"/><stop offset="0.8048" stop-color="#5d126e"/><stop offset="0.8253" stop-color="#4a0c6b"/><stop offset="0.8379" stop-color="#380962"/><stop offset="0.8421" stop-color="#230c4c"/></linearGradient><linearGradient id="g127" gradientUnits="userSpaceOnUse" x1="432.9" x2="723.1" y1="0" y2="0"><stop offset="0.1654" stop-color="#fcb418"/><stop offset="0.1695" stop-color="#fbba1f"/><stop offset="0.1817" stop-color="#fbbe23"/><stop offset="0.2018" stop-color="#fac42a"/><stop offset="0.2293" stop-color="#f9c932"/><stop offset="0.2634" stop-color="#f8cd37"/><stop offset="0.3033" stop-color="#f8cd37"/><stop offset="0.3481" stop-color="#f9c72f"/><stop offset="0.3966" stop-color="#fbba1f"/><stop offset="0.4476" stop-color="#fca309"/><stop offset="0.5000" stop-color="#f98b0b"/><stop offset="0.5524" stop-color="#f1711f"/><stop offset="0.6034" stop-color="#e25734"/><stop offset="0.6519" stop-color="#cb4149"/><stop offset="0.6967" stop-color="#ae305c"/><stop offset="0.7366" stop-color="#902568"/><stop offset="0.7707" stop-color="#751b6e"/><stop offset="0.7982" stop-color="#5f136e"/><stop offset="0.8183" stop-color="#4d0d6c"/><stop offset="0.8305" stop-color="#3b0964"/><stop offset="0.8346" stop-color="#280b53"/></linearGradient><linearGradient id="g128" gradientUnits="userSpaceOnUse" x1="432.9" x2="723.1" y1="0" y2="0"><stop offset="0.1731" stop-color="#fcb216"/><stop offset="0.1771" stop-color="#fbb81d"/><stop offset="0.1891" stop-color="#fbbc21"/><stop offset="0.2087" stop-color="#fac228"/><stop offset="0.2355" stop-color="#fac62d"/><stop offset="0.2688" stop-color="#f9c932"/><stop offset="0.3079" stop-color="#f9c932"/><stop offset="0.3516" stop-color="#fac42a"/><stop offset="0.3990" stop-color="#fbb61a"/><stop offset="0.4489" stop-color="#fca108"/><stop offset="0.5000" stop-color="#f8890c"/><stop offset="0.5511" stop-color="#f1711f"/><stop offset="0.6010" stop-color="#e15635"/><stop offset="0.6484" stop-color="#cb4149"/><stop offset="0.6921" stop-color="#b0315b"/><stop offset="0.7312" stop-color="#932667"/><stop offset="0.7645" stop-color="#781c6d"/><stop offset="0.7913" stop-color="#62146e"/><stop offset="0.8109" stop-color="#510e6c"/><stop offset="0.8229" stop-color="#3e0966"/><stop offset="0.8269" stop-color="#2b0b57"/></linearGradient><linearGradient id="g129" gradientUnits="userSpaceOnUse" x1="432.9" x2="723.1" y1="0" y2="0"><stop offset="0.1812" stop-color="#fcb014"/><stop offset="0.1851" stop-color="#fcb418"/><stop offset="0.1968" stop-color="#fbba1f"/><stop offset="0.2159" stop-color="#fbbe23"/><stop offset="0.2421" stop-color="#fac42a"/><stop offset="0.2746" stop-color="#f9c72f"/><stop offset="0.3126" stop-color="#f9c72f"/><stop offset="0.3553" stop-color="#fac228"/><stop offset="0.4015" stop-color="#fcb418"/><stop offset="0.4501" stop-color="#fc9f07"/><stop offset="0.5000" stop-color="#f8890c"/><stop offset="0.5499" stop-color="#f06f20"/><stop offset="0.5985" stop-color="#e15635"/><stop offset="0.6447" stop-color="#cc4248"/><stop offset="0.6874" stop-color="#b0315b"/><stop offset="0.7254" stop-color="#952667"/><stop offset="0.7579" stop-color="#7a1d6d"/><stop offset="0.7841" stop-color="#65156e"/><stop offset="0.8032" stop-color="#550f6d"/><stop offset="0.8149" stop-color="#440a68"/><stop offset="0.8188" stop-color="#310a5c"/></linearGradient><linearGradient id="g130" gradientUnits="userSpaceOnUse" x1="432.9" x2="723.1" y1="0" y2="0"><stop offset="0.1896" stop-color="#fcae12"/><stop offset="0.1934" stop-color="#fcb216"/><stop offset="0.2048" stop-color="#fbb61a"/><stop offset="0.2235" stop-color="#fbbc21"/><stop offset="0.2489" stop-color="#fac026"/><stop offset="0.2805" stop-color="#fac42a"/><stop offset="0.3176" stop-color="#fac42a"/><stop offset="0.3591" stop-color="#fbbe23"/><stop offset="0.4041" stop-color="#fcb216"/><stop offset="0.4514" stop-color="#fb9d07"/><stop offset="0.5000" stop-color="#f8870e"/><stop offset="0.5486" stop-color="#f06f20"/><stop offset="0.5959" stop-color="#e15635"/><stop offset="0.6409" stop-color="#cc4248"/><stop offset="0.6824" stop-color="#b1325a"/><stop offset="0.7195" stop-color="#972766"/><stop offset="0.7511" stop-color="#7d1e6d"/><stop offset="0.7765" stop-color="#69166e"/><stop offset="0.7952" stop-color="#59106e"/><stop offset="0.8066" stop-color="#470b6a"/><stop offset="0.8104" stop-color="#360961"/></linearGradient><linearGradient id="g131" gradientUnits="userSpaceOnUse" x1="432.9" x2="723.1" y1="0" y2="0"><stop offset="0.1985" stop-color="#fcaa0f"/><stop offset="0.2022" stop-color="#fcae12"/><stop offset="0.2132" stop-color="#fcb418"/><stop offset="0.2313" stop-color="#fbb81d"/><stop offset="0.2560" stop-color="#fbbe23"/><stop offset="0.2868" stop-color="#fac026"/><stop offset="0.3228" stop-color="#fac026"/><stop offset="0.3631" stop-color="#fbbc21"/><stop offset="0.4068" stop-color="#fcae12"/><stop offset="0.4528" stop-color="#fb9b06"/><stop offset="0.5000" stop-color="#f8850f"/><stop offset="0.5472" stop-color="#ef6e21"/><stop offset="0.5932" stop-color="#e15635"/><stop offset="0.6369" stop-color="#cc4248"/><stop offset="0.6772" stop-color="#b3325a"/><stop offset="0.7132" stop-color="#982766"/><stop offset="0.7440" stop-color="#801f6c"/><stop offset="0.7687" stop-color="#6d186e"/><stop offset="0.7868" stop-color="#5c126e"/><stop offset="0.7978" stop-color="#4c0c6b"/><stop offset="0.8015" stop-color="#3b0964"/></linearGradient><linearGradient id="g132" gradientUnits="userSpaceOnUse" x1="432.9" x2="723.1" y1="0" y2="0"><stop offset="0.2077" stop-color="#fca80d"/><stop offset="0.2113" stop-color="#fcac11"/><stop offset="0.2220" stop-color="#fcb014"/><stop offset="0.2396" stop-color="#fbb61a"/><stop offset="0.2635" stop-color="#fbba1f"/><stop offset="0.2933" stop-color="#fbbe23"/><stop offset="0.3282" stop-color="#fbbe23"/><stop offset="0.3673" stop-color="#fbb81d"/><stop offset="0.4097" stop-color="#fcac11"/><stop offset="0.4543" stop-color="#fb9706"/><stop offset="0.5000" stop-color="#f78410"/><stop offset="0.5457" stop-color="#ef6c23"/><stop offset="0.5903" stop-color="#e15635"/><stop offset="0.6327" stop-color="#cc4248"/><stop offset="0.6718" stop-color="#b43359"/><stop offset="0.7067" stop-color="#9b2964"/><stop offset="0.7365" stop-color="#84206b"/><stop offset="0.7604" stop-color="#71196e"/><stop offset="0.7780" stop-color="#61136e"/><stop offset="0.7887" stop-color="#510e6c"/><stop offset="0.7923" stop-color="#400a67"/></linearGradient><linearGradient id="g133" gradientUnits="userSpaceOnUse" x1="432.9" x2="723.1" y1="0" y2="0"><stop offset="0.2174" stop-color="#fca50a"/><stop offset="0.2209" stop-color="#fca80d"/><stop offset="0.2313" stop-color="#fcac11"/><stop offset="0.2482" stop-color="#fcb216"/><stop offset="0.2714" stop-color="#fbb61a"/><stop offset="0.3002" stop-color="#fbba1f"/><stop offset="0.3339" stop-color="#fbba1f"/><stop offset="0.3717" stop-color="#fcb418"/><stop offset="0.4127" stop-color="#fca80d"/><stop offset="0.4558" stop-color="#fb9606"/><stop offset="0.5000" stop-color="#f78212"/><stop offset="0.5442" stop-color="#ef6c23"/><stop offset="0.5873" stop-color="#e15635"/><stop offset="0.6283" stop-color="#ce4347"/><stop offset="0.6661" stop-color="#b63458"/><stop offset="0.6998" stop-color="#9d2964"/><stop offset="0.7286" stop-color="#87216b"/><stop offset="0.7518" stop-color="#741a6e"/><stop offset="0.7687" stop-color="#65156e"/><stop offset="0.7791" stop-color="#550f6d"/><stop offset="0.7826" stop-color="#470b6a"/></linearGradient><linearGradient id="g134" gradientUnits="userSpaceOnUse" x1="432.9" x2="723.1" y1="0" y2="0"><stop offset="0.2277" stop-color="#fca108"/><stop offset="0.2310" stop-color="#fca50a"/><stop offset="0.2410" stop-color="#fcaa0f"/><stop offset="0.2574" stop-color="#fcae12"/><stop offset="0.2797" stop-color="#fcb216"/><stop offset="0.3075" stop-color="#fbb61a"/><stop offset="0.3399" stop-color="#fbb61a"/><stop offset="0.3764" stop-color="#fcb014"/><stop offset="0.4159" stop-color="#fca50a"/><stop offset="0.4574" stop-color="#fa9407"/><stop offset="0.5000" stop-color="#f68013"/><stop offset="0.5426" stop-color="#ee6a24"/><stop offset="0.5841" stop-color="#e05536"/><stop offset="0.6236" stop-color="#ce4347"/><stop offset="0.6601" stop-color="#b73557"/><stop offset="0.6925" stop-color="#a02a63"/><stop offset="0.7203" stop-color="#8a226a"/><stop offset="0.7426" stop-color="#781c6d"/><stop offset="0.7590" stop-color="#6a176e"/><stop offset="0.7690" stop-color="#5a116e"/><stop offset="0.7723" stop-color="#4c0c6b"/></linearGradient><linearGradient id="g135" gradientUnits="userSpaceOnUse" x1="432.9" x2="723.1" y1="0" y2="0"><stop offset="0.2385" stop-color="#fc9f07"/><stop offset="0.2417" stop-color="#fca309"/><stop offset="0.2513" stop-color="#fca60c"/><stop offset="0.2670" stop-color="#fcaa0f"/><stop offset="0.2885" stop-color="#fcae12"/><stop offset="0.3151" stop-color="#fcb216"/><stop offset="0.3463" stop-color="#fcb216"/><stop offset="0.3813" stop-color="#fcac11"/><stop offset="0.4192" stop-color="#fca309"/><stop offset="0.4591" stop-color="#fa9008"/><stop offset="0.5000" stop-color="#f67e14"/><stop offset="0.5409" stop-color="#ed6925"/><stop offset="0.5808" stop-color="#e05536"/><stop offset="0.6187" stop-color="#ce4347"/><stop offset="0.6537" stop-color="#b93556"/><stop offset="0.6849" stop-color="#a22b62"/><stop offset="0.7115" stop-color="#8d2369"/><stop offset="0.7330" stop-color="#7c1d6d"/><stop offset="0.7487" stop-color="#6d186e"/><stop offset="0.7583" stop-color="#61136e"/><stop offset="0.7615" stop-color="#520e6d"/></linearGradient><linearGradient id="g136" gradientUnits="userSpaceOnUse" x1="432.9" x2="723.1" y1="0" y2="0"><stop offset="0.2500" stop-color="#fb9b06"/><stop offset="0.2531" stop-color="#fc9f07"/><stop offset="0.2622" stop-color="#fca309"/><stop offset="0.2773" stop-color="#fca60c"/><stop offset="0.2977" stop-color="#fcaa0f"/><stop offset="0.3232" stop-color="#fcac11"/><stop offset="0.3531" stop-color="#fcac11"/><stop offset="0.3865" stop-color="#fca80d"/><stop offset="0.4227" stop-color="#fc9f07"/><stop offset="0.4609" stop-color="#f98e09"/><stop offset="0.5000" stop-color="#f57d15"/><stop offset="0.5391" stop-color="#ed6925"/><stop offset="0.5773" stop-color="#e05536"/><stop offset="0.6135" stop-color="#cf4446"/><stop offset="0.6469" stop-color="#ba3655"/><stop offset="0.6768" stop-color="#a52c60"/><stop offset="0.7023" stop-color="#902568"/><stop offset="0.7227" stop-color="#801f6c"/><stop offset="0.7378" stop-color="#741a6e"/><stop offset="0.7469" stop-color="#65156e"/><stop offset="0.7500" stop-color="#59106e"/></linearGradient><linearGradient id="g137" gradientUnits="userSpaceOnUse" x1="432.9" x2="723.1" y1="0" y2="0"><stop offset="0.2622" stop-color="#fb9706"/><stop offset="0.2652" stop-color="#fb9b06"/><stop offset="0.2739" stop-color="#fb9d07"/><stop offset="0.2881" stop-color="#fca309"/><stop offset="0.3076" stop-color="#fca50a"/><stop offset="0.3319" stop-color="#fca80d"/><stop offset="0.3602" stop-color="#fca80d"/><stop offset="0.3921" stop-color="#fca50a"/><stop offset="0.4265" stop-color="#fb9906"/><stop offset="0.4628" stop-color="#f98b0b"/><stop offset="0.5000" stop-color="#f47918"/><stop offset="0.5372" stop-color="#ec6726"/><stop offset="0.5735" stop-color="#e05536"/><stop offset="0.6079" stop-color="#cf4446"/><stop offset="0.6398" stop-color="#bc3754"/><stop offset="0.6681" stop-color="#a82e5f"/><stop offset="0.6924" stop-color="#952667"/><stop offset="0.7119" stop-color="#85216b"/><stop offset="0.7261" stop-color="#781c6d"/><stop offset="0.7348" stop-color="#6c186e"/><stop offset="0.7378" stop-color="#5f136e"/></linearGradient><linearGradient id="g138" gradientUnits="userSpaceOnUse" x1="432.9" x2="723.1" y1="0" y2="0"><stop offset="0.2753" stop-color="#fa9407"/><stop offset="0.2781" stop-color="#fb9606"/><stop offset="0.2863" stop-color="#fb9906"/><stop offset="0.2998" stop-color="#fb9d07"/><stop offset="0.3182" stop-color="#fca108"/><stop offset="0.3411" stop-color="#fca309"/><stop offset="0.3679" stop-color="#fca309"/><stop offset="0.3980" stop-color="#fc9f07"/><stop offset="0.4306" stop-color="#fb9606"/><stop offset="0.4649" stop-color="#f8870e"/><stop offset="0.5000" stop-color="#f37819"/><stop offset="0.5351" stop-color="#eb6628"/><stop offset="0.5694" stop-color="#e05536"/><stop offset="0.6020" stop-color="#d04545"/><stop offset="0.6321" stop-color="#bd3853"/><stop offset="0.6589" stop-color="#ab2f5e"/><stop offset="0.6818" stop-color="#982766"/><stop offset="0.7002" stop-color="#8a226a"/><stop offset="0.7137" stop-color="#7f1e6c"/><stop offset="0.7219" stop-color="#721a6e"/><stop offset="0.7247" stop-color="#65156e"/></linearGradient><linearGradient id="g139" gradientUnits="userSpaceOnUse" x1="432.9" x2="723.1" y1="0" y2="0"><stop offset="0.2895" stop-color="#f98e09"/><stop offset="0.2921" stop-color="#fa9207"/><stop offset="0.2998" stop-color="#fb9606"/><stop offset="0.3124" stop-color="#fb9706"/><stop offset="0.3297" stop-color="#fb9b06"/><stop offset="0.3511" stop-color="#fc9f07"/><stop offset="0.3763" stop-color="#fc9f07"/><stop offset="0.4044" stop-color="#fb9906"/><stop offset="0.4349" stop-color="#fa9207"/><stop offset="0.4671" stop-color="#f78410"/><stop offset="0.5000" stop-color="#f2741c"/><stop offset="0.5329" stop-color="#eb6429"/><stop offset="0.5651" stop-color="#df5337"/><stop offset="0.5956" stop-color="#d04545"/><stop offset="0.6237" stop-color="#c03a51"/><stop offset="0.6489" stop-color="#ae305c"/><stop offset="0.6703" stop-color="#9d2964"/><stop offset="0.6876" stop-color="#902568"/><stop offset="0.7002" stop-color="#85216b"/><stop offset="0.7079" stop-color="#781c6d"/><stop offset="0.7105" stop-color="#6d186e"/></linearGradient><linearGradient id="g140" gradientUnits="userSpaceOnUse" x1="432.9" x2="723.1" y1="0" y2="0"><stop offset="0.3049" stop-color="#f98b0b"/><stop offset="0.3073" stop-color="#f98c0a"/><stop offset="0.3144" stop-color="#fa9008"/><stop offset="0.3261" stop-color="#fa9407"/><stop offset="0.3421" stop-color="#fb9606"/><stop offset="0.3620" stop-color="#fb9706"/><stop offset="0.3853" stop-color="#fb9706"/><stop offset="0.4114" stop-color="#fa9407"/><stop offset="0.4397" stop-color="#f98c0a"/><stop offset="0.4695" stop-color="#f68013"/><stop offset="0.5000" stop-color="#f1731d"/><stop offset="0.5305" stop-color="#ea632a"/><stop offset="0.5603" stop-color="#df5337"/><stop offset="0.5886" stop-color="#d24644"/><stop offset="0.6147" stop-color="#c13a50"/><stop offset="0.6380" stop-color="#b1325a"/><stop offset="0.6579" stop-color="#a22b62"/><stop offset="0.6739" stop-color="#952667"/><stop offset="0.6856" stop-color="#8c2369"/><stop offset="0.6927" stop-color="#801f6c"/><stop offset="0.6951" stop-color="#771c6d"/></linearGradient><linearGradient id="g141" gradientUnits="userSpaceOnUse" x1="432.9" x2="723.1" y1="0" y2="0"><stop offset="0.3219" stop-color="#f8850f"/><stop offset="0.3241" stop-color="#f8870e"/><stop offset="0.3306" stop-color="#f98b0b"/><stop offset="0.3413" stop-color="#f98c0a"/><stop offset="0.3559" stop-color="#fa9008"/><stop offset="0.3740" stop-color="#fa9207"/><stop offset="0.3953" stop-color="#fa9207"/><stop offset="0.4191" stop-color="#f98e09"/><stop offset="0.4450" stop-color="#f8870e"/><stop offset="0.4721" stop-color="#f57b17"/><stop offset="0.5000" stop-color="#f06f20"/><stop offset="0.5279" stop-color="#e9612b"/><stop offset="0.5550" stop-color="#df5337"/><stop offset="0.5809" stop-color="#d24644"/><stop offset="0.6047" stop-color="#c43c4e"/><stop offset="0.6260" stop-color="#b63458"/><stop offset="0.6441" stop-color="#a82e5f"/><stop offset="0.6587" stop-color="#9b2964"/><stop offset="0.6694" stop-color="#922568"/><stop offset="0.6759" stop-color="#88226a"/><stop offset="0.6781" stop-color="#7f1e6c"/></linearGradient><linearGradient id="g142" gradientUnits="userSpaceOnUse" x1="432.9" x2="723.1" y1="0" y2="0"><stop offset="0.3409" stop-color="#f67e14"/><stop offset="0.3429" stop-color="#f78212"/><stop offset="0.3487" stop-color="#f78410"/><stop offset="0.3583" stop-color="#f8870e"/><stop offset="0.3713" stop-color="#f8890c"/><stop offset="0.3875" stop-color="#f98b0b"/><stop offset="0.4065" stop-color="#f98b0b"/><stop offset="0.4278" stop-color="#f8870e"/><stop offset="0.4508" stop-color="#f78212"/><stop offset="0.4751" stop-color="#f3761b"/><stop offset="0.5000" stop-color="#ef6c23"/><stop offset="0.5249" stop-color="#e8602d"/><stop offset="0.5492" stop-color="#de5238"/><stop offset="0.5722" stop-color="#d34743"/><stop offset="0.5935" stop-color="#c73e4c"/><stop offset="0.6125" stop-color="#ba3655"/><stop offset="0.6287" stop-color="#ae305c"/><stop offset="0.6417" stop-color="#a32c61"/><stop offset="0.6513" stop-color="#9b2964"/><stop offset="0.6571" stop-color="#922568"/><stop offset="0.6591" stop-color="#8a226a"/></linearGradient><linearGradient id="g143" gradientUnits="userSpaceOnUse" x1="432.9" x2="723.1" y1="0" y2="0"><stop offset="0.3630" stop-color="#f47918"/><stop offset="0.3647" stop-color="#f57b17"/><stop offset="0.3697" stop-color="#f57d15"/><stop offset="0.3779" stop-color="#f67e14"/><stop offset="0.3892" stop-color="#f68013"/><stop offset="0.4031" stop-color="#f78212"/><stop offset="0.4195" stop-color="#f78212"/><stop offset="0.4378" stop-color="#f68013"/><stop offset="0.4577" stop-color="#f57b17"/><stop offset="0.4786" stop-color="#f1711f"/><stop offset="0.5000" stop-color="#ec6726"/><stop offset="0.5214" stop-color="#e65d2f"/><stop offset="0.5423" stop-color="#de5238"/><stop offset="0.5622" stop-color="#d44842"/><stop offset="0.5805" stop-color="#ca404a"/><stop offset="0.5969" stop-color="#bf3952"/><stop offset="0.6108" stop-color="#b43359"/><stop offset="0.6221" stop-color="#ab2f5e"/><stop offset="0.6303" stop-color="#a52c60"/><stop offset="0.6353" stop-color="#9d2964"/><stop offset="0.6370" stop-color="#972766"/></linearGradient><linearGradient id="g144" gradientUnits="userSpaceOnUse" x1="432.9" x2="723.1" y1="0" y2="0"><stop offset="0.3898" stop-color="#f1711f"/><stop offset="0.3911" stop-color="#f1731d"/><stop offset="0.3952" stop-color="#f2741c"/><stop offset="0.4018" stop-color="#f3761b"/><stop offset="0.4108" stop-color="#f37819"/><stop offset="0.4221" stop-color="#f37819"/><stop offset="0.4352" stop-color="#f37819"/><stop offset="0.4500" stop-color="#f3761b"/><stop offset="0.4659" stop-color="#f1711f"/><stop offset="0.4828" stop-color="#ee6a24"/><stop offset="0.5000" stop-color="#ea632a"/><stop offset="0.5172" stop-color="#e45a31"/><stop offset="0.5341" stop-color="#dd513a"/><stop offset="0.5500" stop-color="#d54a41"/><stop offset="0.5648" stop-color="#cc4248"/><stop offset="0.5779" stop-color="#c43c4e"/><stop offset="0.5892" stop-color="#bc3754"/><stop offset="0.5982" stop-color="#b63458"/><stop offset="0.6048" stop-color="#b0315b"/><stop offset="0.6089" stop-color="#a92e5e"/><stop offset="0.6102" stop-color="#a52c60"/></linearGradient><linearGradient id="g145" gradientUnits="userSpaceOnUse" x1="432.9" x2="723.1" y1="0" y2="0"><stop offset="0.4263" stop-color="#eb6628"/><stop offset="0.4272" stop-color="#eb6628"/><stop offset="0.4299" stop-color="#ec6726"/><stop offset="0.4343" stop-color="#ed6925"/><stop offset="0.4403" stop-color="#ed6925"/><stop offset="0.4479" stop-color="#ee6a24"/><stop offset="0.4567" stop-color="#ee6a24"/><stop offset="0.4665" stop-color="#ed6925"/><stop offset="0.4772" stop-color="#eb6628"/><stop offset="0.4885" stop-color="#e9612b"/><stop offset="0.5000" stop-color="#e65d2f"/><stop offset="0.5115" stop-color="#e15635"/><stop offset="0.5228" stop-color="#db503b"/><stop offset="0.5335" stop-color="#d74b3f"/><stop offset="0.5433" stop-color="#d24644"/><stop offset="0.5521" stop-color="#cb4149"/><stop offset="0.5597" stop-color="#c73e4c"/><stop offset="0.5657" stop-color="#c33b4f"/><stop offset="0.5701" stop-color="#bf3952"/><stop offset="0.5728" stop-color="#bc3754"/><stop offset="0.5737" stop-color="#b73557"/></linearGradient><linearGradient id="g146" gradientUnits="userSpaceOnUse" x1="432.9" x2="723.1" y1="0" y2="0"><stop offset="0.4929" stop-color="#dd513a"/><stop offset="0.4930" stop-color="#dd513a"/><stop offset="0.4933" stop-color="#dd513a"/><stop offset="0.4937" stop-color="#dd513a"/><stop offset="0.4943" stop-color="#dd513a"/><stop offset="0.4950" stop-color="#dd513a"/><stop offset="0.4958" stop-color="#dd513a"/><stop offset="0.4968" stop-color="#dd513a"/><stop offset="0.4978" stop-color="#dd513a"/><stop offset="0.4989" stop-color="#dd513a"/><stop offset="0.5000" stop-color="#db503b"/><stop offset="0.5011" stop-color="#da4e3c"/><stop offset="0.5022" stop-color="#da4e3c"/><stop offset="0.5032" stop-color="#d94d3d"/><stop offset="0.5042" stop-color="#d94d3d"/><stop offset="0.5050" stop-color="#d84c3e"/><stop offset="0.5057" stop-color="#d84c3e"/><stop offset="0.5063" stop-color="#d84c3e"/><stop offset="0.5067" stop-color="#d84c3e"/><stop offset="0.5070" stop-color="#d74b3f"/><stop offset="0.5071" stop-color="#d74b3f"/></linearGradient></defs>
<g clip-path="url(#disk)" shape-rendering="crispEdges"><rect x="559.06" y="169" width="37.87" height="2" fill="url(#g0)"/><rect x="546.77" y="171" width="62.47" height="2" fill="url(#g1)"/><rect x="538.39" y="173" width="79.22" height="2" fill="url(#g2)"/><rect x="531.65" y="175" width="92.69" height="2" fill="url(#g3)"/><rect x="525.89" y="177" width="104.21" height="2" fill="url(#g4)"/><rect x="520.8" y="179" width="114.4" height="2" fill="url(#g5)"/><rect x="516.21" y="181" width="123.59" height="2" fill="url(#g6)"/><rect x="512" y="183" width="132" height="2" fill="url(#g7)"/><rect x="508.11" y="185" width="139.77" height="2" fill="url(#g8)"/><rect x="504.49" y="187" width="147.02" height="2" fill="url(#g9)"/><rect x="501.1" y="189" width="153.81" height="2" fill="url(#g10)"/><rect x="497.9" y="191" width="160.2" height="2" fill="url(#g11)"/><rect x="494.88" y="193" width="166.24" height="2" fill="url(#g12)"/><rect x="492.01" y="195" width="171.98" height="2" fill="url(#g13)"/><rect x="489.28" y="197" width="177.43" height="2" fill="url(#g14)"/><rect x="486.69" y="199" width="182.63" height="2" fill="url(#g15)"/><rect x="484.2" y="201" width="187.6" height="2" fill="url(#g16)"/><rect x="481.83" y="203" width="192.35" height="2" fill="url(#g17)"/><rect x="479.55" y="205" width="196.9" height="2" fill="url(#g18)"/><rect x="477.37" y="207" width="201.27" height="2" fill="url(#g19)"/><rect x="475.27" y="209" width="205.47" height="2" fill="url(#g20)"/><rect x="473.25" y="211" width="209.5" height="2" fill="url(#g21)"/><rect x="471.31" y="213" width="213.38" height="2" fill="url(#g22)"/><rect x="469.44" y="215" width="217.12" height="2" fill="url(#g23)"/><rect x="467.64" y="217" width="220.72" height="2" fill="url(#g24)"/><rect x="465.91" y="219" width="224.18" height="2" fill="url(#g25)"/><rect x="464.24" y="221" width="227.53" height="2" fill="url(#g26)"/><rect x="462.62" y="223" width="230.76" height="2" fill="url(#g27)"/><rect x="461.07" y="225" width="233.87" height="2" fill="url(#g28)"/><rect x="459.56" y="227" width="236.87" height="2" fill="url(#g29)"/><rect x="458.12" y="229" width="239.77" height="2" fill="url(#g30)"/><rect x="456.72" y="231" width="242.57" height="2" fill="url(#g31)"/><rect x="455.37" y="233" width="245.27" height="2" fill="url(#g32)"/><rect x="454.06" y="235" width="247.87" height="2" fill="url(#g33)"/><rect x="452.81" y="237" width="250.38" height="2" fill="url(#g34)"/><rect x="451.6" y="239" width="252.81" height="2" fill="url(#g35)"/><rect x="450.43" y="241" width="255.15" height="2" fill="url(#g36)"/><rect x="449.3" y="243" width="257.4" height="2" fill="url(#g37)"/><rect x="448.21" y="245" width="259.58" height="2" fill="url(#g38)"/><rect x="447.16" y="247" width="261.67" height="2" fill="url(#g39)"/><rect x="446.16" y="249" width="263.69" height="2" fill="url(#g40)"/><rect x="445.18" y="251" width="265.63" height="2" fill="url(#g41)"/><rect x="444.25" y="253" width="267.5" height="2" fill="url(#g42)"/><rect x="443.35" y="255" width="269.29" height="2" fill="url(#g43)"/><rect x="442.49" y="257" width="271.02" height="2" fill="url(#g44)"/><rect x="441.67" y="259" width="272.67" height="2" fill="url(#g45)"/><rect x="440.87" y="261" width="274.26" height="2" fill="url(#g46)"/><rect x="440.11" y="263" width="275.77" height="2" fill="url(#g47)"/><rect x="439.39" y="265" width="277.23" height="2" fill="url(#g48)"/><rect x="438.69" y="267" width="278.61" height="2" fill="url(#g49)"/><rect x="438.03" y="269" width="279.94" height="2" fill="url(#g50)"/><rect x="437.4" y="271" width="281.2" height="2" fill="url(#g51)"/><rect x="436.8" y="273" width="282.4" height="2" fill="url(#g52)"/><rect x="436.23" y="275" width="283.53" height="2" fill="url(#g53)"/><rect x="435.7" y="277" width="284.61" height="2" fill="url(#g54)"/><rect x="435.19" y="279" width="285.63" height="2" fill="url(#g55)"/><rect x="434.71" y="281" width="286.58" height="2" fill="url(#g56)"/><rect x="434.26" y="283" width="287.48" height="2" fill="url(#g57)"/><rect x="433.84" y="285" width="288.32" height="2" fill="url(#g58)"/><rect x="433.45" y="287" width="289.1" height="2" fill="url(#g59)"/><rect x="433.09" y="289" width="289.83" height="2" fill="url(#g60)"/><rect x="432.75" y="291" width="290.5" height="2" fill="url(#g61)"/><rect x="432.45" y="293" width="291.11" height="2" fill="url(#g62)"/><rect x="432.17" y="295" width="291.66" height="2" fill="url(#g63)"/><rect x="431.92" y="297" width="292.16" height="2" fill="url(#g64)"/><rect x="431.7" y="299" width="292.61" height="2" fill="url(#g65)"/><rect x="431.5" y="301" width="293" height="2" fill="url(#g66)"/><rect x="431.33" y="303" width="293.33" height="2" fill="url(#g67)"/><rect x="431.19" y="305" width="293.61" height="2" fill="url(#g68)"/><rect x="431.08" y="307" width="293.84" height="2" fill="url(#g69)"/><rect x="431" y="309" width="294.01" height="2" fill="url(#g70)"/><rect x="430.94" y="311" width="294.13" height="2" fill="url(#g71)"/><rect x="430.91" y="313" width="294.19" height="2" fill="url(#g72)"/><rect x="430.9" y="315" width="294.2" height="2" fill="url(#g73)"/><rect x="430.92" y="317" width="294.15" height="2" fill="url(#g74)"/><rect x="430.97" y="319" width="294.05" height="2" fill="url(#g75)"/><rect x="431.05" y="321" width="293.9" height="2" fill="url(#g76)"/><rect x="431.16" y="323" width="293.69" height="2" fill="url(#g77)"/><rect x="431.29" y="325" width="293.42" height="2" fill="url(#g78)"/><rect x="431.45" y="327" width="293.1" height="2" fill="url(#g79)"/><rect x="431.63" y="329" width="292.73" height="2" fill="url(#g80)"/><rect x="431.85" y="331" width="292.3" height="2" fill="url(#g81)"/><rect x="432.09" y="333" width="291.82" height="2" fill="url(#g82)"/><rect x="432.36" y="335" width="291.28" height="2" fill="url(#g83)"/><rect x="432.66" y="337" width="290.69" height="2" fill="url(#g84)"/><rect x="432.98" y="339" width="290.03" height="2" fill="url(#g85)"/><rect x="433.34" y="341" width="289.33" height="2" fill="url(#g86)"/><rect x="433.72" y="343" width="288.56" height="2" fill="url(#g87)"/><rect x="434.13" y="345" width="287.74" height="2" fill="url(#g88)"/><rect x="434.57" y="347" width="286.86" height="2" fill="url(#g89)"/><rect x="435.04" y="349" width="285.92" height="2" fill="url(#g90)"/><rect x="435.54" y="351" width="284.92" height="2" fill="url(#g91)"/><rect x="436.07" y="353" width="283.86" height="2" fill="url(#g92)"/><rect x="436.63" y="355" width="282.74" height="2" fill="url(#g93)"/><rect x="437.22" y="357" width="281.56" height="2" fill="url(#g94)"/><rect x="437.84" y="359" width="280.32" height="2" fill="url(#g95)"/><rect x="438.49" y="361" width="279.02" height="2" fill="url(#g96)"/><rect x="439.18" y="363" width="277.65" height="2" fill="url(#g97)"/><rect x="439.89" y="365" width="276.22" height="2" fill="url(#g98)"/><rect x="440.64" y="367" width="274.72" height="2" fill="url(#g99)"/><rect x="441.42" y="369" width="273.15" height="2" fill="url(#g100)"/><rect x="442.24" y="371" width="271.52" height="2" fill="url(#g101)"/><rect x="443.09" y="373" width="269.82" height="2" fill="url(#g102)"/><rect x="443.98" y="375" width="268.04" height="2" fill="url(#g103)"/><rect x="444.9" y="377" width="266.2" height="2" fill="url(#g104)"/><rect x="445.86" y="379" width="264.28" height="2" fill="url(#g105)"/><rect x="446.86" y="381" width="262.29" height="2" fill="url(#g106)"/><rect x="447.89" y="383" width="260.21" height="2" fill="url(#g107)"/><rect x="448.97" y="385" width="258.06" height="2" fill="url(#g108)"/><rect x="450.08" y="387" width="255.83" height="2" fill="url(#g109)"/><rect x="451.24" y="389" width="253.52" height="2" fill="url(#g110)"/><rect x="452.44" y="391" width="251.12" height="2" fill="url(#g111)"/><rect x="453.68" y="393" width="248.63" height="2" fill="url(#g112)"/><rect x="454.97" y="395" width="246.06" height="2" fill="url(#g113)"/><rect x="456.31" y="397" width="243.39" height="2" fill="url(#g114)"/><rect x="457.69" y="399" width="240.62" height="2" fill="url(#g115)"/><rect x="459.12" y="401" width="237.75" height="2" fill="url(#g116)"/><rect x="460.61" y="403" width="234.78" height="2" fill="url(#g117)"/><rect x="462.15" y="405" width="231.7" height="2" fill="url(#g118)"/><rect x="463.75" y="407" width="228.51" height="2" fill="url(#g119)"/><rect x="465.4" y="409" width="225.2" height="2" fill="url(#g120)"/><rect x="467.12" y="411" width="221.77" height="2" fill="url(#g121)"/><rect x="468.9" y="413" width="218.21" height="2" fill="url(#g122)"/><rect x="470.74" y="415" width="214.52" height="2" fill="url(#g123)"/><rect x="472.66" y="417" width="210.68" height="2" fill="url(#g124)"/><rect x="474.65" y="419" width="206.69" height="2" fill="url(#g125)"/><rect x="476.73" y="421" width="202.55" height="2" fill="url(#g126)"/><rect x="478.88" y="423" width="198.23" height="2" fill="url(#g127)"/><rect x="481.13" y="425" width="193.73" height="2" fill="url(#g128)"/><rect x="483.48" y="427" width="189.04" height="2" fill="url(#g129)"/><rect x="485.93" y="429" width="184.14" height="2" fill="url(#g130)"/><rect x="488.49" y="431" width="179.02" height="2" fill="url(#g131)"/><rect x="491.18" y="433" width="173.64" height="2" fill="url(#g132)"/><rect x="494" y="435" width="167.99" height="2" fill="url(#g133)"/><rect x="496.98" y="437" width="162.05" height="2" fill="url(#g134)"/><rect x="500.12" y="439" width="155.76" height="2" fill="url(#g135)"/><rect x="503.45" y="441" width="149.1" height="2" fill="url(#g136)"/><rect x="507" y="443" width="142" height="2" fill="url(#g137)"/><rect x="510.8" y="445" width="134.39" height="2" fill="url(#g138)"/><rect x="514.91" y="447" width="126.19" height="2" fill="url(#g139)"/><rect x="519.38" y="449" width="117.25" height="2" fill="url(#g140)"/><rect x="524.3" y="451" width="107.39" height="2" fill="url(#g141)"/><rect x="529.84" y="453" width="96.32" height="2" fill="url(#g142)"/><rect x="536.24" y="455" width="83.52" height="2" fill="url(#g143)"/><rect x="544.01" y="457" width="67.98" height="2" fill="url(#g144)"/><rect x="554.6" y="459" width="46.8" height="2" fill="url(#g145)"/><rect x="573.95" y="461" width="8.1" height="2" fill="url(#g146)"/></g>
<g fill="none" stroke="#c2c2c2" stroke-width="0.65" stroke-opacity="0.8">
<line x1="505.45" y1="442" x2="650.55" y2="442"/>
<line x1="452.34" y1="388.45" x2="703.66" y2="388.45"/>
<line x1="432.9" y1="315.3" x2="723.1" y2="315.3"/>
<line x1="452.34" y1="242.15" x2="703.66" y2="242.15"/>
<line x1="505.45" y1="188.6" x2="650.55" y2="188.6"/>
<path d="M578 169A144.43 146.3 0 0 0 578 461.6"/>
<path d="M578 169A118.13 146.3 0 0 0 578 461.6"/>
<path d="M578 169A60.17 146.3 0 0 0 578 461.6"/>
<path d="M578 169A13.91 146.3 0 0 1 578 461.6"/>
<path d="M578 169A84.26 146.3 0 0 1 578 461.6"/>
<path d="M578 169A132.04 146.3 0 0 1 578 461.6"/>
</g>
<defs><linearGradient id="cb"><stop offset="0.0000" stop-color="#000004"/><stop offset="0.0312" stop-color="#040312"/><stop offset="0.0625" stop-color="#0b0724"/><stop offset="0.0938" stop-color="#150b37"/><stop offset="0.1250" stop-color="#210c4a"/><stop offset="0.1562" stop-color="#2f0a5b"/><stop offset="0.1875" stop-color="#3d0965"/><stop offset="0.2188" stop-color="#4a0c6b"/><stop offset="0.2500" stop-color="#57106e"/><stop offset="0.2812" stop-color="#64156e"/><stop offset="0.3125" stop-color="#71196e"/><stop offset="0.3438" stop-color="#7d1e6d"/><stop offset="0.3750" stop-color="#8a226a"/><stop offset="0.4062" stop-color="#972766"/><stop offset="0.4375" stop-color="#a32c61"/><stop offset="0.4688" stop-color="#b0315b"/><stop offset="0.5000" stop-color="#bc3754"/><stop offset="0.5312" stop-color="#c73e4c"/><stop offset="0.5625" stop-color="#d24644"/><stop offset="0.5938" stop-color="#db503b"/><stop offset="0.6250" stop-color="#e45a31"/><stop offset="0.6562" stop-color="#eb6628"/><stop offset="0.6875" stop-color="#f1731d"/><stop offset="0.7188" stop-color="#f68013"/><stop offset="0.7500" stop-color="#f98e09"/><stop offset="0.7812" stop-color="#fb9d07"/><stop offset="0.8125" stop-color="#fcac11"/><stop offset="0.8438" stop-color="#fbbc21"/><stop offset="0.8750" stop-color="#f9cb35"/><stop offset="0.9062" stop-color="#f5db4c"/><stop offset="0.9375" stop-color="#f2ea69"/><stop offset="0.9688" stop-color="#f3f68a"/><stop offset="1.0000" stop-color="#fcffa4"/></linearGradient></defs>
<rect x="412.8" y="481.4" width="338.9" height="17.1" fill="url(#cb)" stroke="#dedede" stroke-width="1.1"/>
<line x1="445.5" y1="498.5" x2="445.5" y2="501.9" stroke="#dedede" stroke-width="0.9"/>
<text x="445.5" y="513.6" font-size="10.0" text-anchor="middle" fill="#f4f4f4">1000</text>
<line x1="484.17" y1="498.5" x2="484.17" y2="501.9" stroke="#dedede" stroke-width="0.9"/>
<text x="484.17" y="513.6" font-size="10.0" text-anchor="middle" fill="#f4f4f4">1250</text>
<line x1="522.85" y1="498.5" x2="522.85" y2="501.9" stroke="#dedede" stroke-width="0.9"/>
<text x="522.85" y="513.6" font-size="10.0" text-anchor="middle" fill="#f4f4f4">1500</text>
<line x1="561.52" y1="498.5" x2="561.52" y2="501.9" stroke="#dedede" stroke-width="0.9"/>
<text x="561.52" y="513.6" font-size="10.0" text-anchor="middle" fill="#f4f4f4">1750</text>
<line x1="600.19" y1="498.5" x2="600.19" y2="501.9" stroke="#dedede" stroke-width="0.9"/>
<text x="600.19" y="513.6" font-size="10.0" text-anchor="middle" fill="#f4f4f4">2000</text>
<line x1="638.86" y1="498.5" x2="638.86" y2="501.9" stroke="#dedede" stroke-width="0.9"/>
<text x="638.86" y="513.6" font-size="10.0" text-anchor="middle" fill="#f4f4f4">2250</text>
<line x1="677.53" y1="498.5" x2="677.53" y2="501.9" stroke="#dedede" stroke-width="0.9"/>
<text x="677.53" y="513.6" font-size="10.0" text-anchor="middle" fill="#f4f4f4">2500</text>
<line x1="716.21" y1="498.5" x2="716.21" y2="501.9" stroke="#dedede" stroke-width="0.9"/>
<text x="716.21" y="513.6" font-size="10.0" text-anchor="middle" fill="#f4f4f4">2750</text>
<text x="582.4" y="531" font-size="14.1" text-anchor="middle" fill="#f4f4f4">Temperature (Kelvin)</text>
<rect x="839.1" y="143.1" width="173.3" height="344" fill="none" stroke="#dedede" stroke-width="1.1"/>
<line x1="869.4" y1="487.1" x2="869.4" y2="493.1" stroke="#dedede" stroke-width="1.1"/>
<text x="869.4" y="509" font-size="16.0" text-anchor="middle" fill="#f4f4f4">1.2</text>
<line x1="899.55" y1="487.1" x2="899.55" y2="491" stroke="#dedede" stroke-width="0.9"/>
<line x1="929.7" y1="487.1" x2="929.7" y2="493.1" stroke="#dedede" stroke-width="1.1"/>
<text x="929.7" y="509" font-size="16.0" text-anchor="middle" fill="#f4f4f4">1.4</text>
<line x1="959.85" y1="487.1" x2="959.85" y2="491" stroke="#dedede" stroke-width="0.9"/>
<line x1="990" y1="487.1" x2="990" y2="493.1" stroke="#dedede" stroke-width="1.1"/>
<text x="990" y="509" font-size="16.0" text-anchor="middle" fill="#f4f4f4">1.6</text>
<line x1="839.1" y1="486.8" x2="833.1" y2="486.8" stroke="#dedede" stroke-width="1.1"/>
<text x="829.1" y="492.65" font-size="16.0" text-anchor="end" fill="#f4f4f4">400</text>
<line x1="839.1" y1="442.1" x2="833.1" y2="442.1" stroke="#dedede" stroke-width="1.1"/>
<text x="829.1" y="447.95" font-size="16.0" text-anchor="end" fill="#f4f4f4">500</text>
<line x1="839.1" y1="397.4" x2="833.1" y2="397.4" stroke="#dedede" stroke-width="1.1"/>
<text x="829.1" y="403.25" font-size="16.0" text-anchor="end" fill="#f4f4f4">600</text>
<line x1="839.1" y1="352.7" x2="833.1" y2="352.7" stroke="#dedede" stroke-width="1.1"/>
<text x="829.1" y="358.55" font-size="16.0" text-anchor="end" fill="#f4f4f4">700</text>
<line x1="839.1" y1="308" x2="833.1" y2="308" stroke="#dedede" stroke-width="1.1"/>
<text x="829.1" y="313.85" font-size="16.0" text-anchor="end" fill="#f4f4f4">800</text>
<line x1="839.1" y1="263.3" x2="833.1" y2="263.3" stroke="#dedede" stroke-width="1.1"/>
<text x="829.1" y="269.15" font-size="16.0" text-anchor="end" fill="#f4f4f4">900</text>
<line x1="839.1" y1="218.6" x2="833.1" y2="218.6" stroke="#dedede" stroke-width="1.1"/>
<text x="829.1" y="224.45" font-size="16.0" text-anchor="end" fill="#f4f4f4">1000</text>
<line x1="839.1" y1="173.9" x2="833.1" y2="173.9" stroke="#dedede" stroke-width="1.1"/>
<text x="829.1" y="179.75" font-size="16.0" text-anchor="end" fill="#f4f4f4">1100</text>
<text x="925.75" y="534.3" font-size="16.2" text-anchor="middle" fill="#f4f4f4">Wavelength (<tspan font-style="italic">μ</tspan>m)</text>
<text transform="translate(779.8 315.1) rotate(-90)" font-size="16.2" text-anchor="middle" fill="#f4f4f4">Planet emission relative to star (ppm)</text>
<polyline fill="none" stroke="#f0e8a0" stroke-width="1.8" stroke-linejoin="round" points="839.1,352 840.2,348.3 843.1,349.3 847.5,363.3 851.8,373.8 855.8,378.7 859.7,374.6 864.4,368.5 871.9,366.4 877.1,364.2 881.5,347.6 886.7,331.9 896.3,328 901.6,339.4 907.1,337.1 912,304 917.3,300.5 923.4,299.9 929.6,283.9 935.5,266.4 941.8,261.1 948.8,257.7 955.1,253.1 962.1,253.1 968,255.9 975,252.4 983.7,243.7 990.7,238.4 998.8,241.2 1006.5,229.7 1012.4,217.5"/>
<polyline fill="none" stroke="#add8e6" stroke-width="1.9" points="899.3,197.2 899.3,191.2 991,191.2 991,197.2"/>
<text y="173.8" font-size="16" fill="#add8e6"><tspan x="929.4">H</tspan><tspan x="941.5" dy="2.9" font-size="11.2">2</tspan><tspan x="949.2" dy="-2.9">O</tspan></text>
<text y="122" font-size="16" fill="#f0a860"><tspan x="846" font-style="italic">ϕ</tspan><tspan x="859.1">=</tspan><tspan x="876.4">0.27</tspan></text>
</svg></body></html>
